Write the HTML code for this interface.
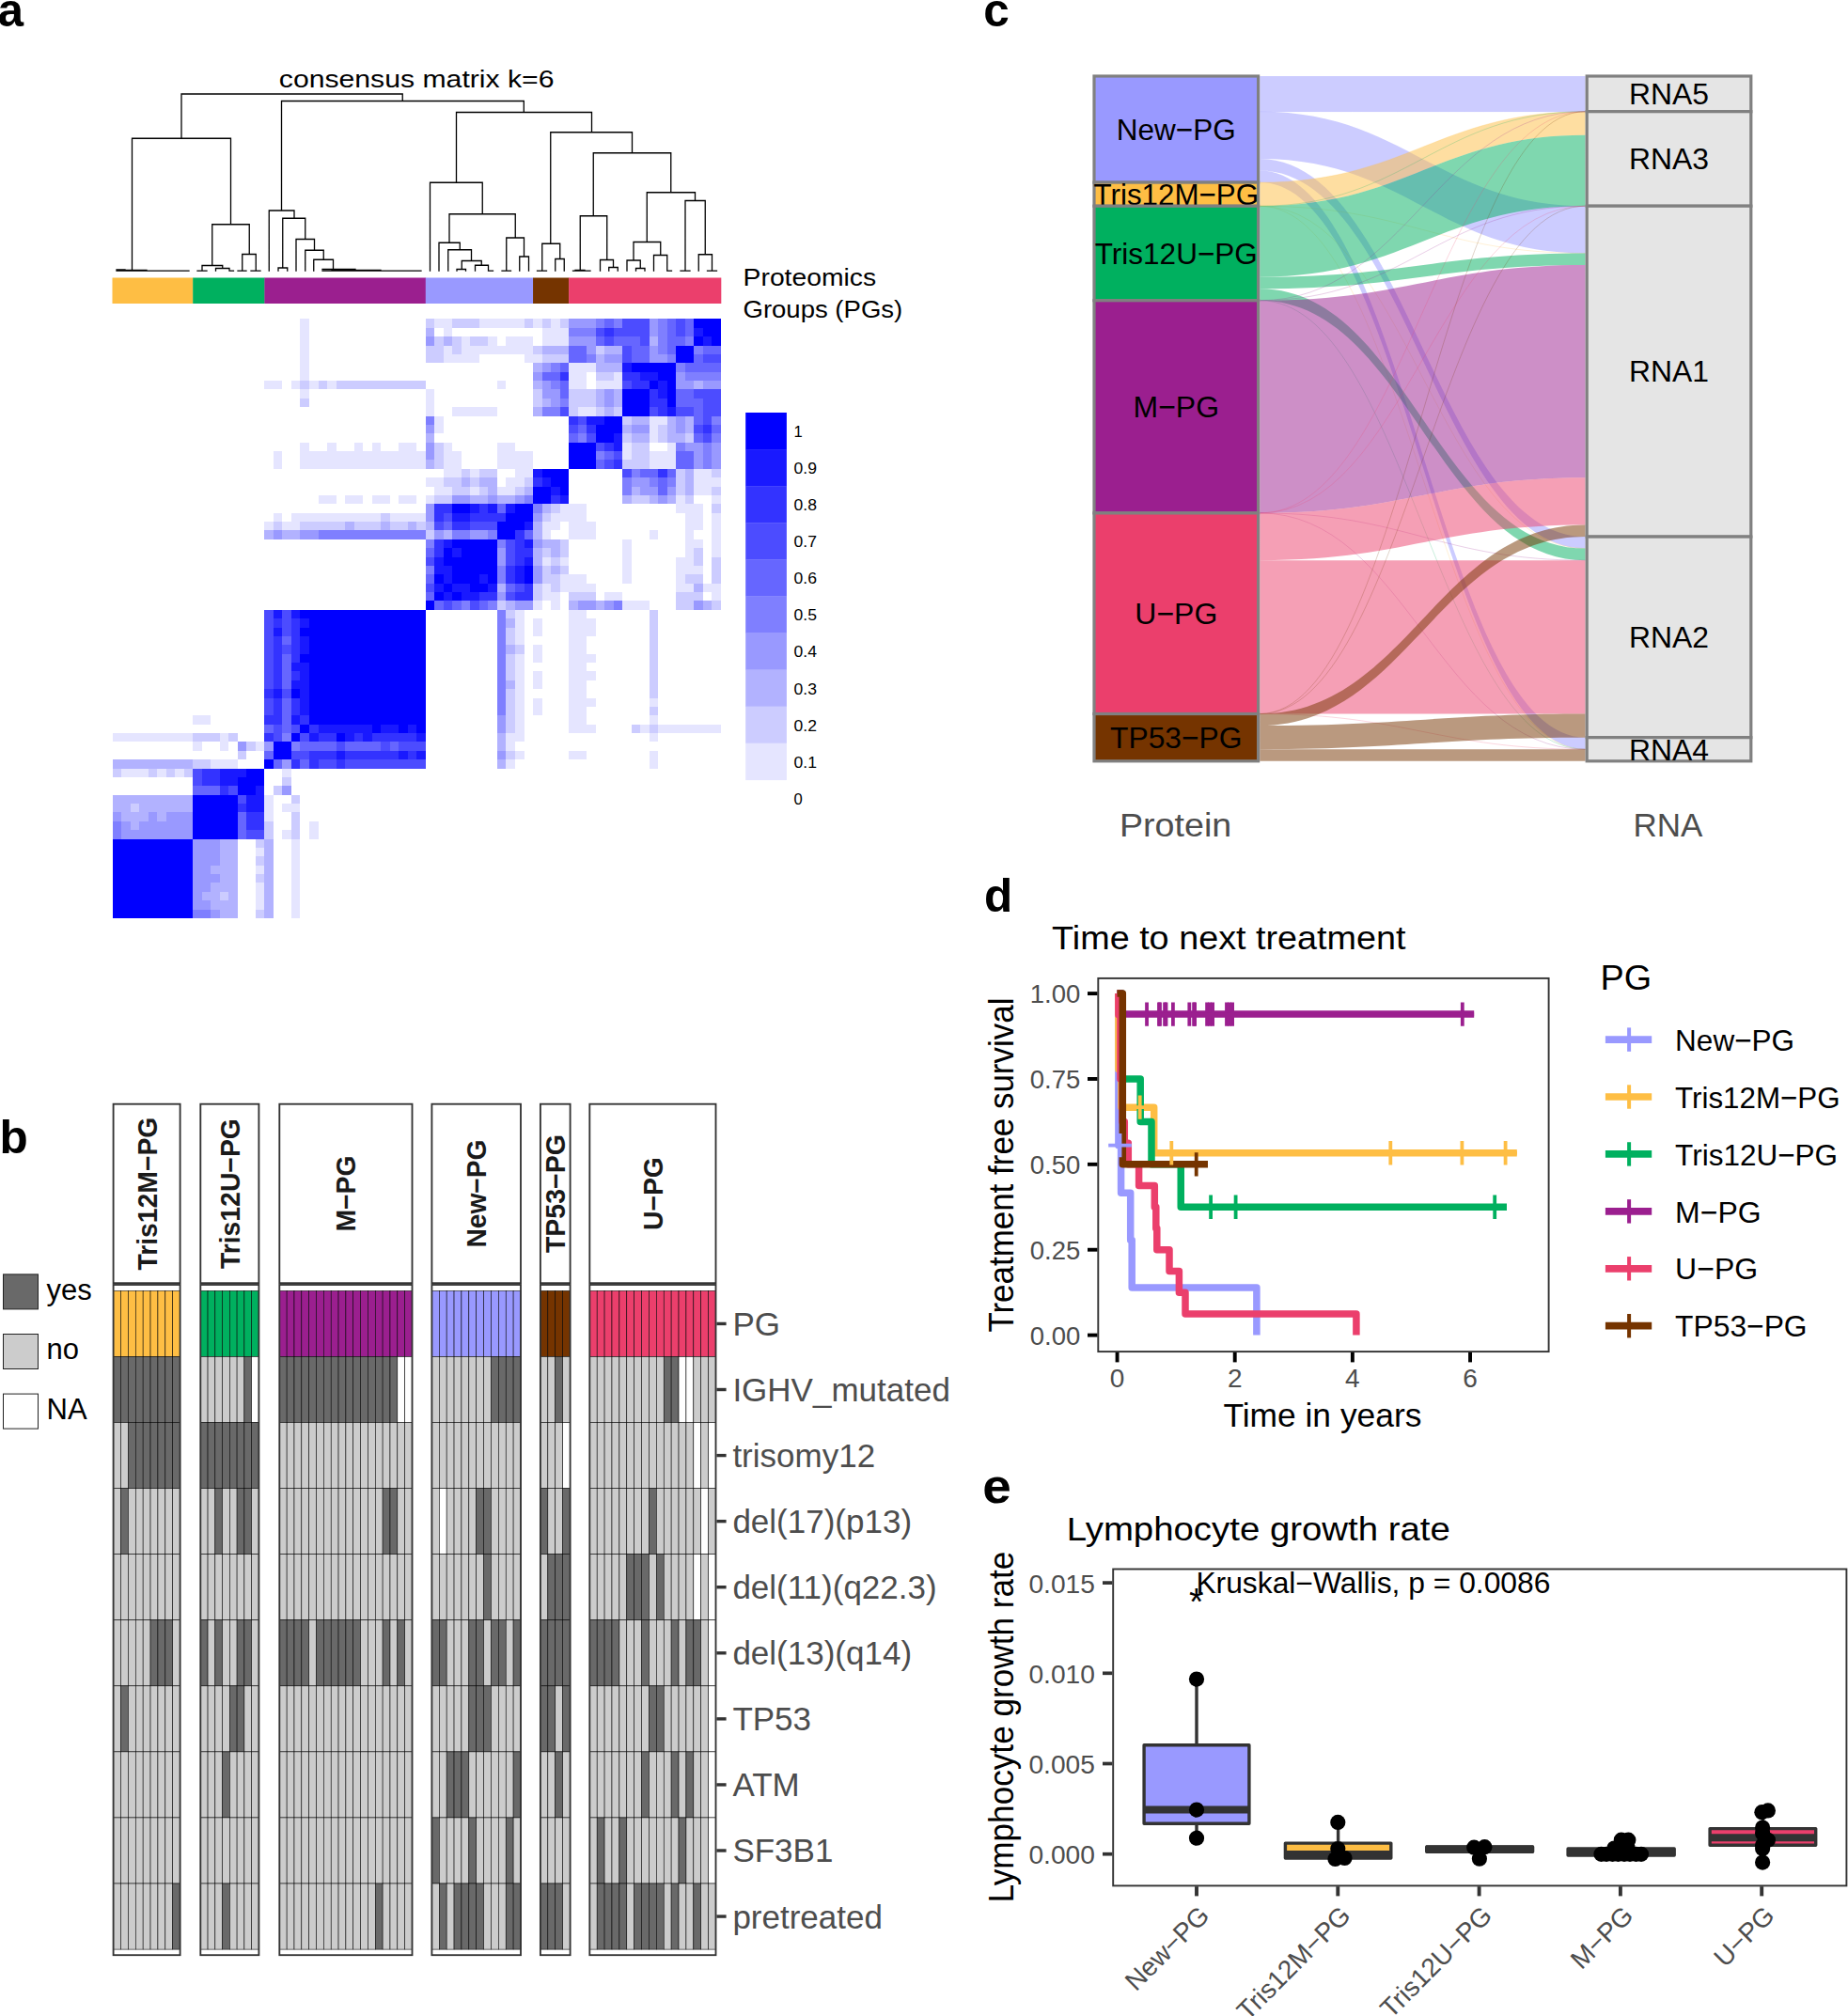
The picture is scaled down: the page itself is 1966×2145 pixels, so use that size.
<!DOCTYPE html>
<html lang="en"><head><meta charset="utf-8"><title>Figure</title>
<style>
html,body{margin:0;padding:0;background:#fff}
svg{display:block}
text{font-family:"Liberation Sans",sans-serif}
</style></head><body>
<svg width="1966" height="2145" viewBox="0 0 1966 2145">
<rect width="1966" height="2145" fill="#fff"/>
<g id="panel-a">
<path d="M193 100H428.25M428.25 100V107.5M299.5 107.5H557.3M193 100V147.25M140.5 147.25H245.5M140.5 147.25V288.2M245.5 147.25V238.75M225.75 238.75H265.25M225.75 238.75V282.5M265.25 238.75V270.5M257.75 270.5H272.25M257.75 270.5V288.2M272.25 270.5V288.2M215 282.5H236.75M215 282.5V288.2M236.75 282.5V285.5M229.5 285.5H244M229.5 285.5V288.2M244 285.5V288.2M210 288.2H220M244 288.2H248.5M253 288.2H262M267 288.2H277M124 288.2H201M124 287H133M133 287.5H156M299.5 107.5V224M286.25 224H313M286.25 224V288.2M313 224V232.25M300.75 232.25H324.75M300.75 232.25V285M296 285H305.75M296 285V288.2M305.75 285V288.2M324.75 232.25V254.5M315 254.5H334.5M315 254.5V288.2M334.5 254.5V266.25M324.75 266.25H344.25M324.75 266.25V288.2M344.25 266.25V276.25M333.75 276.25H354.5M333.75 276.25V288.2M354.5 276.25V286.5M343 286.5H378M353 287.3H405M343 288.2H448M557.3 107.5V119.5M485.5 119.5H629.5M485.5 119.5V194.25M457.5 194.25H513.25M457.5 194.25V288.2M513.25 194.25V227.75M478 227.75H548.25M478 227.75V258.25M467 258.25H489.25M467 258.25V288.2M489.25 258.25V265.75M476.75 265.75H501.5M476.75 265.75V288.2M501.5 265.75V277.5M491.25 277.5H512.25M491.25 277.5V286.5M486 286.5H495.5M486 286.5V288.2M495.5 286.5V288.2M512.25 277.5V282.25M505.5 282.25H519.5M505.5 282.25V288.2M519.5 282.25V288.2M519.5 288.2H524.5M548.25 227.75V253M538.75 253H557.5M538.75 253V288.2M534 288.2H543.5M557.5 253V273M552.75 273H562.5M552.75 273V288.2M562.5 273V288.2M629.5 119.5V140.75M585.75 140.75H672.5M585.75 140.75V259.25M576.75 259.25H595.75M576.75 259.25V288.2M571.5 288.2H581.5M595.75 259.25V275.5M590.75 275.5H600.25M590.75 275.5V288.2M600.25 275.5V288.2M672.5 140.75V162.75M631.25 162.75H713.75M631.25 162.75V229.75M617.25 229.75H645.75M617.25 229.75V288.2M609.5 288.2H628M612 287.5H622M645.75 229.75V276.5M638.5 276.5H652.5M638.5 276.5V288.2M652.5 276.5V284.5M647.75 284.5H657.25M647.75 284.5V288.2M657.25 284.5V288.2M713.75 162.75V204.75M688.25 204.75H739.5M688.25 204.75V257.5M674 257.5H702.75M674 257.5V277M667 277H681.25M667 277V288.2M681.25 277V285.5M676.5 285.5H686M676.5 285.5V288.2M686 285.5V288.2M702.75 257.5V271.5M695.5 271.5H709.75M695.5 271.5V288.2M709.75 271.5V288.2M709.75 288.2H714.5M739.5 204.75V213.5M729 213.5H750.25M729 213.5V288.2M724 288.2H734M750.25 213.5V270.75M743.25 270.75H757.5M743.25 270.75V288.2M757.5 270.75V288.2M752.5 288.2H762.5" fill="none" stroke="#000" stroke-width="1.3" stroke-linecap="square"/>
<rect x="119.5" y="295.5" width="86" height="27.5" fill="#FEBE44"/>
<rect x="205.2" y="295.5" width="76.48" height="27.5" fill="#00B05F"/>
<rect x="281.38" y="295.5" width="171.7" height="27.5" fill="#9B1F8F"/>
<rect x="452.77" y="295.5" width="114.56" height="27.5" fill="#9999FF"/>
<rect x="567.04" y="295.5" width="38.39" height="27.5" fill="#753400"/>
<rect x="605.12" y="295.5" width="162.18" height="27.5" fill="#EB3F6C"/>
<g shape-rendering="crispEdges">
<rect x="319.46" y="339.4" width="9.52" height="9.38" fill="#E5E5FF"/>
<rect x="452.77" y="339.4" width="9.52" height="9.38" fill="#CCCCFF"/>
<rect x="462.29" y="339.4" width="19.04" height="9.38" fill="#E5E5FF"/>
<rect x="481.34" y="339.4" width="28.57" height="9.38" fill="#CCCCFF"/>
<rect x="509.9" y="339.4" width="47.61" height="9.38" fill="#E5E5FF"/>
<rect x="557.51" y="339.4" width="9.52" height="9.38" fill="#CCCCFF"/>
<rect x="567.04" y="339.4" width="9.52" height="9.38" fill="#E5E5FF"/>
<rect x="576.56" y="339.4" width="9.52" height="9.38" fill="#CCCCFF"/>
<rect x="586.08" y="339.4" width="9.52" height="9.38" fill="#E5E5FF"/>
<rect x="595.6" y="339.4" width="9.52" height="9.38" fill="#CCCCFF"/>
<rect x="605.12" y="339.4" width="28.57" height="9.38" fill="#9999FF"/>
<rect x="633.69" y="339.4" width="9.52" height="9.38" fill="#7F7FFF"/>
<rect x="643.21" y="339.4" width="9.52" height="9.38" fill="#6666FF"/>
<rect x="652.74" y="339.4" width="9.52" height="9.38" fill="#7F7FFF"/>
<rect x="662.26" y="339.4" width="28.57" height="9.38" fill="#4C4CFF"/>
<rect x="690.82" y="339.4" width="9.52" height="9.38" fill="#9999FF"/>
<rect x="700.35" y="339.4" width="9.52" height="9.38" fill="#7F7FFF"/>
<rect x="709.87" y="339.4" width="9.52" height="9.38" fill="#6666FF"/>
<rect x="719.39" y="339.4" width="9.52" height="9.38" fill="#4C4CFF"/>
<rect x="728.91" y="339.4" width="9.52" height="9.38" fill="#6666FF"/>
<rect x="738.43" y="339.4" width="28.57" height="9.38" fill="#0000FF"/>
<rect x="319.46" y="348.78" width="9.52" height="9.38" fill="#E5E5FF"/>
<rect x="452.77" y="348.78" width="9.52" height="9.38" fill="#B2B2FF"/>
<rect x="471.82" y="348.78" width="9.52" height="9.38" fill="#E5E5FF"/>
<rect x="576.56" y="348.78" width="28.57" height="9.38" fill="#E5E5FF"/>
<rect x="605.12" y="348.78" width="28.57" height="9.38" fill="#7F7FFF"/>
<rect x="633.69" y="348.78" width="9.52" height="9.38" fill="#4C4CFF"/>
<rect x="643.21" y="348.78" width="9.52" height="9.38" fill="#3333FF"/>
<rect x="652.74" y="348.78" width="38.09" height="9.38" fill="#4C4CFF"/>
<rect x="690.82" y="348.78" width="9.52" height="9.38" fill="#9999FF"/>
<rect x="700.35" y="348.78" width="9.52" height="9.38" fill="#7F7FFF"/>
<rect x="709.87" y="348.78" width="9.52" height="9.38" fill="#6666FF"/>
<rect x="719.39" y="348.78" width="9.52" height="9.38" fill="#4C4CFF"/>
<rect x="728.91" y="348.78" width="9.52" height="9.38" fill="#6666FF"/>
<rect x="738.43" y="348.78" width="9.52" height="9.38" fill="#1919FF"/>
<rect x="747.96" y="348.78" width="19.04" height="9.38" fill="#0000FF"/>
<rect x="319.46" y="358.15" width="9.52" height="9.38" fill="#E5E5FF"/>
<rect x="452.77" y="358.15" width="9.52" height="9.38" fill="#9999FF"/>
<rect x="462.29" y="358.15" width="9.52" height="9.38" fill="#CCCCFF"/>
<rect x="471.82" y="358.15" width="9.52" height="9.38" fill="#B2B2FF"/>
<rect x="481.34" y="358.15" width="9.52" height="9.38" fill="#CCCCFF"/>
<rect x="490.86" y="358.15" width="9.52" height="9.38" fill="#E5E5FF"/>
<rect x="500.38" y="358.15" width="19.04" height="9.38" fill="#CCCCFF"/>
<rect x="519.43" y="358.15" width="9.52" height="9.38" fill="#E5E5FF"/>
<rect x="538.47" y="358.15" width="28.57" height="9.38" fill="#E5E5FF"/>
<rect x="576.56" y="358.15" width="28.57" height="9.38" fill="#E5E5FF"/>
<rect x="605.12" y="358.15" width="28.57" height="9.38" fill="#9999FF"/>
<rect x="633.69" y="358.15" width="9.52" height="9.38" fill="#6666FF"/>
<rect x="643.21" y="358.15" width="9.52" height="9.38" fill="#4C4CFF"/>
<rect x="652.74" y="358.15" width="28.57" height="9.38" fill="#6666FF"/>
<rect x="681.3" y="358.15" width="9.52" height="9.38" fill="#4C4CFF"/>
<rect x="690.82" y="358.15" width="9.52" height="9.38" fill="#B2B2FF"/>
<rect x="700.35" y="358.15" width="9.52" height="9.38" fill="#7F7FFF"/>
<rect x="709.87" y="358.15" width="19.04" height="9.38" fill="#6666FF"/>
<rect x="728.91" y="358.15" width="9.52" height="9.38" fill="#7F7FFF"/>
<rect x="738.43" y="358.15" width="9.52" height="9.38" fill="#0000FF"/>
<rect x="747.96" y="358.15" width="9.52" height="9.38" fill="#1919FF"/>
<rect x="757.48" y="358.15" width="9.52" height="9.38" fill="#0000FF"/>
<rect x="319.46" y="367.53" width="9.52" height="9.38" fill="#E5E5FF"/>
<rect x="452.77" y="367.53" width="19.04" height="9.38" fill="#CCCCFF"/>
<rect x="471.82" y="367.53" width="9.52" height="9.38" fill="#E5E5FF"/>
<rect x="481.34" y="367.53" width="9.52" height="9.38" fill="#CCCCFF"/>
<rect x="490.86" y="367.53" width="76.18" height="9.38" fill="#E5E5FF"/>
<rect x="567.04" y="367.53" width="9.52" height="9.38" fill="#CCCCFF"/>
<rect x="576.56" y="367.53" width="28.57" height="9.38" fill="#B2B2FF"/>
<rect x="605.12" y="367.53" width="19.04" height="9.38" fill="#6666FF"/>
<rect x="624.17" y="367.53" width="9.52" height="9.38" fill="#9999FF"/>
<rect x="633.69" y="367.53" width="9.52" height="9.38" fill="#CCCCFF"/>
<rect x="643.21" y="367.53" width="19.04" height="9.38" fill="#B2B2FF"/>
<rect x="662.26" y="367.53" width="9.52" height="9.38" fill="#4C4CFF"/>
<rect x="671.78" y="367.53" width="19.04" height="9.38" fill="#6666FF"/>
<rect x="690.82" y="367.53" width="9.52" height="9.38" fill="#9999FF"/>
<rect x="700.35" y="367.53" width="9.52" height="9.38" fill="#7F7FFF"/>
<rect x="709.87" y="367.53" width="9.52" height="9.38" fill="#6666FF"/>
<rect x="719.39" y="367.53" width="19.04" height="9.38" fill="#0000FF"/>
<rect x="738.43" y="367.53" width="9.52" height="9.38" fill="#7F7FFF"/>
<rect x="747.96" y="367.53" width="19.04" height="9.38" fill="#6666FF"/>
<rect x="319.46" y="376.91" width="9.52" height="9.38" fill="#E5E5FF"/>
<rect x="452.77" y="376.91" width="19.04" height="9.38" fill="#CCCCFF"/>
<rect x="471.82" y="376.91" width="38.09" height="9.38" fill="#E5E5FF"/>
<rect x="557.51" y="376.91" width="19.04" height="9.38" fill="#E5E5FF"/>
<rect x="576.56" y="376.91" width="28.57" height="9.38" fill="#CCCCFF"/>
<rect x="605.12" y="376.91" width="19.04" height="9.38" fill="#6666FF"/>
<rect x="624.17" y="376.91" width="9.52" height="9.38" fill="#7F7FFF"/>
<rect x="633.69" y="376.91" width="9.52" height="9.38" fill="#B2B2FF"/>
<rect x="643.21" y="376.91" width="19.04" height="9.38" fill="#9999FF"/>
<rect x="662.26" y="376.91" width="9.52" height="9.38" fill="#4C4CFF"/>
<rect x="671.78" y="376.91" width="19.04" height="9.38" fill="#6666FF"/>
<rect x="690.82" y="376.91" width="19.04" height="9.38" fill="#9999FF"/>
<rect x="709.87" y="376.91" width="9.52" height="9.38" fill="#7F7FFF"/>
<rect x="719.39" y="376.91" width="19.04" height="9.38" fill="#0000FF"/>
<rect x="738.43" y="376.91" width="9.52" height="9.38" fill="#6666FF"/>
<rect x="747.96" y="376.91" width="19.04" height="9.38" fill="#4C4CFF"/>
<rect x="319.46" y="386.28" width="9.52" height="9.38" fill="#E5E5FF"/>
<rect x="567.04" y="386.28" width="9.52" height="9.38" fill="#B2B2FF"/>
<rect x="576.56" y="386.28" width="9.52" height="9.38" fill="#9999FF"/>
<rect x="586.08" y="386.28" width="9.52" height="9.38" fill="#7F7FFF"/>
<rect x="595.6" y="386.28" width="9.52" height="9.38" fill="#6666FF"/>
<rect x="605.12" y="386.28" width="28.57" height="9.38" fill="#E5E5FF"/>
<rect x="633.69" y="386.28" width="28.57" height="9.38" fill="#B2B2FF"/>
<rect x="662.26" y="386.28" width="9.52" height="9.38" fill="#1919FF"/>
<rect x="671.78" y="386.28" width="47.61" height="9.38" fill="#0000FF"/>
<rect x="719.39" y="386.28" width="9.52" height="9.38" fill="#7F7FFF"/>
<rect x="728.91" y="386.28" width="38.09" height="9.38" fill="#6666FF"/>
<rect x="319.46" y="395.66" width="9.52" height="9.38" fill="#E5E5FF"/>
<rect x="567.04" y="395.66" width="9.52" height="9.38" fill="#9999FF"/>
<rect x="576.56" y="395.66" width="19.04" height="9.38" fill="#6666FF"/>
<rect x="595.6" y="395.66" width="9.52" height="9.38" fill="#3333FF"/>
<rect x="605.12" y="395.66" width="19.04" height="9.38" fill="#E5E5FF"/>
<rect x="633.69" y="395.66" width="19.04" height="9.38" fill="#CCCCFF"/>
<rect x="652.74" y="395.66" width="9.52" height="9.38" fill="#E5E5FF"/>
<rect x="662.26" y="395.66" width="19.04" height="9.38" fill="#3333FF"/>
<rect x="681.3" y="395.66" width="19.04" height="9.38" fill="#1919FF"/>
<rect x="700.35" y="395.66" width="19.04" height="9.38" fill="#0000FF"/>
<rect x="719.39" y="395.66" width="9.52" height="9.38" fill="#9999FF"/>
<rect x="728.91" y="395.66" width="38.09" height="9.38" fill="#7F7FFF"/>
<rect x="281.38" y="405.04" width="19.04" height="9.38" fill="#E5E5FF"/>
<rect x="309.94" y="405.04" width="9.52" height="9.38" fill="#E5E5FF"/>
<rect x="319.46" y="405.04" width="9.52" height="9.38" fill="#CCCCFF"/>
<rect x="328.99" y="405.04" width="9.52" height="9.38" fill="#E5E5FF"/>
<rect x="338.51" y="405.04" width="9.52" height="9.38" fill="#CCCCFF"/>
<rect x="348.03" y="405.04" width="9.52" height="9.38" fill="#E5E5FF"/>
<rect x="357.55" y="405.04" width="95.22" height="9.38" fill="#CCCCFF"/>
<rect x="528.95" y="405.04" width="9.52" height="9.38" fill="#E5E5FF"/>
<rect x="567.04" y="405.04" width="9.52" height="9.38" fill="#B2B2FF"/>
<rect x="576.56" y="405.04" width="9.52" height="9.38" fill="#9999FF"/>
<rect x="586.08" y="405.04" width="9.52" height="9.38" fill="#7F7FFF"/>
<rect x="595.6" y="405.04" width="9.52" height="9.38" fill="#6666FF"/>
<rect x="605.12" y="405.04" width="19.04" height="9.38" fill="#E5E5FF"/>
<rect x="633.69" y="405.04" width="28.57" height="9.38" fill="#E5E5FF"/>
<rect x="662.26" y="405.04" width="9.52" height="9.38" fill="#4C4CFF"/>
<rect x="671.78" y="405.04" width="19.04" height="9.38" fill="#3333FF"/>
<rect x="690.82" y="405.04" width="9.52" height="9.38" fill="#0000FF"/>
<rect x="700.35" y="405.04" width="9.52" height="9.38" fill="#1919FF"/>
<rect x="709.87" y="405.04" width="9.52" height="9.38" fill="#0000FF"/>
<rect x="719.39" y="405.04" width="19.04" height="9.38" fill="#9999FF"/>
<rect x="738.43" y="405.04" width="9.52" height="9.38" fill="#B2B2FF"/>
<rect x="747.96" y="405.04" width="19.04" height="9.38" fill="#9999FF"/>
<rect x="319.46" y="414.41" width="9.52" height="9.38" fill="#E5E5FF"/>
<rect x="452.77" y="414.41" width="9.52" height="9.38" fill="#E5E5FF"/>
<rect x="567.04" y="414.41" width="9.52" height="9.38" fill="#CCCCFF"/>
<rect x="576.56" y="414.41" width="19.04" height="9.38" fill="#9999FF"/>
<rect x="595.6" y="414.41" width="9.52" height="9.38" fill="#6666FF"/>
<rect x="605.12" y="414.41" width="28.57" height="9.38" fill="#CCCCFF"/>
<rect x="633.69" y="414.41" width="9.52" height="9.38" fill="#B2B2FF"/>
<rect x="643.21" y="414.41" width="9.52" height="9.38" fill="#9999FF"/>
<rect x="652.74" y="414.41" width="9.52" height="9.38" fill="#B2B2FF"/>
<rect x="662.26" y="414.41" width="28.57" height="9.38" fill="#0000FF"/>
<rect x="690.82" y="414.41" width="9.52" height="9.38" fill="#3333FF"/>
<rect x="700.35" y="414.41" width="9.52" height="9.38" fill="#1919FF"/>
<rect x="709.87" y="414.41" width="9.52" height="9.38" fill="#0000FF"/>
<rect x="719.39" y="414.41" width="19.04" height="9.38" fill="#6666FF"/>
<rect x="738.43" y="414.41" width="28.57" height="9.38" fill="#4C4CFF"/>
<rect x="319.46" y="423.79" width="9.52" height="9.38" fill="#CCCCFF"/>
<rect x="452.77" y="423.79" width="9.52" height="9.38" fill="#E5E5FF"/>
<rect x="567.04" y="423.79" width="9.52" height="9.38" fill="#CCCCFF"/>
<rect x="576.56" y="423.79" width="9.52" height="9.38" fill="#B2B2FF"/>
<rect x="586.08" y="423.79" width="9.52" height="9.38" fill="#9999FF"/>
<rect x="595.6" y="423.79" width="9.52" height="9.38" fill="#7F7FFF"/>
<rect x="605.12" y="423.79" width="28.57" height="9.38" fill="#CCCCFF"/>
<rect x="633.69" y="423.79" width="9.52" height="9.38" fill="#B2B2FF"/>
<rect x="643.21" y="423.79" width="9.52" height="9.38" fill="#9999FF"/>
<rect x="652.74" y="423.79" width="9.52" height="9.38" fill="#B2B2FF"/>
<rect x="662.26" y="423.79" width="28.57" height="9.38" fill="#0000FF"/>
<rect x="690.82" y="423.79" width="19.04" height="9.38" fill="#3333FF"/>
<rect x="709.87" y="423.79" width="9.52" height="9.38" fill="#0000FF"/>
<rect x="719.39" y="423.79" width="28.57" height="9.38" fill="#6666FF"/>
<rect x="747.96" y="423.79" width="19.04" height="9.38" fill="#4C4CFF"/>
<rect x="452.77" y="433.16" width="9.52" height="9.38" fill="#E5E5FF"/>
<rect x="481.34" y="433.16" width="47.61" height="9.38" fill="#E5E5FF"/>
<rect x="567.04" y="433.16" width="9.52" height="9.38" fill="#B2B2FF"/>
<rect x="576.56" y="433.16" width="19.04" height="9.38" fill="#7F7FFF"/>
<rect x="595.6" y="433.16" width="9.52" height="9.38" fill="#4C4CFF"/>
<rect x="605.12" y="433.16" width="9.52" height="9.38" fill="#CCCCFF"/>
<rect x="614.65" y="433.16" width="19.04" height="9.38" fill="#E5E5FF"/>
<rect x="633.69" y="433.16" width="9.52" height="9.38" fill="#CCCCFF"/>
<rect x="643.21" y="433.16" width="9.52" height="9.38" fill="#B2B2FF"/>
<rect x="652.74" y="433.16" width="9.52" height="9.38" fill="#CCCCFF"/>
<rect x="662.26" y="433.16" width="28.57" height="9.38" fill="#0000FF"/>
<rect x="690.82" y="433.16" width="9.52" height="9.38" fill="#4C4CFF"/>
<rect x="700.35" y="433.16" width="9.52" height="9.38" fill="#3333FF"/>
<rect x="709.87" y="433.16" width="9.52" height="9.38" fill="#1919FF"/>
<rect x="719.39" y="433.16" width="19.04" height="9.38" fill="#4C4CFF"/>
<rect x="738.43" y="433.16" width="9.52" height="9.38" fill="#6666FF"/>
<rect x="747.96" y="433.16" width="19.04" height="9.38" fill="#4C4CFF"/>
<rect x="452.77" y="442.54" width="9.52" height="9.38" fill="#7F7FFF"/>
<rect x="462.29" y="442.54" width="9.52" height="9.38" fill="#E5E5FF"/>
<rect x="605.12" y="442.54" width="9.52" height="9.38" fill="#3333FF"/>
<rect x="614.65" y="442.54" width="9.52" height="9.38" fill="#4C4CFF"/>
<rect x="624.17" y="442.54" width="19.04" height="9.38" fill="#1919FF"/>
<rect x="643.21" y="442.54" width="19.04" height="9.38" fill="#0000FF"/>
<rect x="662.26" y="442.54" width="9.52" height="9.38" fill="#CCCCFF"/>
<rect x="671.78" y="442.54" width="19.04" height="9.38" fill="#B2B2FF"/>
<rect x="690.82" y="442.54" width="19.04" height="9.38" fill="#E5E5FF"/>
<rect x="709.87" y="442.54" width="9.52" height="9.38" fill="#B2B2FF"/>
<rect x="719.39" y="442.54" width="9.52" height="9.38" fill="#9999FF"/>
<rect x="728.91" y="442.54" width="9.52" height="9.38" fill="#B2B2FF"/>
<rect x="738.43" y="442.54" width="9.52" height="9.38" fill="#6666FF"/>
<rect x="747.96" y="442.54" width="9.52" height="9.38" fill="#4C4CFF"/>
<rect x="757.48" y="442.54" width="9.52" height="9.38" fill="#7F7FFF"/>
<rect x="452.77" y="451.92" width="9.52" height="9.38" fill="#9999FF"/>
<rect x="462.29" y="451.92" width="9.52" height="9.38" fill="#E5E5FF"/>
<rect x="605.12" y="451.92" width="9.52" height="9.38" fill="#4C4CFF"/>
<rect x="614.65" y="451.92" width="9.52" height="9.38" fill="#6666FF"/>
<rect x="624.17" y="451.92" width="9.52" height="9.38" fill="#3333FF"/>
<rect x="633.69" y="451.92" width="28.57" height="9.38" fill="#0000FF"/>
<rect x="662.26" y="451.92" width="9.52" height="9.38" fill="#B2B2FF"/>
<rect x="671.78" y="451.92" width="19.04" height="9.38" fill="#9999FF"/>
<rect x="690.82" y="451.92" width="9.52" height="9.38" fill="#E5E5FF"/>
<rect x="700.35" y="451.92" width="9.52" height="9.38" fill="#CCCCFF"/>
<rect x="709.87" y="451.92" width="9.52" height="9.38" fill="#B2B2FF"/>
<rect x="719.39" y="451.92" width="9.52" height="9.38" fill="#9999FF"/>
<rect x="728.91" y="451.92" width="9.52" height="9.38" fill="#B2B2FF"/>
<rect x="738.43" y="451.92" width="9.52" height="9.38" fill="#4C4CFF"/>
<rect x="747.96" y="451.92" width="9.52" height="9.38" fill="#3333FF"/>
<rect x="757.48" y="451.92" width="9.52" height="9.38" fill="#6666FF"/>
<rect x="452.77" y="461.29" width="9.52" height="9.38" fill="#B2B2FF"/>
<rect x="605.12" y="461.29" width="9.52" height="9.38" fill="#6666FF"/>
<rect x="614.65" y="461.29" width="9.52" height="9.38" fill="#7F7FFF"/>
<rect x="624.17" y="461.29" width="9.52" height="9.38" fill="#4C4CFF"/>
<rect x="633.69" y="461.29" width="19.04" height="9.38" fill="#0000FF"/>
<rect x="652.74" y="461.29" width="9.52" height="9.38" fill="#1919FF"/>
<rect x="662.26" y="461.29" width="9.52" height="9.38" fill="#CCCCFF"/>
<rect x="671.78" y="461.29" width="19.04" height="9.38" fill="#B2B2FF"/>
<rect x="690.82" y="461.29" width="9.52" height="9.38" fill="#E5E5FF"/>
<rect x="700.35" y="461.29" width="9.52" height="9.38" fill="#CCCCFF"/>
<rect x="709.87" y="461.29" width="19.04" height="9.38" fill="#B2B2FF"/>
<rect x="728.91" y="461.29" width="9.52" height="9.38" fill="#CCCCFF"/>
<rect x="738.43" y="461.29" width="9.52" height="9.38" fill="#6666FF"/>
<rect x="747.96" y="461.29" width="9.52" height="9.38" fill="#4C4CFF"/>
<rect x="757.48" y="461.29" width="9.52" height="9.38" fill="#7F7FFF"/>
<rect x="319.46" y="470.67" width="9.52" height="9.38" fill="#E5E5FF"/>
<rect x="348.03" y="470.67" width="9.52" height="9.38" fill="#E5E5FF"/>
<rect x="376.6" y="470.67" width="9.52" height="9.38" fill="#E5E5FF"/>
<rect x="395.64" y="470.67" width="9.52" height="9.38" fill="#E5E5FF"/>
<rect x="424.21" y="470.67" width="19.04" height="9.38" fill="#E5E5FF"/>
<rect x="452.77" y="470.67" width="9.52" height="9.38" fill="#9999FF"/>
<rect x="462.29" y="470.67" width="9.52" height="9.38" fill="#CCCCFF"/>
<rect x="471.82" y="470.67" width="9.52" height="9.38" fill="#E5E5FF"/>
<rect x="528.95" y="470.67" width="19.04" height="9.38" fill="#E5E5FF"/>
<rect x="605.12" y="470.67" width="28.57" height="9.38" fill="#0000FF"/>
<rect x="633.69" y="470.67" width="9.52" height="9.38" fill="#4C4CFF"/>
<rect x="643.21" y="470.67" width="9.52" height="9.38" fill="#3333FF"/>
<rect x="652.74" y="470.67" width="9.52" height="9.38" fill="#1919FF"/>
<rect x="662.26" y="470.67" width="9.52" height="9.38" fill="#E5E5FF"/>
<rect x="671.78" y="470.67" width="19.04" height="9.38" fill="#CCCCFF"/>
<rect x="709.87" y="470.67" width="9.52" height="9.38" fill="#E5E5FF"/>
<rect x="719.39" y="470.67" width="9.52" height="9.38" fill="#7F7FFF"/>
<rect x="728.91" y="470.67" width="19.04" height="9.38" fill="#9999FF"/>
<rect x="747.96" y="470.67" width="9.52" height="9.38" fill="#7F7FFF"/>
<rect x="757.48" y="470.67" width="9.52" height="9.38" fill="#9999FF"/>
<rect x="290.9" y="480.05" width="9.52" height="9.38" fill="#E5E5FF"/>
<rect x="319.46" y="480.05" width="133.31" height="9.38" fill="#E5E5FF"/>
<rect x="452.77" y="480.05" width="9.52" height="9.38" fill="#9999FF"/>
<rect x="462.29" y="480.05" width="9.52" height="9.38" fill="#CCCCFF"/>
<rect x="471.82" y="480.05" width="19.04" height="9.38" fill="#E5E5FF"/>
<rect x="528.95" y="480.05" width="38.09" height="9.38" fill="#E5E5FF"/>
<rect x="605.12" y="480.05" width="28.57" height="9.38" fill="#0000FF"/>
<rect x="633.69" y="480.05" width="9.52" height="9.38" fill="#7F7FFF"/>
<rect x="643.21" y="480.05" width="9.52" height="9.38" fill="#6666FF"/>
<rect x="652.74" y="480.05" width="9.52" height="9.38" fill="#4C4CFF"/>
<rect x="662.26" y="480.05" width="9.52" height="9.38" fill="#E5E5FF"/>
<rect x="671.78" y="480.05" width="19.04" height="9.38" fill="#CCCCFF"/>
<rect x="690.82" y="480.05" width="28.57" height="9.38" fill="#E5E5FF"/>
<rect x="719.39" y="480.05" width="19.04" height="9.38" fill="#6666FF"/>
<rect x="738.43" y="480.05" width="9.52" height="9.38" fill="#9999FF"/>
<rect x="747.96" y="480.05" width="9.52" height="9.38" fill="#7F7FFF"/>
<rect x="757.48" y="480.05" width="9.52" height="9.38" fill="#9999FF"/>
<rect x="290.9" y="489.42" width="9.52" height="9.38" fill="#E5E5FF"/>
<rect x="319.46" y="489.42" width="133.31" height="9.38" fill="#E5E5FF"/>
<rect x="452.77" y="489.42" width="9.52" height="9.38" fill="#B2B2FF"/>
<rect x="462.29" y="489.42" width="9.52" height="9.38" fill="#CCCCFF"/>
<rect x="471.82" y="489.42" width="19.04" height="9.38" fill="#E5E5FF"/>
<rect x="528.95" y="489.42" width="38.09" height="9.38" fill="#E5E5FF"/>
<rect x="605.12" y="489.42" width="28.57" height="9.38" fill="#0000FF"/>
<rect x="633.69" y="489.42" width="9.52" height="9.38" fill="#6666FF"/>
<rect x="643.21" y="489.42" width="9.52" height="9.38" fill="#4C4CFF"/>
<rect x="652.74" y="489.42" width="9.52" height="9.38" fill="#3333FF"/>
<rect x="662.26" y="489.42" width="28.57" height="9.38" fill="#CCCCFF"/>
<rect x="690.82" y="489.42" width="28.57" height="9.38" fill="#E5E5FF"/>
<rect x="719.39" y="489.42" width="19.04" height="9.38" fill="#6666FF"/>
<rect x="738.43" y="489.42" width="9.52" height="9.38" fill="#9999FF"/>
<rect x="747.96" y="489.42" width="9.52" height="9.38" fill="#7F7FFF"/>
<rect x="757.48" y="489.42" width="9.52" height="9.38" fill="#9999FF"/>
<rect x="471.82" y="498.8" width="19.04" height="9.38" fill="#E5E5FF"/>
<rect x="490.86" y="498.8" width="9.52" height="9.38" fill="#CCCCFF"/>
<rect x="500.38" y="498.8" width="9.52" height="9.38" fill="#E5E5FF"/>
<rect x="509.9" y="498.8" width="19.04" height="9.38" fill="#CCCCFF"/>
<rect x="547.99" y="498.8" width="19.04" height="9.38" fill="#E5E5FF"/>
<rect x="567.04" y="498.8" width="9.52" height="9.38" fill="#1919FF"/>
<rect x="576.56" y="498.8" width="28.57" height="9.38" fill="#0000FF"/>
<rect x="662.26" y="498.8" width="9.52" height="9.38" fill="#4C4CFF"/>
<rect x="671.78" y="498.8" width="9.52" height="9.38" fill="#7F7FFF"/>
<rect x="681.3" y="498.8" width="19.04" height="9.38" fill="#6666FF"/>
<rect x="700.35" y="498.8" width="9.52" height="9.38" fill="#3333FF"/>
<rect x="709.87" y="498.8" width="9.52" height="9.38" fill="#6666FF"/>
<rect x="719.39" y="498.8" width="9.52" height="9.38" fill="#CCCCFF"/>
<rect x="728.91" y="498.8" width="9.52" height="9.38" fill="#B2B2FF"/>
<rect x="738.43" y="498.8" width="19.04" height="9.38" fill="#E5E5FF"/>
<rect x="757.48" y="498.8" width="9.52" height="9.38" fill="#CCCCFF"/>
<rect x="452.77" y="508.18" width="19.04" height="9.38" fill="#E5E5FF"/>
<rect x="471.82" y="508.18" width="19.04" height="9.38" fill="#CCCCFF"/>
<rect x="490.86" y="508.18" width="9.52" height="9.38" fill="#B2B2FF"/>
<rect x="500.38" y="508.18" width="9.52" height="9.38" fill="#CCCCFF"/>
<rect x="509.9" y="508.18" width="19.04" height="9.38" fill="#B2B2FF"/>
<rect x="538.47" y="508.18" width="19.04" height="9.38" fill="#E5E5FF"/>
<rect x="557.51" y="508.18" width="9.52" height="9.38" fill="#CCCCFF"/>
<rect x="567.04" y="508.18" width="9.52" height="9.38" fill="#3333FF"/>
<rect x="576.56" y="508.18" width="9.52" height="9.38" fill="#1919FF"/>
<rect x="586.08" y="508.18" width="19.04" height="9.38" fill="#0000FF"/>
<rect x="662.26" y="508.18" width="9.52" height="9.38" fill="#7F7FFF"/>
<rect x="671.78" y="508.18" width="19.04" height="9.38" fill="#9999FF"/>
<rect x="690.82" y="508.18" width="9.52" height="9.38" fill="#7F7FFF"/>
<rect x="700.35" y="508.18" width="9.52" height="9.38" fill="#6666FF"/>
<rect x="709.87" y="508.18" width="9.52" height="9.38" fill="#7F7FFF"/>
<rect x="719.39" y="508.18" width="9.52" height="9.38" fill="#CCCCFF"/>
<rect x="728.91" y="508.18" width="9.52" height="9.38" fill="#B2B2FF"/>
<rect x="738.43" y="508.18" width="28.57" height="9.38" fill="#E5E5FF"/>
<rect x="462.29" y="517.55" width="19.04" height="9.38" fill="#E5E5FF"/>
<rect x="481.34" y="517.55" width="19.04" height="9.38" fill="#CCCCFF"/>
<rect x="500.38" y="517.55" width="9.52" height="9.38" fill="#E5E5FF"/>
<rect x="509.9" y="517.55" width="9.52" height="9.38" fill="#CCCCFF"/>
<rect x="519.43" y="517.55" width="9.52" height="9.38" fill="#B2B2FF"/>
<rect x="528.95" y="517.55" width="19.04" height="9.38" fill="#E5E5FF"/>
<rect x="547.99" y="517.55" width="9.52" height="9.38" fill="#CCCCFF"/>
<rect x="557.51" y="517.55" width="9.52" height="9.38" fill="#B2B2FF"/>
<rect x="567.04" y="517.55" width="19.04" height="9.38" fill="#0000FF"/>
<rect x="586.08" y="517.55" width="9.52" height="9.38" fill="#1919FF"/>
<rect x="595.6" y="517.55" width="9.52" height="9.38" fill="#0000FF"/>
<rect x="662.26" y="517.55" width="9.52" height="9.38" fill="#7F7FFF"/>
<rect x="671.78" y="517.55" width="9.52" height="9.38" fill="#B2B2FF"/>
<rect x="681.3" y="517.55" width="19.04" height="9.38" fill="#9999FF"/>
<rect x="700.35" y="517.55" width="9.52" height="9.38" fill="#6666FF"/>
<rect x="709.87" y="517.55" width="9.52" height="9.38" fill="#9999FF"/>
<rect x="719.39" y="517.55" width="9.52" height="9.38" fill="#CCCCFF"/>
<rect x="728.91" y="517.55" width="9.52" height="9.38" fill="#B2B2FF"/>
<rect x="738.43" y="517.55" width="19.04" height="9.38" fill="#E5E5FF"/>
<rect x="757.48" y="517.55" width="9.52" height="9.38" fill="#CCCCFF"/>
<rect x="338.51" y="526.93" width="19.04" height="9.38" fill="#E5E5FF"/>
<rect x="367.07" y="526.93" width="19.04" height="9.38" fill="#E5E5FF"/>
<rect x="395.64" y="526.93" width="19.04" height="9.38" fill="#E5E5FF"/>
<rect x="424.21" y="526.93" width="19.04" height="9.38" fill="#E5E5FF"/>
<rect x="452.77" y="526.93" width="9.52" height="9.38" fill="#E5E5FF"/>
<rect x="462.29" y="526.93" width="19.04" height="9.38" fill="#CCCCFF"/>
<rect x="481.34" y="526.93" width="19.04" height="9.38" fill="#9999FF"/>
<rect x="500.38" y="526.93" width="19.04" height="9.38" fill="#B2B2FF"/>
<rect x="519.43" y="526.93" width="9.52" height="9.38" fill="#9999FF"/>
<rect x="528.95" y="526.93" width="19.04" height="9.38" fill="#B2B2FF"/>
<rect x="547.99" y="526.93" width="9.52" height="9.38" fill="#9999FF"/>
<rect x="557.51" y="526.93" width="9.52" height="9.38" fill="#7F7FFF"/>
<rect x="567.04" y="526.93" width="19.04" height="9.38" fill="#0000FF"/>
<rect x="586.08" y="526.93" width="9.52" height="9.38" fill="#3333FF"/>
<rect x="595.6" y="526.93" width="9.52" height="9.38" fill="#1919FF"/>
<rect x="662.26" y="526.93" width="9.52" height="9.38" fill="#B2B2FF"/>
<rect x="671.78" y="526.93" width="19.04" height="9.38" fill="#CCCCFF"/>
<rect x="690.82" y="526.93" width="9.52" height="9.38" fill="#B2B2FF"/>
<rect x="700.35" y="526.93" width="9.52" height="9.38" fill="#9999FF"/>
<rect x="709.87" y="526.93" width="9.52" height="9.38" fill="#B2B2FF"/>
<rect x="719.39" y="526.93" width="9.52" height="9.38" fill="#E5E5FF"/>
<rect x="728.91" y="526.93" width="9.52" height="9.38" fill="#CCCCFF"/>
<rect x="757.48" y="526.93" width="9.52" height="9.38" fill="#E5E5FF"/>
<rect x="452.77" y="536.31" width="9.52" height="9.38" fill="#9999FF"/>
<rect x="462.29" y="536.31" width="19.04" height="9.38" fill="#3333FF"/>
<rect x="481.34" y="536.31" width="19.04" height="9.38" fill="#0000FF"/>
<rect x="500.38" y="536.31" width="9.52" height="9.38" fill="#1919FF"/>
<rect x="509.9" y="536.31" width="9.52" height="9.38" fill="#3333FF"/>
<rect x="519.43" y="536.31" width="9.52" height="9.38" fill="#1919FF"/>
<rect x="528.95" y="536.31" width="9.52" height="9.38" fill="#6666FF"/>
<rect x="538.47" y="536.31" width="9.52" height="9.38" fill="#1919FF"/>
<rect x="547.99" y="536.31" width="19.04" height="9.38" fill="#0000FF"/>
<rect x="567.04" y="536.31" width="9.52" height="9.38" fill="#7F7FFF"/>
<rect x="576.56" y="536.31" width="9.52" height="9.38" fill="#B2B2FF"/>
<rect x="586.08" y="536.31" width="9.52" height="9.38" fill="#CCCCFF"/>
<rect x="595.6" y="536.31" width="28.57" height="9.38" fill="#E5E5FF"/>
<rect x="719.39" y="536.31" width="28.57" height="9.38" fill="#E5E5FF"/>
<rect x="757.48" y="536.31" width="9.52" height="9.38" fill="#CCCCFF"/>
<rect x="290.9" y="545.68" width="9.52" height="9.38" fill="#E5E5FF"/>
<rect x="309.94" y="545.68" width="95.22" height="9.38" fill="#E5E5FF"/>
<rect x="405.16" y="545.68" width="9.52" height="9.38" fill="#CCCCFF"/>
<rect x="414.68" y="545.68" width="38.09" height="9.38" fill="#E5E5FF"/>
<rect x="452.77" y="545.68" width="9.52" height="9.38" fill="#9999FF"/>
<rect x="462.29" y="545.68" width="9.52" height="9.38" fill="#3333FF"/>
<rect x="471.82" y="545.68" width="9.52" height="9.38" fill="#4C4CFF"/>
<rect x="481.34" y="545.68" width="19.04" height="9.38" fill="#1919FF"/>
<rect x="500.38" y="545.68" width="38.09" height="9.38" fill="#3333FF"/>
<rect x="538.47" y="545.68" width="28.57" height="9.38" fill="#0000FF"/>
<rect x="567.04" y="545.68" width="9.52" height="9.38" fill="#9999FF"/>
<rect x="576.56" y="545.68" width="9.52" height="9.38" fill="#CCCCFF"/>
<rect x="586.08" y="545.68" width="38.09" height="9.38" fill="#E5E5FF"/>
<rect x="728.91" y="545.68" width="19.04" height="9.38" fill="#E5E5FF"/>
<rect x="757.48" y="545.68" width="9.52" height="9.38" fill="#E5E5FF"/>
<rect x="281.38" y="555.06" width="9.52" height="9.38" fill="#E5E5FF"/>
<rect x="290.9" y="555.06" width="9.52" height="9.38" fill="#CCCCFF"/>
<rect x="300.42" y="555.06" width="19.04" height="9.38" fill="#E5E5FF"/>
<rect x="319.46" y="555.06" width="47.61" height="9.38" fill="#CCCCFF"/>
<rect x="367.07" y="555.06" width="9.52" height="9.38" fill="#B2B2FF"/>
<rect x="376.6" y="555.06" width="28.57" height="9.38" fill="#CCCCFF"/>
<rect x="405.16" y="555.06" width="9.52" height="9.38" fill="#B2B2FF"/>
<rect x="414.68" y="555.06" width="19.04" height="9.38" fill="#CCCCFF"/>
<rect x="433.73" y="555.06" width="9.52" height="9.38" fill="#B2B2FF"/>
<rect x="443.25" y="555.06" width="9.52" height="9.38" fill="#CCCCFF"/>
<rect x="452.77" y="555.06" width="9.52" height="9.38" fill="#B2B2FF"/>
<rect x="462.29" y="555.06" width="9.52" height="9.38" fill="#4C4CFF"/>
<rect x="471.82" y="555.06" width="9.52" height="9.38" fill="#6666FF"/>
<rect x="481.34" y="555.06" width="19.04" height="9.38" fill="#3333FF"/>
<rect x="500.38" y="555.06" width="28.57" height="9.38" fill="#4C4CFF"/>
<rect x="528.95" y="555.06" width="28.57" height="9.38" fill="#0000FF"/>
<rect x="557.51" y="555.06" width="9.52" height="9.38" fill="#1919FF"/>
<rect x="567.04" y="555.06" width="9.52" height="9.38" fill="#B2B2FF"/>
<rect x="576.56" y="555.06" width="19.04" height="9.38" fill="#E5E5FF"/>
<rect x="605.12" y="555.06" width="28.57" height="9.38" fill="#E5E5FF"/>
<rect x="728.91" y="555.06" width="19.04" height="9.38" fill="#E5E5FF"/>
<rect x="757.48" y="555.06" width="9.52" height="9.38" fill="#E5E5FF"/>
<rect x="281.38" y="564.44" width="9.52" height="9.38" fill="#B2B2FF"/>
<rect x="290.9" y="564.44" width="9.52" height="9.38" fill="#9999FF"/>
<rect x="300.42" y="564.44" width="19.04" height="9.38" fill="#B2B2FF"/>
<rect x="319.46" y="564.44" width="19.04" height="9.38" fill="#9999FF"/>
<rect x="338.51" y="564.44" width="114.26" height="9.38" fill="#7F7FFF"/>
<rect x="452.77" y="564.44" width="9.52" height="9.38" fill="#CCCCFF"/>
<rect x="462.29" y="564.44" width="9.52" height="9.38" fill="#9999FF"/>
<rect x="471.82" y="564.44" width="9.52" height="9.38" fill="#B2B2FF"/>
<rect x="481.34" y="564.44" width="19.04" height="9.38" fill="#7F7FFF"/>
<rect x="500.38" y="564.44" width="19.04" height="9.38" fill="#9999FF"/>
<rect x="519.43" y="564.44" width="9.52" height="9.38" fill="#7F7FFF"/>
<rect x="528.95" y="564.44" width="19.04" height="9.38" fill="#0000FF"/>
<rect x="547.99" y="564.44" width="9.52" height="9.38" fill="#3333FF"/>
<rect x="557.51" y="564.44" width="9.52" height="9.38" fill="#6666FF"/>
<rect x="567.04" y="564.44" width="9.52" height="9.38" fill="#B2B2FF"/>
<rect x="576.56" y="564.44" width="9.52" height="9.38" fill="#E5E5FF"/>
<rect x="605.12" y="564.44" width="28.57" height="9.38" fill="#E5E5FF"/>
<rect x="690.82" y="564.44" width="9.52" height="9.38" fill="#E5E5FF"/>
<rect x="728.91" y="564.44" width="9.52" height="9.38" fill="#E5E5FF"/>
<rect x="757.48" y="564.44" width="9.52" height="9.38" fill="#E5E5FF"/>
<rect x="452.77" y="573.81" width="9.52" height="9.38" fill="#7F7FFF"/>
<rect x="462.29" y="573.81" width="9.52" height="9.38" fill="#3333FF"/>
<rect x="471.82" y="573.81" width="9.52" height="9.38" fill="#1919FF"/>
<rect x="481.34" y="573.81" width="47.61" height="9.38" fill="#0000FF"/>
<rect x="528.95" y="573.81" width="9.52" height="9.38" fill="#7F7FFF"/>
<rect x="538.47" y="573.81" width="9.52" height="9.38" fill="#4C4CFF"/>
<rect x="547.99" y="573.81" width="9.52" height="9.38" fill="#3333FF"/>
<rect x="557.51" y="573.81" width="9.52" height="9.38" fill="#1919FF"/>
<rect x="567.04" y="573.81" width="9.52" height="9.38" fill="#9999FF"/>
<rect x="576.56" y="573.81" width="19.04" height="9.38" fill="#B2B2FF"/>
<rect x="595.6" y="573.81" width="9.52" height="9.38" fill="#CCCCFF"/>
<rect x="662.26" y="573.81" width="9.52" height="9.38" fill="#E5E5FF"/>
<rect x="728.91" y="573.81" width="19.04" height="9.38" fill="#E5E5FF"/>
<rect x="757.48" y="573.81" width="9.52" height="9.38" fill="#E5E5FF"/>
<rect x="452.77" y="583.19" width="9.52" height="9.38" fill="#6666FF"/>
<rect x="462.29" y="583.19" width="9.52" height="9.38" fill="#3333FF"/>
<rect x="471.82" y="583.19" width="9.52" height="9.38" fill="#0000FF"/>
<rect x="481.34" y="583.19" width="9.52" height="9.38" fill="#1919FF"/>
<rect x="490.86" y="583.19" width="38.09" height="9.38" fill="#0000FF"/>
<rect x="528.95" y="583.19" width="9.52" height="9.38" fill="#9999FF"/>
<rect x="538.47" y="583.19" width="9.52" height="9.38" fill="#4C4CFF"/>
<rect x="547.99" y="583.19" width="19.04" height="9.38" fill="#3333FF"/>
<rect x="567.04" y="583.19" width="9.52" height="9.38" fill="#B2B2FF"/>
<rect x="576.56" y="583.19" width="9.52" height="9.38" fill="#CCCCFF"/>
<rect x="586.08" y="583.19" width="9.52" height="9.38" fill="#B2B2FF"/>
<rect x="595.6" y="583.19" width="9.52" height="9.38" fill="#CCCCFF"/>
<rect x="662.26" y="583.19" width="9.52" height="9.38" fill="#E5E5FF"/>
<rect x="728.91" y="583.19" width="9.52" height="9.38" fill="#E5E5FF"/>
<rect x="738.43" y="583.19" width="9.52" height="9.38" fill="#CCCCFF"/>
<rect x="757.48" y="583.19" width="9.52" height="9.38" fill="#E5E5FF"/>
<rect x="452.77" y="592.56" width="9.52" height="9.38" fill="#4C4CFF"/>
<rect x="462.29" y="592.56" width="9.52" height="9.38" fill="#1919FF"/>
<rect x="471.82" y="592.56" width="57.13" height="9.38" fill="#0000FF"/>
<rect x="528.95" y="592.56" width="9.52" height="9.38" fill="#9999FF"/>
<rect x="538.47" y="592.56" width="9.52" height="9.38" fill="#4C4CFF"/>
<rect x="547.99" y="592.56" width="9.52" height="9.38" fill="#3333FF"/>
<rect x="557.51" y="592.56" width="9.52" height="9.38" fill="#1919FF"/>
<rect x="567.04" y="592.56" width="9.52" height="9.38" fill="#B2B2FF"/>
<rect x="576.56" y="592.56" width="9.52" height="9.38" fill="#E5E5FF"/>
<rect x="586.08" y="592.56" width="9.52" height="9.38" fill="#CCCCFF"/>
<rect x="595.6" y="592.56" width="9.52" height="9.38" fill="#E5E5FF"/>
<rect x="662.26" y="592.56" width="9.52" height="9.38" fill="#E5E5FF"/>
<rect x="719.39" y="592.56" width="19.04" height="9.38" fill="#E5E5FF"/>
<rect x="738.43" y="592.56" width="9.52" height="9.38" fill="#CCCCFF"/>
<rect x="757.48" y="592.56" width="9.52" height="9.38" fill="#CCCCFF"/>
<rect x="452.77" y="601.94" width="9.52" height="9.38" fill="#7F7FFF"/>
<rect x="462.29" y="601.94" width="19.04" height="9.38" fill="#1919FF"/>
<rect x="481.34" y="601.94" width="47.61" height="9.38" fill="#0000FF"/>
<rect x="528.95" y="601.94" width="9.52" height="9.38" fill="#7F7FFF"/>
<rect x="538.47" y="601.94" width="9.52" height="9.38" fill="#3333FF"/>
<rect x="547.99" y="601.94" width="9.52" height="9.38" fill="#1919FF"/>
<rect x="557.51" y="601.94" width="9.52" height="9.38" fill="#0000FF"/>
<rect x="567.04" y="601.94" width="9.52" height="9.38" fill="#9999FF"/>
<rect x="576.56" y="601.94" width="9.52" height="9.38" fill="#CCCCFF"/>
<rect x="586.08" y="601.94" width="9.52" height="9.38" fill="#B2B2FF"/>
<rect x="595.6" y="601.94" width="9.52" height="9.38" fill="#CCCCFF"/>
<rect x="662.26" y="601.94" width="9.52" height="9.38" fill="#E5E5FF"/>
<rect x="719.39" y="601.94" width="28.57" height="9.38" fill="#E5E5FF"/>
<rect x="757.48" y="601.94" width="9.52" height="9.38" fill="#CCCCFF"/>
<rect x="452.77" y="611.32" width="9.52" height="9.38" fill="#6666FF"/>
<rect x="462.29" y="611.32" width="9.52" height="9.38" fill="#0000FF"/>
<rect x="471.82" y="611.32" width="9.52" height="9.38" fill="#1919FF"/>
<rect x="481.34" y="611.32" width="28.57" height="9.38" fill="#0000FF"/>
<rect x="509.9" y="611.32" width="9.52" height="9.38" fill="#1919FF"/>
<rect x="519.43" y="611.32" width="9.52" height="9.38" fill="#0000FF"/>
<rect x="528.95" y="611.32" width="9.52" height="9.38" fill="#7F7FFF"/>
<rect x="538.47" y="611.32" width="9.52" height="9.38" fill="#3333FF"/>
<rect x="547.99" y="611.32" width="9.52" height="9.38" fill="#1919FF"/>
<rect x="557.51" y="611.32" width="9.52" height="9.38" fill="#0000FF"/>
<rect x="567.04" y="611.32" width="9.52" height="9.38" fill="#9999FF"/>
<rect x="576.56" y="611.32" width="19.04" height="9.38" fill="#CCCCFF"/>
<rect x="595.6" y="611.32" width="28.57" height="9.38" fill="#E5E5FF"/>
<rect x="662.26" y="611.32" width="9.52" height="9.38" fill="#E5E5FF"/>
<rect x="719.39" y="611.32" width="9.52" height="9.38" fill="#E5E5FF"/>
<rect x="728.91" y="611.32" width="19.04" height="9.38" fill="#CCCCFF"/>
<rect x="757.48" y="611.32" width="9.52" height="9.38" fill="#CCCCFF"/>
<rect x="452.77" y="620.69" width="9.52" height="9.38" fill="#4C4CFF"/>
<rect x="462.29" y="620.69" width="9.52" height="9.38" fill="#1919FF"/>
<rect x="471.82" y="620.69" width="9.52" height="9.38" fill="#0000FF"/>
<rect x="481.34" y="620.69" width="19.04" height="9.38" fill="#1919FF"/>
<rect x="500.38" y="620.69" width="19.04" height="9.38" fill="#0000FF"/>
<rect x="519.43" y="620.69" width="9.52" height="9.38" fill="#1919FF"/>
<rect x="528.95" y="620.69" width="9.52" height="9.38" fill="#B2B2FF"/>
<rect x="538.47" y="620.69" width="9.52" height="9.38" fill="#6666FF"/>
<rect x="547.99" y="620.69" width="9.52" height="9.38" fill="#4C4CFF"/>
<rect x="557.51" y="620.69" width="9.52" height="9.38" fill="#3333FF"/>
<rect x="567.04" y="620.69" width="9.52" height="9.38" fill="#CCCCFF"/>
<rect x="576.56" y="620.69" width="9.52" height="9.38" fill="#E5E5FF"/>
<rect x="586.08" y="620.69" width="9.52" height="9.38" fill="#CCCCFF"/>
<rect x="595.6" y="620.69" width="38.09" height="9.38" fill="#E5E5FF"/>
<rect x="719.39" y="620.69" width="19.04" height="9.38" fill="#E5E5FF"/>
<rect x="738.43" y="620.69" width="9.52" height="9.38" fill="#B2B2FF"/>
<rect x="747.96" y="620.69" width="19.04" height="9.38" fill="#E5E5FF"/>
<rect x="452.77" y="630.07" width="9.52" height="9.38" fill="#6666FF"/>
<rect x="462.29" y="630.07" width="9.52" height="9.38" fill="#0000FF"/>
<rect x="471.82" y="630.07" width="9.52" height="9.38" fill="#1919FF"/>
<rect x="481.34" y="630.07" width="9.52" height="9.38" fill="#0000FF"/>
<rect x="490.86" y="630.07" width="19.04" height="9.38" fill="#1919FF"/>
<rect x="509.9" y="630.07" width="19.04" height="9.38" fill="#3333FF"/>
<rect x="528.95" y="630.07" width="9.52" height="9.38" fill="#9999FF"/>
<rect x="538.47" y="630.07" width="9.52" height="9.38" fill="#4C4CFF"/>
<rect x="547.99" y="630.07" width="19.04" height="9.38" fill="#3333FF"/>
<rect x="567.04" y="630.07" width="9.52" height="9.38" fill="#CCCCFF"/>
<rect x="576.56" y="630.07" width="19.04" height="9.38" fill="#E5E5FF"/>
<rect x="605.12" y="630.07" width="28.57" height="9.38" fill="#CCCCFF"/>
<rect x="643.21" y="630.07" width="19.04" height="9.38" fill="#E5E5FF"/>
<rect x="719.39" y="630.07" width="28.57" height="9.38" fill="#CCCCFF"/>
<rect x="757.48" y="630.07" width="9.52" height="9.38" fill="#E5E5FF"/>
<rect x="452.77" y="639.45" width="9.52" height="9.38" fill="#0000FF"/>
<rect x="462.29" y="639.45" width="9.52" height="9.38" fill="#6666FF"/>
<rect x="471.82" y="639.45" width="9.52" height="9.38" fill="#4C4CFF"/>
<rect x="481.34" y="639.45" width="9.52" height="9.38" fill="#6666FF"/>
<rect x="490.86" y="639.45" width="9.52" height="9.38" fill="#7F7FFF"/>
<rect x="500.38" y="639.45" width="9.52" height="9.38" fill="#4C4CFF"/>
<rect x="509.9" y="639.45" width="9.52" height="9.38" fill="#6666FF"/>
<rect x="519.43" y="639.45" width="9.52" height="9.38" fill="#7F7FFF"/>
<rect x="528.95" y="639.45" width="9.52" height="9.38" fill="#CCCCFF"/>
<rect x="538.47" y="639.45" width="9.52" height="9.38" fill="#B2B2FF"/>
<rect x="547.99" y="639.45" width="19.04" height="9.38" fill="#9999FF"/>
<rect x="567.04" y="639.45" width="9.52" height="9.38" fill="#E5E5FF"/>
<rect x="586.08" y="639.45" width="9.52" height="9.38" fill="#E5E5FF"/>
<rect x="605.12" y="639.45" width="9.52" height="9.38" fill="#B2B2FF"/>
<rect x="614.65" y="639.45" width="19.04" height="9.38" fill="#9999FF"/>
<rect x="633.69" y="639.45" width="9.52" height="9.38" fill="#B2B2FF"/>
<rect x="643.21" y="639.45" width="9.52" height="9.38" fill="#9999FF"/>
<rect x="652.74" y="639.45" width="9.52" height="9.38" fill="#7F7FFF"/>
<rect x="662.26" y="639.45" width="28.57" height="9.38" fill="#E5E5FF"/>
<rect x="719.39" y="639.45" width="19.04" height="9.38" fill="#CCCCFF"/>
<rect x="738.43" y="639.45" width="9.52" height="9.38" fill="#9999FF"/>
<rect x="747.96" y="639.45" width="9.52" height="9.38" fill="#B2B2FF"/>
<rect x="757.48" y="639.45" width="9.52" height="9.38" fill="#CCCCFF"/>
<rect x="281.38" y="648.82" width="9.52" height="9.38" fill="#4C4CFF"/>
<rect x="290.9" y="648.82" width="9.52" height="9.38" fill="#1919FF"/>
<rect x="300.42" y="648.82" width="9.52" height="9.38" fill="#4C4CFF"/>
<rect x="309.94" y="648.82" width="9.52" height="9.38" fill="#1919FF"/>
<rect x="319.46" y="648.82" width="133.31" height="9.38" fill="#0000FF"/>
<rect x="528.95" y="648.82" width="9.52" height="9.38" fill="#7F7FFF"/>
<rect x="538.47" y="648.82" width="9.52" height="9.38" fill="#CCCCFF"/>
<rect x="547.99" y="648.82" width="9.52" height="9.38" fill="#E5E5FF"/>
<rect x="605.12" y="648.82" width="19.04" height="9.38" fill="#E5E5FF"/>
<rect x="690.82" y="648.82" width="9.52" height="9.38" fill="#CCCCFF"/>
<rect x="281.38" y="658.2" width="9.52" height="9.38" fill="#4C4CFF"/>
<rect x="290.9" y="658.2" width="9.52" height="9.38" fill="#3333FF"/>
<rect x="300.42" y="658.2" width="9.52" height="9.38" fill="#4C4CFF"/>
<rect x="309.94" y="658.2" width="9.52" height="9.38" fill="#3333FF"/>
<rect x="319.46" y="658.2" width="9.52" height="9.38" fill="#1919FF"/>
<rect x="328.99" y="658.2" width="123.79" height="9.38" fill="#0000FF"/>
<rect x="528.95" y="658.2" width="9.52" height="9.38" fill="#7F7FFF"/>
<rect x="538.47" y="658.2" width="9.52" height="9.38" fill="#B2B2FF"/>
<rect x="547.99" y="658.2" width="9.52" height="9.38" fill="#E5E5FF"/>
<rect x="567.04" y="658.2" width="9.52" height="9.38" fill="#E5E5FF"/>
<rect x="605.12" y="658.2" width="28.57" height="9.38" fill="#E5E5FF"/>
<rect x="690.82" y="658.2" width="9.52" height="9.38" fill="#CCCCFF"/>
<rect x="281.38" y="667.58" width="9.52" height="9.38" fill="#4C4CFF"/>
<rect x="290.9" y="667.58" width="9.52" height="9.38" fill="#1919FF"/>
<rect x="300.42" y="667.58" width="9.52" height="9.38" fill="#4C4CFF"/>
<rect x="309.94" y="667.58" width="9.52" height="9.38" fill="#3333FF"/>
<rect x="319.46" y="667.58" width="133.31" height="9.38" fill="#0000FF"/>
<rect x="528.95" y="667.58" width="9.52" height="9.38" fill="#7F7FFF"/>
<rect x="538.47" y="667.58" width="9.52" height="9.38" fill="#CCCCFF"/>
<rect x="547.99" y="667.58" width="9.52" height="9.38" fill="#E5E5FF"/>
<rect x="567.04" y="667.58" width="9.52" height="9.38" fill="#E5E5FF"/>
<rect x="605.12" y="667.58" width="28.57" height="9.38" fill="#E5E5FF"/>
<rect x="690.82" y="667.58" width="9.52" height="9.38" fill="#CCCCFF"/>
<rect x="281.38" y="676.95" width="9.52" height="9.38" fill="#4C4CFF"/>
<rect x="290.9" y="676.95" width="9.52" height="9.38" fill="#3333FF"/>
<rect x="300.42" y="676.95" width="9.52" height="9.38" fill="#6666FF"/>
<rect x="309.94" y="676.95" width="9.52" height="9.38" fill="#3333FF"/>
<rect x="319.46" y="676.95" width="9.52" height="9.38" fill="#1919FF"/>
<rect x="328.99" y="676.95" width="123.79" height="9.38" fill="#0000FF"/>
<rect x="528.95" y="676.95" width="9.52" height="9.38" fill="#7F7FFF"/>
<rect x="538.47" y="676.95" width="9.52" height="9.38" fill="#CCCCFF"/>
<rect x="547.99" y="676.95" width="9.52" height="9.38" fill="#E5E5FF"/>
<rect x="605.12" y="676.95" width="19.04" height="9.38" fill="#E5E5FF"/>
<rect x="690.82" y="676.95" width="9.52" height="9.38" fill="#CCCCFF"/>
<rect x="281.38" y="686.33" width="9.52" height="9.38" fill="#4C4CFF"/>
<rect x="290.9" y="686.33" width="9.52" height="9.38" fill="#3333FF"/>
<rect x="300.42" y="686.33" width="9.52" height="9.38" fill="#4C4CFF"/>
<rect x="309.94" y="686.33" width="9.52" height="9.38" fill="#3333FF"/>
<rect x="319.46" y="686.33" width="9.52" height="9.38" fill="#1919FF"/>
<rect x="328.99" y="686.33" width="123.79" height="9.38" fill="#0000FF"/>
<rect x="528.95" y="686.33" width="9.52" height="9.38" fill="#7F7FFF"/>
<rect x="538.47" y="686.33" width="9.52" height="9.38" fill="#B2B2FF"/>
<rect x="547.99" y="686.33" width="9.52" height="9.38" fill="#CCCCFF"/>
<rect x="567.04" y="686.33" width="9.52" height="9.38" fill="#E5E5FF"/>
<rect x="605.12" y="686.33" width="19.04" height="9.38" fill="#E5E5FF"/>
<rect x="690.82" y="686.33" width="9.52" height="9.38" fill="#CCCCFF"/>
<rect x="281.38" y="695.71" width="9.52" height="9.38" fill="#4C4CFF"/>
<rect x="290.9" y="695.71" width="9.52" height="9.38" fill="#3333FF"/>
<rect x="300.42" y="695.71" width="9.52" height="9.38" fill="#6666FF"/>
<rect x="309.94" y="695.71" width="9.52" height="9.38" fill="#3333FF"/>
<rect x="319.46" y="695.71" width="133.31" height="9.38" fill="#0000FF"/>
<rect x="528.95" y="695.71" width="9.52" height="9.38" fill="#7F7FFF"/>
<rect x="538.47" y="695.71" width="9.52" height="9.38" fill="#CCCCFF"/>
<rect x="547.99" y="695.71" width="9.52" height="9.38" fill="#E5E5FF"/>
<rect x="567.04" y="695.71" width="9.52" height="9.38" fill="#E5E5FF"/>
<rect x="605.12" y="695.71" width="28.57" height="9.38" fill="#E5E5FF"/>
<rect x="690.82" y="695.71" width="9.52" height="9.38" fill="#CCCCFF"/>
<rect x="281.38" y="705.08" width="9.52" height="9.38" fill="#4C4CFF"/>
<rect x="290.9" y="705.08" width="9.52" height="9.38" fill="#3333FF"/>
<rect x="300.42" y="705.08" width="9.52" height="9.38" fill="#6666FF"/>
<rect x="309.94" y="705.08" width="19.04" height="9.38" fill="#1919FF"/>
<rect x="328.99" y="705.08" width="123.79" height="9.38" fill="#0000FF"/>
<rect x="528.95" y="705.08" width="9.52" height="9.38" fill="#7F7FFF"/>
<rect x="538.47" y="705.08" width="9.52" height="9.38" fill="#CCCCFF"/>
<rect x="547.99" y="705.08" width="9.52" height="9.38" fill="#E5E5FF"/>
<rect x="605.12" y="705.08" width="19.04" height="9.38" fill="#E5E5FF"/>
<rect x="690.82" y="705.08" width="9.52" height="9.38" fill="#CCCCFF"/>
<rect x="281.38" y="714.46" width="9.52" height="9.38" fill="#4C4CFF"/>
<rect x="290.9" y="714.46" width="9.52" height="9.38" fill="#3333FF"/>
<rect x="300.42" y="714.46" width="9.52" height="9.38" fill="#6666FF"/>
<rect x="309.94" y="714.46" width="9.52" height="9.38" fill="#3333FF"/>
<rect x="319.46" y="714.46" width="9.52" height="9.38" fill="#1919FF"/>
<rect x="328.99" y="714.46" width="123.79" height="9.38" fill="#0000FF"/>
<rect x="528.95" y="714.46" width="9.52" height="9.38" fill="#7F7FFF"/>
<rect x="538.47" y="714.46" width="9.52" height="9.38" fill="#CCCCFF"/>
<rect x="547.99" y="714.46" width="9.52" height="9.38" fill="#E5E5FF"/>
<rect x="567.04" y="714.46" width="9.52" height="9.38" fill="#E5E5FF"/>
<rect x="605.12" y="714.46" width="28.57" height="9.38" fill="#E5E5FF"/>
<rect x="690.82" y="714.46" width="9.52" height="9.38" fill="#CCCCFF"/>
<rect x="281.38" y="723.84" width="9.52" height="9.38" fill="#4C4CFF"/>
<rect x="290.9" y="723.84" width="9.52" height="9.38" fill="#3333FF"/>
<rect x="300.42" y="723.84" width="9.52" height="9.38" fill="#6666FF"/>
<rect x="309.94" y="723.84" width="19.04" height="9.38" fill="#1919FF"/>
<rect x="328.99" y="723.84" width="123.79" height="9.38" fill="#0000FF"/>
<rect x="528.95" y="723.84" width="9.52" height="9.38" fill="#7F7FFF"/>
<rect x="538.47" y="723.84" width="9.52" height="9.38" fill="#B2B2FF"/>
<rect x="547.99" y="723.84" width="9.52" height="9.38" fill="#E5E5FF"/>
<rect x="567.04" y="723.84" width="9.52" height="9.38" fill="#E5E5FF"/>
<rect x="605.12" y="723.84" width="19.04" height="9.38" fill="#E5E5FF"/>
<rect x="690.82" y="723.84" width="9.52" height="9.38" fill="#CCCCFF"/>
<rect x="281.38" y="733.21" width="9.52" height="9.38" fill="#3333FF"/>
<rect x="290.9" y="733.21" width="9.52" height="9.38" fill="#1919FF"/>
<rect x="300.42" y="733.21" width="9.52" height="9.38" fill="#4C4CFF"/>
<rect x="309.94" y="733.21" width="9.52" height="9.38" fill="#0000FF"/>
<rect x="319.46" y="733.21" width="9.52" height="9.38" fill="#1919FF"/>
<rect x="328.99" y="733.21" width="123.79" height="9.38" fill="#0000FF"/>
<rect x="528.95" y="733.21" width="9.52" height="9.38" fill="#7F7FFF"/>
<rect x="538.47" y="733.21" width="9.52" height="9.38" fill="#CCCCFF"/>
<rect x="547.99" y="733.21" width="9.52" height="9.38" fill="#E5E5FF"/>
<rect x="605.12" y="733.21" width="19.04" height="9.38" fill="#E5E5FF"/>
<rect x="690.82" y="733.21" width="9.52" height="9.38" fill="#CCCCFF"/>
<rect x="281.38" y="742.59" width="9.52" height="9.38" fill="#4C4CFF"/>
<rect x="290.9" y="742.59" width="9.52" height="9.38" fill="#3333FF"/>
<rect x="300.42" y="742.59" width="9.52" height="9.38" fill="#6666FF"/>
<rect x="309.94" y="742.59" width="9.52" height="9.38" fill="#3333FF"/>
<rect x="319.46" y="742.59" width="9.52" height="9.38" fill="#1919FF"/>
<rect x="328.99" y="742.59" width="123.79" height="9.38" fill="#0000FF"/>
<rect x="528.95" y="742.59" width="9.52" height="9.38" fill="#7F7FFF"/>
<rect x="538.47" y="742.59" width="9.52" height="9.38" fill="#CCCCFF"/>
<rect x="547.99" y="742.59" width="9.52" height="9.38" fill="#E5E5FF"/>
<rect x="567.04" y="742.59" width="9.52" height="9.38" fill="#E5E5FF"/>
<rect x="605.12" y="742.59" width="28.57" height="9.38" fill="#E5E5FF"/>
<rect x="690.82" y="742.59" width="9.52" height="9.38" fill="#E5E5FF"/>
<rect x="281.38" y="751.96" width="9.52" height="9.38" fill="#4C4CFF"/>
<rect x="290.9" y="751.96" width="9.52" height="9.38" fill="#3333FF"/>
<rect x="300.42" y="751.96" width="9.52" height="9.38" fill="#6666FF"/>
<rect x="309.94" y="751.96" width="9.52" height="9.38" fill="#3333FF"/>
<rect x="319.46" y="751.96" width="9.52" height="9.38" fill="#1919FF"/>
<rect x="328.99" y="751.96" width="123.79" height="9.38" fill="#0000FF"/>
<rect x="528.95" y="751.96" width="9.52" height="9.38" fill="#7F7FFF"/>
<rect x="538.47" y="751.96" width="9.52" height="9.38" fill="#CCCCFF"/>
<rect x="547.99" y="751.96" width="9.52" height="9.38" fill="#E5E5FF"/>
<rect x="567.04" y="751.96" width="9.52" height="9.38" fill="#E5E5FF"/>
<rect x="605.12" y="751.96" width="19.04" height="9.38" fill="#E5E5FF"/>
<rect x="690.82" y="751.96" width="9.52" height="9.38" fill="#CCCCFF"/>
<rect x="205.2" y="761.34" width="19.04" height="9.38" fill="#E5E5FF"/>
<rect x="281.38" y="761.34" width="19.04" height="9.38" fill="#3333FF"/>
<rect x="300.42" y="761.34" width="9.52" height="9.38" fill="#6666FF"/>
<rect x="309.94" y="761.34" width="9.52" height="9.38" fill="#1919FF"/>
<rect x="319.46" y="761.34" width="9.52" height="9.38" fill="#3333FF"/>
<rect x="328.99" y="761.34" width="123.79" height="9.38" fill="#0000FF"/>
<rect x="528.95" y="761.34" width="9.52" height="9.38" fill="#9999FF"/>
<rect x="538.47" y="761.34" width="9.52" height="9.38" fill="#CCCCFF"/>
<rect x="547.99" y="761.34" width="9.52" height="9.38" fill="#E5E5FF"/>
<rect x="605.12" y="761.34" width="19.04" height="9.38" fill="#E5E5FF"/>
<rect x="690.82" y="761.34" width="9.52" height="9.38" fill="#E5E5FF"/>
<rect x="281.38" y="770.72" width="9.52" height="9.38" fill="#6666FF"/>
<rect x="290.9" y="770.72" width="9.52" height="9.38" fill="#4C4CFF"/>
<rect x="300.42" y="770.72" width="9.52" height="9.38" fill="#6666FF"/>
<rect x="309.94" y="770.72" width="9.52" height="9.38" fill="#4C4CFF"/>
<rect x="319.46" y="770.72" width="9.52" height="9.38" fill="#0000FF"/>
<rect x="328.99" y="770.72" width="9.52" height="9.38" fill="#3333FF"/>
<rect x="338.51" y="770.72" width="57.13" height="9.38" fill="#1919FF"/>
<rect x="395.64" y="770.72" width="9.52" height="9.38" fill="#0000FF"/>
<rect x="405.16" y="770.72" width="19.04" height="9.38" fill="#1919FF"/>
<rect x="424.21" y="770.72" width="9.52" height="9.38" fill="#0000FF"/>
<rect x="433.73" y="770.72" width="9.52" height="9.38" fill="#1919FF"/>
<rect x="443.25" y="770.72" width="9.52" height="9.38" fill="#0000FF"/>
<rect x="528.95" y="770.72" width="9.52" height="9.38" fill="#9999FF"/>
<rect x="538.47" y="770.72" width="9.52" height="9.38" fill="#CCCCFF"/>
<rect x="547.99" y="770.72" width="9.52" height="9.38" fill="#E5E5FF"/>
<rect x="605.12" y="770.72" width="28.57" height="9.38" fill="#E5E5FF"/>
<rect x="671.78" y="770.72" width="9.52" height="9.38" fill="#CCCCFF"/>
<rect x="681.3" y="770.72" width="9.52" height="9.38" fill="#E5E5FF"/>
<rect x="690.82" y="770.72" width="9.52" height="9.38" fill="#CCCCFF"/>
<rect x="700.35" y="770.72" width="66.65" height="9.38" fill="#E5E5FF"/>
<rect x="119.5" y="780.09" width="85.7" height="9.38" fill="#E5E5FF"/>
<rect x="205.2" y="780.09" width="28.57" height="9.38" fill="#CCCCFF"/>
<rect x="233.76" y="780.09" width="9.52" height="9.38" fill="#E5E5FF"/>
<rect x="243.29" y="780.09" width="9.52" height="9.38" fill="#CCCCFF"/>
<rect x="281.38" y="780.09" width="9.52" height="9.38" fill="#3333FF"/>
<rect x="290.9" y="780.09" width="9.52" height="9.38" fill="#4C4CFF"/>
<rect x="300.42" y="780.09" width="9.52" height="9.38" fill="#7F7FFF"/>
<rect x="309.94" y="780.09" width="9.52" height="9.38" fill="#0000FF"/>
<rect x="319.46" y="780.09" width="9.52" height="9.38" fill="#4C4CFF"/>
<rect x="328.99" y="780.09" width="9.52" height="9.38" fill="#1919FF"/>
<rect x="338.51" y="780.09" width="19.04" height="9.38" fill="#3333FF"/>
<rect x="357.55" y="780.09" width="9.52" height="9.38" fill="#0000FF"/>
<rect x="367.07" y="780.09" width="9.52" height="9.38" fill="#1919FF"/>
<rect x="376.6" y="780.09" width="9.52" height="9.38" fill="#3333FF"/>
<rect x="386.12" y="780.09" width="9.52" height="9.38" fill="#1919FF"/>
<rect x="395.64" y="780.09" width="47.61" height="9.38" fill="#3333FF"/>
<rect x="443.25" y="780.09" width="9.52" height="9.38" fill="#1919FF"/>
<rect x="528.95" y="780.09" width="9.52" height="9.38" fill="#B2B2FF"/>
<rect x="538.47" y="780.09" width="19.04" height="9.38" fill="#E5E5FF"/>
<rect x="690.82" y="780.09" width="9.52" height="9.38" fill="#E5E5FF"/>
<rect x="205.2" y="789.47" width="9.52" height="9.38" fill="#E5E5FF"/>
<rect x="233.76" y="789.47" width="9.52" height="9.38" fill="#E5E5FF"/>
<rect x="252.81" y="789.47" width="9.52" height="9.38" fill="#9999FF"/>
<rect x="262.33" y="789.47" width="9.52" height="9.38" fill="#CCCCFF"/>
<rect x="271.85" y="789.47" width="9.52" height="9.38" fill="#E5E5FF"/>
<rect x="281.38" y="789.47" width="9.52" height="9.38" fill="#9999FF"/>
<rect x="290.9" y="789.47" width="19.04" height="9.38" fill="#0000FF"/>
<rect x="309.94" y="789.47" width="9.52" height="9.38" fill="#7F7FFF"/>
<rect x="319.46" y="789.47" width="38.09" height="9.38" fill="#6666FF"/>
<rect x="357.55" y="789.47" width="9.52" height="9.38" fill="#4C4CFF"/>
<rect x="367.07" y="789.47" width="38.09" height="9.38" fill="#6666FF"/>
<rect x="405.16" y="789.47" width="9.52" height="9.38" fill="#4C4CFF"/>
<rect x="414.68" y="789.47" width="9.52" height="9.38" fill="#6666FF"/>
<rect x="424.21" y="789.47" width="28.57" height="9.38" fill="#4C4CFF"/>
<rect x="528.95" y="789.47" width="9.52" height="9.38" fill="#B2B2FF"/>
<rect x="538.47" y="789.47" width="9.52" height="9.38" fill="#E5E5FF"/>
<rect x="252.81" y="798.85" width="9.52" height="9.38" fill="#CCCCFF"/>
<rect x="281.38" y="798.85" width="9.52" height="9.38" fill="#6666FF"/>
<rect x="290.9" y="798.85" width="19.04" height="9.38" fill="#0000FF"/>
<rect x="309.94" y="798.85" width="19.04" height="9.38" fill="#4C4CFF"/>
<rect x="328.99" y="798.85" width="28.57" height="9.38" fill="#3333FF"/>
<rect x="357.55" y="798.85" width="9.52" height="9.38" fill="#1919FF"/>
<rect x="367.07" y="798.85" width="57.13" height="9.38" fill="#3333FF"/>
<rect x="424.21" y="798.85" width="9.52" height="9.38" fill="#1919FF"/>
<rect x="433.73" y="798.85" width="9.52" height="9.38" fill="#3333FF"/>
<rect x="443.25" y="798.85" width="9.52" height="9.38" fill="#1919FF"/>
<rect x="528.95" y="798.85" width="9.52" height="9.38" fill="#9999FF"/>
<rect x="538.47" y="798.85" width="9.52" height="9.38" fill="#CCCCFF"/>
<rect x="547.99" y="798.85" width="9.52" height="9.38" fill="#E5E5FF"/>
<rect x="605.12" y="798.85" width="19.04" height="9.38" fill="#E5E5FF"/>
<rect x="690.82" y="798.85" width="9.52" height="9.38" fill="#E5E5FF"/>
<rect x="119.5" y="808.22" width="85.7" height="9.38" fill="#B2B2FF"/>
<rect x="205.2" y="808.22" width="19.04" height="9.38" fill="#CCCCFF"/>
<rect x="224.24" y="808.22" width="28.57" height="9.38" fill="#E5E5FF"/>
<rect x="281.38" y="808.22" width="9.52" height="9.38" fill="#0000FF"/>
<rect x="290.9" y="808.22" width="9.52" height="9.38" fill="#6666FF"/>
<rect x="300.42" y="808.22" width="9.52" height="9.38" fill="#9999FF"/>
<rect x="309.94" y="808.22" width="9.52" height="9.38" fill="#3333FF"/>
<rect x="319.46" y="808.22" width="9.52" height="9.38" fill="#6666FF"/>
<rect x="328.99" y="808.22" width="9.52" height="9.38" fill="#3333FF"/>
<rect x="338.51" y="808.22" width="19.04" height="9.38" fill="#4C4CFF"/>
<rect x="357.55" y="808.22" width="9.52" height="9.38" fill="#3333FF"/>
<rect x="367.07" y="808.22" width="85.7" height="9.38" fill="#4C4CFF"/>
<rect x="528.95" y="808.22" width="9.52" height="9.38" fill="#B2B2FF"/>
<rect x="538.47" y="808.22" width="9.52" height="9.38" fill="#E5E5FF"/>
<rect x="690.82" y="808.22" width="9.52" height="9.38" fill="#E5E5FF"/>
<rect x="119.5" y="817.6" width="9.52" height="9.38" fill="#CCCCFF"/>
<rect x="129.02" y="817.6" width="28.57" height="9.38" fill="#E5E5FF"/>
<rect x="157.59" y="817.6" width="9.52" height="9.38" fill="#CCCCFF"/>
<rect x="167.11" y="817.6" width="9.52" height="9.38" fill="#E5E5FF"/>
<rect x="176.63" y="817.6" width="9.52" height="9.38" fill="#CCCCFF"/>
<rect x="186.15" y="817.6" width="9.52" height="9.38" fill="#E5E5FF"/>
<rect x="195.68" y="817.6" width="9.52" height="9.38" fill="#CCCCFF"/>
<rect x="205.2" y="817.6" width="9.52" height="9.38" fill="#4C4CFF"/>
<rect x="214.72" y="817.6" width="19.04" height="9.38" fill="#3333FF"/>
<rect x="233.76" y="817.6" width="28.57" height="9.38" fill="#1919FF"/>
<rect x="262.33" y="817.6" width="19.04" height="9.38" fill="#0000FF"/>
<rect x="300.42" y="817.6" width="9.52" height="9.38" fill="#E5E5FF"/>
<rect x="205.2" y="826.98" width="9.52" height="9.38" fill="#4C4CFF"/>
<rect x="214.72" y="826.98" width="19.04" height="9.38" fill="#3333FF"/>
<rect x="233.76" y="826.98" width="19.04" height="9.38" fill="#1919FF"/>
<rect x="252.81" y="826.98" width="28.57" height="9.38" fill="#0000FF"/>
<rect x="300.42" y="826.98" width="9.52" height="9.38" fill="#CCCCFF"/>
<rect x="205.2" y="836.35" width="28.57" height="9.38" fill="#6666FF"/>
<rect x="233.76" y="836.35" width="9.52" height="9.38" fill="#3333FF"/>
<rect x="243.29" y="836.35" width="9.52" height="9.38" fill="#4C4CFF"/>
<rect x="252.81" y="836.35" width="19.04" height="9.38" fill="#0000FF"/>
<rect x="271.85" y="836.35" width="9.52" height="9.38" fill="#1919FF"/>
<rect x="290.9" y="836.35" width="9.52" height="9.38" fill="#CCCCFF"/>
<rect x="300.42" y="836.35" width="9.52" height="9.38" fill="#9999FF"/>
<rect x="119.5" y="845.73" width="85.7" height="9.38" fill="#B2B2FF"/>
<rect x="205.2" y="845.73" width="47.61" height="9.38" fill="#0000FF"/>
<rect x="252.81" y="845.73" width="9.52" height="9.38" fill="#4C4CFF"/>
<rect x="262.33" y="845.73" width="19.04" height="9.38" fill="#1919FF"/>
<rect x="281.38" y="845.73" width="9.52" height="9.38" fill="#E5E5FF"/>
<rect x="309.94" y="845.73" width="9.52" height="9.38" fill="#CCCCFF"/>
<rect x="119.5" y="855.11" width="19.04" height="9.38" fill="#B2B2FF"/>
<rect x="138.54" y="855.11" width="9.52" height="9.38" fill="#CCCCFF"/>
<rect x="148.07" y="855.11" width="57.13" height="9.38" fill="#B2B2FF"/>
<rect x="205.2" y="855.11" width="47.61" height="9.38" fill="#0000FF"/>
<rect x="252.81" y="855.11" width="9.52" height="9.38" fill="#3333FF"/>
<rect x="262.33" y="855.11" width="19.04" height="9.38" fill="#1919FF"/>
<rect x="281.38" y="855.11" width="9.52" height="9.38" fill="#E5E5FF"/>
<rect x="300.42" y="855.11" width="19.04" height="9.38" fill="#E5E5FF"/>
<rect x="119.5" y="864.48" width="9.52" height="9.38" fill="#9999FF"/>
<rect x="129.02" y="864.48" width="28.57" height="9.38" fill="#B2B2FF"/>
<rect x="157.59" y="864.48" width="9.52" height="9.38" fill="#9999FF"/>
<rect x="167.11" y="864.48" width="9.52" height="9.38" fill="#B2B2FF"/>
<rect x="176.63" y="864.48" width="28.57" height="9.38" fill="#9999FF"/>
<rect x="205.2" y="864.48" width="47.61" height="9.38" fill="#0000FF"/>
<rect x="252.81" y="864.48" width="9.52" height="9.38" fill="#6666FF"/>
<rect x="262.33" y="864.48" width="19.04" height="9.38" fill="#3333FF"/>
<rect x="281.38" y="864.48" width="9.52" height="9.38" fill="#E5E5FF"/>
<rect x="309.94" y="864.48" width="9.52" height="9.38" fill="#CCCCFF"/>
<rect x="119.5" y="873.86" width="9.52" height="9.38" fill="#7F7FFF"/>
<rect x="129.02" y="873.86" width="9.52" height="9.38" fill="#9999FF"/>
<rect x="138.54" y="873.86" width="9.52" height="9.38" fill="#B2B2FF"/>
<rect x="148.07" y="873.86" width="57.13" height="9.38" fill="#9999FF"/>
<rect x="205.2" y="873.86" width="47.61" height="9.38" fill="#0000FF"/>
<rect x="252.81" y="873.86" width="9.52" height="9.38" fill="#6666FF"/>
<rect x="262.33" y="873.86" width="19.04" height="9.38" fill="#3333FF"/>
<rect x="281.38" y="873.86" width="9.52" height="9.38" fill="#CCCCFF"/>
<rect x="309.94" y="873.86" width="9.52" height="9.38" fill="#CCCCFF"/>
<rect x="328.99" y="873.86" width="9.52" height="9.38" fill="#E5E5FF"/>
<rect x="119.5" y="883.24" width="9.52" height="9.38" fill="#7F7FFF"/>
<rect x="129.02" y="883.24" width="76.18" height="9.38" fill="#9999FF"/>
<rect x="205.2" y="883.24" width="47.61" height="9.38" fill="#0000FF"/>
<rect x="252.81" y="883.24" width="9.52" height="9.38" fill="#6666FF"/>
<rect x="262.33" y="883.24" width="19.04" height="9.38" fill="#4C4CFF"/>
<rect x="281.38" y="883.24" width="9.52" height="9.38" fill="#CCCCFF"/>
<rect x="300.42" y="883.24" width="9.52" height="9.38" fill="#E5E5FF"/>
<rect x="309.94" y="883.24" width="9.52" height="9.38" fill="#CCCCFF"/>
<rect x="328.99" y="883.24" width="9.52" height="9.38" fill="#E5E5FF"/>
<rect x="119.5" y="892.61" width="85.7" height="9.38" fill="#0000FF"/>
<rect x="205.2" y="892.61" width="28.57" height="9.38" fill="#9999FF"/>
<rect x="233.76" y="892.61" width="19.04" height="9.38" fill="#B2B2FF"/>
<rect x="271.85" y="892.61" width="9.52" height="9.38" fill="#CCCCFF"/>
<rect x="281.38" y="892.61" width="9.52" height="9.38" fill="#B2B2FF"/>
<rect x="309.94" y="892.61" width="9.52" height="9.38" fill="#E5E5FF"/>
<rect x="119.5" y="901.99" width="85.7" height="9.38" fill="#0000FF"/>
<rect x="205.2" y="901.99" width="28.57" height="9.38" fill="#9999FF"/>
<rect x="233.76" y="901.99" width="19.04" height="9.38" fill="#B2B2FF"/>
<rect x="271.85" y="901.99" width="9.52" height="9.38" fill="#E5E5FF"/>
<rect x="281.38" y="901.99" width="9.52" height="9.38" fill="#B2B2FF"/>
<rect x="309.94" y="901.99" width="9.52" height="9.38" fill="#E5E5FF"/>
<rect x="119.5" y="911.36" width="85.7" height="9.38" fill="#0000FF"/>
<rect x="205.2" y="911.36" width="28.57" height="9.38" fill="#9999FF"/>
<rect x="233.76" y="911.36" width="19.04" height="9.38" fill="#B2B2FF"/>
<rect x="271.85" y="911.36" width="9.52" height="9.38" fill="#CCCCFF"/>
<rect x="281.38" y="911.36" width="9.52" height="9.38" fill="#B2B2FF"/>
<rect x="309.94" y="911.36" width="9.52" height="9.38" fill="#E5E5FF"/>
<rect x="119.5" y="920.74" width="85.7" height="9.38" fill="#0000FF"/>
<rect x="205.2" y="920.74" width="19.04" height="9.38" fill="#9999FF"/>
<rect x="224.24" y="920.74" width="28.57" height="9.38" fill="#B2B2FF"/>
<rect x="271.85" y="920.74" width="9.52" height="9.38" fill="#E5E5FF"/>
<rect x="281.38" y="920.74" width="9.52" height="9.38" fill="#B2B2FF"/>
<rect x="309.94" y="920.74" width="9.52" height="9.38" fill="#E5E5FF"/>
<rect x="119.5" y="930.12" width="85.7" height="9.38" fill="#0000FF"/>
<rect x="205.2" y="930.12" width="28.57" height="9.38" fill="#9999FF"/>
<rect x="233.76" y="930.12" width="19.04" height="9.38" fill="#B2B2FF"/>
<rect x="271.85" y="930.12" width="9.52" height="9.38" fill="#CCCCFF"/>
<rect x="281.38" y="930.12" width="9.52" height="9.38" fill="#B2B2FF"/>
<rect x="309.94" y="930.12" width="9.52" height="9.38" fill="#E5E5FF"/>
<rect x="119.5" y="939.49" width="85.7" height="9.38" fill="#0000FF"/>
<rect x="205.2" y="939.49" width="19.04" height="9.38" fill="#9999FF"/>
<rect x="224.24" y="939.49" width="28.57" height="9.38" fill="#B2B2FF"/>
<rect x="271.85" y="939.49" width="9.52" height="9.38" fill="#E5E5FF"/>
<rect x="281.38" y="939.49" width="9.52" height="9.38" fill="#B2B2FF"/>
<rect x="309.94" y="939.49" width="9.52" height="9.38" fill="#E5E5FF"/>
<rect x="119.5" y="948.87" width="85.7" height="9.38" fill="#0000FF"/>
<rect x="205.2" y="948.87" width="9.52" height="9.38" fill="#9999FF"/>
<rect x="214.72" y="948.87" width="19.04" height="9.38" fill="#B2B2FF"/>
<rect x="233.76" y="948.87" width="9.52" height="9.38" fill="#CCCCFF"/>
<rect x="243.29" y="948.87" width="9.52" height="9.38" fill="#B2B2FF"/>
<rect x="271.85" y="948.87" width="9.52" height="9.38" fill="#E5E5FF"/>
<rect x="281.38" y="948.87" width="9.52" height="9.38" fill="#B2B2FF"/>
<rect x="309.94" y="948.87" width="9.52" height="9.38" fill="#E5E5FF"/>
<rect x="119.5" y="958.25" width="85.7" height="9.38" fill="#0000FF"/>
<rect x="205.2" y="958.25" width="19.04" height="9.38" fill="#9999FF"/>
<rect x="224.24" y="958.25" width="28.57" height="9.38" fill="#B2B2FF"/>
<rect x="271.85" y="958.25" width="9.52" height="9.38" fill="#E5E5FF"/>
<rect x="281.38" y="958.25" width="9.52" height="9.38" fill="#B2B2FF"/>
<rect x="309.94" y="958.25" width="9.52" height="9.38" fill="#E5E5FF"/>
<rect x="119.5" y="967.62" width="85.7" height="9.38" fill="#0000FF"/>
<rect x="205.2" y="967.62" width="19.04" height="9.38" fill="#7F7FFF"/>
<rect x="224.24" y="967.62" width="9.52" height="9.38" fill="#9999FF"/>
<rect x="233.76" y="967.62" width="19.04" height="9.38" fill="#B2B2FF"/>
<rect x="271.85" y="967.62" width="9.52" height="9.38" fill="#CCCCFF"/>
<rect x="281.38" y="967.62" width="9.52" height="9.38" fill="#B2B2FF"/>
<rect x="309.94" y="967.62" width="9.52" height="9.38" fill="#E5E5FF"/>
</g>
<rect x="793.2" y="439" width="43.7" height="39.4" fill="#0000FF"/>
<rect x="793.2" y="478.08" width="43.7" height="39.4" fill="#1919FF"/>
<rect x="793.2" y="517.16" width="43.7" height="39.4" fill="#3333FF"/>
<rect x="793.2" y="556.24" width="43.7" height="39.4" fill="#4C4CFF"/>
<rect x="793.2" y="595.32" width="43.7" height="39.4" fill="#6666FF"/>
<rect x="793.2" y="634.4" width="43.7" height="39.4" fill="#7F7FFF"/>
<rect x="793.2" y="673.48" width="43.7" height="39.4" fill="#9999FF"/>
<rect x="793.2" y="712.56" width="43.7" height="39.4" fill="#B2B2FF"/>
<rect x="793.2" y="751.64" width="43.7" height="39.4" fill="#CCCCFF"/>
<rect x="793.2" y="790.72" width="43.7" height="39.4" fill="#E5E5FF"/>
<text x="844.5" y="464.95" font-size="16.6" fill="#000">1</text>
<text x="844.5" y="504.03" font-size="16.6" fill="#000" textLength="24.4" lengthAdjust="spacingAndGlyphs">0.9</text>
<text x="844.5" y="543.11" font-size="16.6" fill="#000" textLength="24.4" lengthAdjust="spacingAndGlyphs">0.8</text>
<text x="844.5" y="582.19" font-size="16.6" fill="#000" textLength="24.4" lengthAdjust="spacingAndGlyphs">0.7</text>
<text x="844.5" y="621.27" font-size="16.6" fill="#000" textLength="24.4" lengthAdjust="spacingAndGlyphs">0.6</text>
<text x="844.5" y="660.35" font-size="16.6" fill="#000" textLength="24.4" lengthAdjust="spacingAndGlyphs">0.5</text>
<text x="844.5" y="699.43" font-size="16.6" fill="#000" textLength="24.4" lengthAdjust="spacingAndGlyphs">0.4</text>
<text x="844.5" y="738.51" font-size="16.6" fill="#000" textLength="24.4" lengthAdjust="spacingAndGlyphs">0.3</text>
<text x="844.5" y="777.59" font-size="16.6" fill="#000" textLength="24.4" lengthAdjust="spacingAndGlyphs">0.2</text>
<text x="844.5" y="816.67" font-size="16.6" fill="#000" textLength="24.4" lengthAdjust="spacingAndGlyphs">0.1</text>
<text x="844.5" y="855.75" font-size="16.6" fill="#000">0</text>
<text x="296.8" y="92.5" font-size="25.5" fill="#000" textLength="292.7" lengthAdjust="spacingAndGlyphs">consensus matrix k=6</text>
<text x="790.6" y="304.4" font-size="25.4" fill="#000" textLength="141.5" lengthAdjust="spacingAndGlyphs">Proteomics</text>
<text x="790.5" y="338" font-size="25.4" fill="#000" textLength="169.7" lengthAdjust="spacingAndGlyphs">Groups (PGs)</text>
<text x="-2.5" y="28" font-size="49.5" fill="#000" font-weight="bold">a</text>
</g>
<g id="panel-b">
<rect x="120.6" y="1174.7" width="71" height="190.5" fill="#fff" stroke="#333" stroke-width="1.85"/>
<text transform="translate(166.5 1270.1) rotate(-90)" text-anchor="middle" font-size="29" font-weight="bold" fill="#1a1a1a" textLength="163" lengthAdjust="spacingAndGlyphs">Tris12M−PG</text>
<g stroke="#000" stroke-width="0.55">
<rect x="120.6" y="1373.4" width="7.89" height="70.07" fill="#FEBE44"/>
<rect x="128.49" y="1373.4" width="7.89" height="70.07" fill="#FEBE44"/>
<rect x="136.38" y="1373.4" width="7.89" height="70.07" fill="#FEBE44"/>
<rect x="144.27" y="1373.4" width="7.89" height="70.07" fill="#FEBE44"/>
<rect x="152.16" y="1373.4" width="7.89" height="70.07" fill="#FEBE44"/>
<rect x="160.04" y="1373.4" width="7.89" height="70.07" fill="#FEBE44"/>
<rect x="167.93" y="1373.4" width="7.89" height="70.07" fill="#FEBE44"/>
<rect x="175.82" y="1373.4" width="7.89" height="70.07" fill="#FEBE44"/>
<rect x="183.71" y="1373.4" width="7.89" height="70.07" fill="#FEBE44"/>
<rect x="120.6" y="1443.47" width="7.89" height="70.07" fill="#696969"/>
<rect x="128.49" y="1443.47" width="7.89" height="70.07" fill="#696969"/>
<rect x="136.38" y="1443.47" width="7.89" height="70.07" fill="#696969"/>
<rect x="144.27" y="1443.47" width="7.89" height="70.07" fill="#696969"/>
<rect x="152.16" y="1443.47" width="7.89" height="70.07" fill="#696969"/>
<rect x="160.04" y="1443.47" width="7.89" height="70.07" fill="#696969"/>
<rect x="167.93" y="1443.47" width="7.89" height="70.07" fill="#696969"/>
<rect x="175.82" y="1443.47" width="7.89" height="70.07" fill="#696969"/>
<rect x="183.71" y="1443.47" width="7.89" height="70.07" fill="#696969"/>
<rect x="120.6" y="1513.54" width="7.89" height="70.07" fill="#CCCCCC"/>
<rect x="128.49" y="1513.54" width="7.89" height="70.07" fill="#CCCCCC"/>
<rect x="136.38" y="1513.54" width="7.89" height="70.07" fill="#696969"/>
<rect x="144.27" y="1513.54" width="7.89" height="70.07" fill="#696969"/>
<rect x="152.16" y="1513.54" width="7.89" height="70.07" fill="#696969"/>
<rect x="160.04" y="1513.54" width="7.89" height="70.07" fill="#696969"/>
<rect x="167.93" y="1513.54" width="7.89" height="70.07" fill="#696969"/>
<rect x="175.82" y="1513.54" width="7.89" height="70.07" fill="#696969"/>
<rect x="183.71" y="1513.54" width="7.89" height="70.07" fill="#696969"/>
<rect x="120.6" y="1583.61" width="7.89" height="70.07" fill="#CCCCCC"/>
<rect x="128.49" y="1583.61" width="7.89" height="70.07" fill="#696969"/>
<rect x="136.38" y="1583.61" width="7.89" height="70.07" fill="#CCCCCC"/>
<rect x="144.27" y="1583.61" width="7.89" height="70.07" fill="#CCCCCC"/>
<rect x="152.16" y="1583.61" width="7.89" height="70.07" fill="#CCCCCC"/>
<rect x="160.04" y="1583.61" width="7.89" height="70.07" fill="#CCCCCC"/>
<rect x="167.93" y="1583.61" width="7.89" height="70.07" fill="#CCCCCC"/>
<rect x="175.82" y="1583.61" width="7.89" height="70.07" fill="#CCCCCC"/>
<rect x="183.71" y="1583.61" width="7.89" height="70.07" fill="#CCCCCC"/>
<rect x="120.6" y="1653.68" width="7.89" height="70.07" fill="#CCCCCC"/>
<rect x="128.49" y="1653.68" width="7.89" height="70.07" fill="#CCCCCC"/>
<rect x="136.38" y="1653.68" width="7.89" height="70.07" fill="#CCCCCC"/>
<rect x="144.27" y="1653.68" width="7.89" height="70.07" fill="#CCCCCC"/>
<rect x="152.16" y="1653.68" width="7.89" height="70.07" fill="#CCCCCC"/>
<rect x="160.04" y="1653.68" width="7.89" height="70.07" fill="#CCCCCC"/>
<rect x="167.93" y="1653.68" width="7.89" height="70.07" fill="#CCCCCC"/>
<rect x="175.82" y="1653.68" width="7.89" height="70.07" fill="#CCCCCC"/>
<rect x="183.71" y="1653.68" width="7.89" height="70.07" fill="#CCCCCC"/>
<rect x="120.6" y="1723.75" width="7.89" height="70.07" fill="#CCCCCC"/>
<rect x="128.49" y="1723.75" width="7.89" height="70.07" fill="#CCCCCC"/>
<rect x="136.38" y="1723.75" width="7.89" height="70.07" fill="#CCCCCC"/>
<rect x="144.27" y="1723.75" width="7.89" height="70.07" fill="#CCCCCC"/>
<rect x="152.16" y="1723.75" width="7.89" height="70.07" fill="#CCCCCC"/>
<rect x="160.04" y="1723.75" width="7.89" height="70.07" fill="#696969"/>
<rect x="167.93" y="1723.75" width="7.89" height="70.07" fill="#696969"/>
<rect x="175.82" y="1723.75" width="7.89" height="70.07" fill="#696969"/>
<rect x="183.71" y="1723.75" width="7.89" height="70.07" fill="#CCCCCC"/>
<rect x="120.6" y="1793.82" width="7.89" height="70.07" fill="#CCCCCC"/>
<rect x="128.49" y="1793.82" width="7.89" height="70.07" fill="#696969"/>
<rect x="136.38" y="1793.82" width="7.89" height="70.07" fill="#CCCCCC"/>
<rect x="144.27" y="1793.82" width="7.89" height="70.07" fill="#CCCCCC"/>
<rect x="152.16" y="1793.82" width="7.89" height="70.07" fill="#CCCCCC"/>
<rect x="160.04" y="1793.82" width="7.89" height="70.07" fill="#CCCCCC"/>
<rect x="167.93" y="1793.82" width="7.89" height="70.07" fill="#CCCCCC"/>
<rect x="175.82" y="1793.82" width="7.89" height="70.07" fill="#CCCCCC"/>
<rect x="183.71" y="1793.82" width="7.89" height="70.07" fill="#CCCCCC"/>
<rect x="120.6" y="1863.89" width="7.89" height="70.07" fill="#CCCCCC"/>
<rect x="128.49" y="1863.89" width="7.89" height="70.07" fill="#CCCCCC"/>
<rect x="136.38" y="1863.89" width="7.89" height="70.07" fill="#CCCCCC"/>
<rect x="144.27" y="1863.89" width="7.89" height="70.07" fill="#CCCCCC"/>
<rect x="152.16" y="1863.89" width="7.89" height="70.07" fill="#CCCCCC"/>
<rect x="160.04" y="1863.89" width="7.89" height="70.07" fill="#CCCCCC"/>
<rect x="167.93" y="1863.89" width="7.89" height="70.07" fill="#CCCCCC"/>
<rect x="175.82" y="1863.89" width="7.89" height="70.07" fill="#CCCCCC"/>
<rect x="183.71" y="1863.89" width="7.89" height="70.07" fill="#CCCCCC"/>
<rect x="120.6" y="1933.96" width="7.89" height="70.07" fill="#CCCCCC"/>
<rect x="128.49" y="1933.96" width="7.89" height="70.07" fill="#CCCCCC"/>
<rect x="136.38" y="1933.96" width="7.89" height="70.07" fill="#CCCCCC"/>
<rect x="144.27" y="1933.96" width="7.89" height="70.07" fill="#CCCCCC"/>
<rect x="152.16" y="1933.96" width="7.89" height="70.07" fill="#CCCCCC"/>
<rect x="160.04" y="1933.96" width="7.89" height="70.07" fill="#CCCCCC"/>
<rect x="167.93" y="1933.96" width="7.89" height="70.07" fill="#CCCCCC"/>
<rect x="175.82" y="1933.96" width="7.89" height="70.07" fill="#CCCCCC"/>
<rect x="183.71" y="1933.96" width="7.89" height="70.07" fill="#CCCCCC"/>
<rect x="120.6" y="2004.03" width="7.89" height="70.07" fill="#CCCCCC"/>
<rect x="128.49" y="2004.03" width="7.89" height="70.07" fill="#CCCCCC"/>
<rect x="136.38" y="2004.03" width="7.89" height="70.07" fill="#CCCCCC"/>
<rect x="144.27" y="2004.03" width="7.89" height="70.07" fill="#CCCCCC"/>
<rect x="152.16" y="2004.03" width="7.89" height="70.07" fill="#CCCCCC"/>
<rect x="160.04" y="2004.03" width="7.89" height="70.07" fill="#CCCCCC"/>
<rect x="167.93" y="2004.03" width="7.89" height="70.07" fill="#CCCCCC"/>
<rect x="175.82" y="2004.03" width="7.89" height="70.07" fill="#CCCCCC"/>
<rect x="183.71" y="2004.03" width="7.89" height="70.07" fill="#696969"/>
</g>
<rect x="120.6" y="1367" width="71" height="713.2" fill="none" stroke="#333" stroke-width="1.85"/>
<rect x="213.3" y="1174.7" width="62.1" height="190.5" fill="#fff" stroke="#333" stroke-width="1.85"/>
<text transform="translate(254.75 1270.1) rotate(-90)" text-anchor="middle" font-size="29" font-weight="bold" fill="#1a1a1a" textLength="160" lengthAdjust="spacingAndGlyphs">Tris12U−PG</text>
<g stroke="#000" stroke-width="0.55">
<rect x="213.3" y="1373.4" width="7.76" height="70.07" fill="#00B05F"/>
<rect x="221.06" y="1373.4" width="7.76" height="70.07" fill="#00B05F"/>
<rect x="228.83" y="1373.4" width="7.76" height="70.07" fill="#00B05F"/>
<rect x="236.59" y="1373.4" width="7.76" height="70.07" fill="#00B05F"/>
<rect x="244.35" y="1373.4" width="7.76" height="70.07" fill="#00B05F"/>
<rect x="252.11" y="1373.4" width="7.76" height="70.07" fill="#00B05F"/>
<rect x="259.88" y="1373.4" width="7.76" height="70.07" fill="#00B05F"/>
<rect x="267.64" y="1373.4" width="7.76" height="70.07" fill="#00B05F"/>
<rect x="213.3" y="1443.47" width="7.76" height="70.07" fill="#CCCCCC"/>
<rect x="221.06" y="1443.47" width="7.76" height="70.07" fill="#CCCCCC"/>
<rect x="228.83" y="1443.47" width="7.76" height="70.07" fill="#CCCCCC"/>
<rect x="236.59" y="1443.47" width="7.76" height="70.07" fill="#CCCCCC"/>
<rect x="244.35" y="1443.47" width="7.76" height="70.07" fill="#CCCCCC"/>
<rect x="252.11" y="1443.47" width="7.76" height="70.07" fill="#CCCCCC"/>
<rect x="259.88" y="1443.47" width="7.76" height="70.07" fill="#696969"/>
<rect x="267.64" y="1443.47" width="7.76" height="70.07" fill="#FFFFFF"/>
<rect x="213.3" y="1513.54" width="7.76" height="70.07" fill="#696969"/>
<rect x="221.06" y="1513.54" width="7.76" height="70.07" fill="#696969"/>
<rect x="228.83" y="1513.54" width="7.76" height="70.07" fill="#696969"/>
<rect x="236.59" y="1513.54" width="7.76" height="70.07" fill="#696969"/>
<rect x="244.35" y="1513.54" width="7.76" height="70.07" fill="#696969"/>
<rect x="252.11" y="1513.54" width="7.76" height="70.07" fill="#696969"/>
<rect x="259.88" y="1513.54" width="7.76" height="70.07" fill="#696969"/>
<rect x="267.64" y="1513.54" width="7.76" height="70.07" fill="#696969"/>
<rect x="213.3" y="1583.61" width="7.76" height="70.07" fill="#CCCCCC"/>
<rect x="221.06" y="1583.61" width="7.76" height="70.07" fill="#CCCCCC"/>
<rect x="228.83" y="1583.61" width="7.76" height="70.07" fill="#696969"/>
<rect x="236.59" y="1583.61" width="7.76" height="70.07" fill="#CCCCCC"/>
<rect x="244.35" y="1583.61" width="7.76" height="70.07" fill="#CCCCCC"/>
<rect x="252.11" y="1583.61" width="7.76" height="70.07" fill="#696969"/>
<rect x="259.88" y="1583.61" width="7.76" height="70.07" fill="#696969"/>
<rect x="267.64" y="1583.61" width="7.76" height="70.07" fill="#CCCCCC"/>
<rect x="213.3" y="1653.68" width="7.76" height="70.07" fill="#CCCCCC"/>
<rect x="221.06" y="1653.68" width="7.76" height="70.07" fill="#CCCCCC"/>
<rect x="228.83" y="1653.68" width="7.76" height="70.07" fill="#CCCCCC"/>
<rect x="236.59" y="1653.68" width="7.76" height="70.07" fill="#CCCCCC"/>
<rect x="244.35" y="1653.68" width="7.76" height="70.07" fill="#CCCCCC"/>
<rect x="252.11" y="1653.68" width="7.76" height="70.07" fill="#CCCCCC"/>
<rect x="259.88" y="1653.68" width="7.76" height="70.07" fill="#CCCCCC"/>
<rect x="267.64" y="1653.68" width="7.76" height="70.07" fill="#CCCCCC"/>
<rect x="213.3" y="1723.75" width="7.76" height="70.07" fill="#696969"/>
<rect x="221.06" y="1723.75" width="7.76" height="70.07" fill="#CCCCCC"/>
<rect x="228.83" y="1723.75" width="7.76" height="70.07" fill="#696969"/>
<rect x="236.59" y="1723.75" width="7.76" height="70.07" fill="#CCCCCC"/>
<rect x="244.35" y="1723.75" width="7.76" height="70.07" fill="#CCCCCC"/>
<rect x="252.11" y="1723.75" width="7.76" height="70.07" fill="#696969"/>
<rect x="259.88" y="1723.75" width="7.76" height="70.07" fill="#696969"/>
<rect x="267.64" y="1723.75" width="7.76" height="70.07" fill="#CCCCCC"/>
<rect x="213.3" y="1793.82" width="7.76" height="70.07" fill="#CCCCCC"/>
<rect x="221.06" y="1793.82" width="7.76" height="70.07" fill="#CCCCCC"/>
<rect x="228.83" y="1793.82" width="7.76" height="70.07" fill="#CCCCCC"/>
<rect x="236.59" y="1793.82" width="7.76" height="70.07" fill="#CCCCCC"/>
<rect x="244.35" y="1793.82" width="7.76" height="70.07" fill="#696969"/>
<rect x="252.11" y="1793.82" width="7.76" height="70.07" fill="#696969"/>
<rect x="259.88" y="1793.82" width="7.76" height="70.07" fill="#CCCCCC"/>
<rect x="267.64" y="1793.82" width="7.76" height="70.07" fill="#CCCCCC"/>
<rect x="213.3" y="1863.89" width="7.76" height="70.07" fill="#CCCCCC"/>
<rect x="221.06" y="1863.89" width="7.76" height="70.07" fill="#CCCCCC"/>
<rect x="228.83" y="1863.89" width="7.76" height="70.07" fill="#CCCCCC"/>
<rect x="236.59" y="1863.89" width="7.76" height="70.07" fill="#696969"/>
<rect x="244.35" y="1863.89" width="7.76" height="70.07" fill="#CCCCCC"/>
<rect x="252.11" y="1863.89" width="7.76" height="70.07" fill="#CCCCCC"/>
<rect x="259.88" y="1863.89" width="7.76" height="70.07" fill="#CCCCCC"/>
<rect x="267.64" y="1863.89" width="7.76" height="70.07" fill="#CCCCCC"/>
<rect x="213.3" y="1933.96" width="7.76" height="70.07" fill="#CCCCCC"/>
<rect x="221.06" y="1933.96" width="7.76" height="70.07" fill="#CCCCCC"/>
<rect x="228.83" y="1933.96" width="7.76" height="70.07" fill="#CCCCCC"/>
<rect x="236.59" y="1933.96" width="7.76" height="70.07" fill="#CCCCCC"/>
<rect x="244.35" y="1933.96" width="7.76" height="70.07" fill="#CCCCCC"/>
<rect x="252.11" y="1933.96" width="7.76" height="70.07" fill="#CCCCCC"/>
<rect x="259.88" y="1933.96" width="7.76" height="70.07" fill="#CCCCCC"/>
<rect x="267.64" y="1933.96" width="7.76" height="70.07" fill="#CCCCCC"/>
<rect x="213.3" y="2004.03" width="7.76" height="70.07" fill="#CCCCCC"/>
<rect x="221.06" y="2004.03" width="7.76" height="70.07" fill="#CCCCCC"/>
<rect x="228.83" y="2004.03" width="7.76" height="70.07" fill="#CCCCCC"/>
<rect x="236.59" y="2004.03" width="7.76" height="70.07" fill="#696969"/>
<rect x="244.35" y="2004.03" width="7.76" height="70.07" fill="#CCCCCC"/>
<rect x="252.11" y="2004.03" width="7.76" height="70.07" fill="#CCCCCC"/>
<rect x="259.88" y="2004.03" width="7.76" height="70.07" fill="#CCCCCC"/>
<rect x="267.64" y="2004.03" width="7.76" height="70.07" fill="#CCCCCC"/>
</g>
<rect x="213.3" y="1367" width="62.1" height="713.2" fill="none" stroke="#333" stroke-width="1.85"/>
<rect x="297.3" y="1174.7" width="141.2" height="190.5" fill="#fff" stroke="#333" stroke-width="1.85"/>
<text transform="translate(378.3 1270.1) rotate(-90)" text-anchor="middle" font-size="29" font-weight="bold" fill="#1a1a1a" textLength="81" lengthAdjust="spacingAndGlyphs">M−PG</text>
<g stroke="#000" stroke-width="0.55">
<rect x="297.3" y="1373.4" width="7.84" height="70.07" fill="#9B1F8F"/>
<rect x="305.14" y="1373.4" width="7.84" height="70.07" fill="#9B1F8F"/>
<rect x="312.99" y="1373.4" width="7.84" height="70.07" fill="#9B1F8F"/>
<rect x="320.83" y="1373.4" width="7.84" height="70.07" fill="#9B1F8F"/>
<rect x="328.68" y="1373.4" width="7.84" height="70.07" fill="#9B1F8F"/>
<rect x="336.52" y="1373.4" width="7.84" height="70.07" fill="#9B1F8F"/>
<rect x="344.37" y="1373.4" width="7.84" height="70.07" fill="#9B1F8F"/>
<rect x="352.21" y="1373.4" width="7.84" height="70.07" fill="#9B1F8F"/>
<rect x="360.06" y="1373.4" width="7.84" height="70.07" fill="#9B1F8F"/>
<rect x="367.9" y="1373.4" width="7.84" height="70.07" fill="#9B1F8F"/>
<rect x="375.74" y="1373.4" width="7.84" height="70.07" fill="#9B1F8F"/>
<rect x="383.59" y="1373.4" width="7.84" height="70.07" fill="#9B1F8F"/>
<rect x="391.43" y="1373.4" width="7.84" height="70.07" fill="#9B1F8F"/>
<rect x="399.28" y="1373.4" width="7.84" height="70.07" fill="#9B1F8F"/>
<rect x="407.12" y="1373.4" width="7.84" height="70.07" fill="#9B1F8F"/>
<rect x="414.97" y="1373.4" width="7.84" height="70.07" fill="#9B1F8F"/>
<rect x="422.81" y="1373.4" width="7.84" height="70.07" fill="#9B1F8F"/>
<rect x="430.66" y="1373.4" width="7.84" height="70.07" fill="#9B1F8F"/>
<rect x="297.3" y="1443.47" width="7.84" height="70.07" fill="#696969"/>
<rect x="305.14" y="1443.47" width="7.84" height="70.07" fill="#696969"/>
<rect x="312.99" y="1443.47" width="7.84" height="70.07" fill="#696969"/>
<rect x="320.83" y="1443.47" width="7.84" height="70.07" fill="#696969"/>
<rect x="328.68" y="1443.47" width="7.84" height="70.07" fill="#696969"/>
<rect x="336.52" y="1443.47" width="7.84" height="70.07" fill="#696969"/>
<rect x="344.37" y="1443.47" width="7.84" height="70.07" fill="#696969"/>
<rect x="352.21" y="1443.47" width="7.84" height="70.07" fill="#696969"/>
<rect x="360.06" y="1443.47" width="7.84" height="70.07" fill="#696969"/>
<rect x="367.9" y="1443.47" width="7.84" height="70.07" fill="#696969"/>
<rect x="375.74" y="1443.47" width="7.84" height="70.07" fill="#696969"/>
<rect x="383.59" y="1443.47" width="7.84" height="70.07" fill="#696969"/>
<rect x="391.43" y="1443.47" width="7.84" height="70.07" fill="#696969"/>
<rect x="399.28" y="1443.47" width="7.84" height="70.07" fill="#696969"/>
<rect x="407.12" y="1443.47" width="7.84" height="70.07" fill="#696969"/>
<rect x="414.97" y="1443.47" width="7.84" height="70.07" fill="#696969"/>
<rect x="422.81" y="1443.47" width="7.84" height="70.07" fill="#FFFFFF"/>
<rect x="430.66" y="1443.47" width="7.84" height="70.07" fill="#FFFFFF"/>
<rect x="297.3" y="1513.54" width="7.84" height="70.07" fill="#CCCCCC"/>
<rect x="305.14" y="1513.54" width="7.84" height="70.07" fill="#CCCCCC"/>
<rect x="312.99" y="1513.54" width="7.84" height="70.07" fill="#CCCCCC"/>
<rect x="320.83" y="1513.54" width="7.84" height="70.07" fill="#CCCCCC"/>
<rect x="328.68" y="1513.54" width="7.84" height="70.07" fill="#CCCCCC"/>
<rect x="336.52" y="1513.54" width="7.84" height="70.07" fill="#CCCCCC"/>
<rect x="344.37" y="1513.54" width="7.84" height="70.07" fill="#CCCCCC"/>
<rect x="352.21" y="1513.54" width="7.84" height="70.07" fill="#CCCCCC"/>
<rect x="360.06" y="1513.54" width="7.84" height="70.07" fill="#CCCCCC"/>
<rect x="367.9" y="1513.54" width="7.84" height="70.07" fill="#CCCCCC"/>
<rect x="375.74" y="1513.54" width="7.84" height="70.07" fill="#CCCCCC"/>
<rect x="383.59" y="1513.54" width="7.84" height="70.07" fill="#CCCCCC"/>
<rect x="391.43" y="1513.54" width="7.84" height="70.07" fill="#CCCCCC"/>
<rect x="399.28" y="1513.54" width="7.84" height="70.07" fill="#CCCCCC"/>
<rect x="407.12" y="1513.54" width="7.84" height="70.07" fill="#CCCCCC"/>
<rect x="414.97" y="1513.54" width="7.84" height="70.07" fill="#CCCCCC"/>
<rect x="422.81" y="1513.54" width="7.84" height="70.07" fill="#CCCCCC"/>
<rect x="430.66" y="1513.54" width="7.84" height="70.07" fill="#CCCCCC"/>
<rect x="297.3" y="1583.61" width="7.84" height="70.07" fill="#CCCCCC"/>
<rect x="305.14" y="1583.61" width="7.84" height="70.07" fill="#CCCCCC"/>
<rect x="312.99" y="1583.61" width="7.84" height="70.07" fill="#CCCCCC"/>
<rect x="320.83" y="1583.61" width="7.84" height="70.07" fill="#CCCCCC"/>
<rect x="328.68" y="1583.61" width="7.84" height="70.07" fill="#CCCCCC"/>
<rect x="336.52" y="1583.61" width="7.84" height="70.07" fill="#CCCCCC"/>
<rect x="344.37" y="1583.61" width="7.84" height="70.07" fill="#CCCCCC"/>
<rect x="352.21" y="1583.61" width="7.84" height="70.07" fill="#CCCCCC"/>
<rect x="360.06" y="1583.61" width="7.84" height="70.07" fill="#CCCCCC"/>
<rect x="367.9" y="1583.61" width="7.84" height="70.07" fill="#CCCCCC"/>
<rect x="375.74" y="1583.61" width="7.84" height="70.07" fill="#CCCCCC"/>
<rect x="383.59" y="1583.61" width="7.84" height="70.07" fill="#CCCCCC"/>
<rect x="391.43" y="1583.61" width="7.84" height="70.07" fill="#CCCCCC"/>
<rect x="399.28" y="1583.61" width="7.84" height="70.07" fill="#CCCCCC"/>
<rect x="407.12" y="1583.61" width="7.84" height="70.07" fill="#696969"/>
<rect x="414.97" y="1583.61" width="7.84" height="70.07" fill="#696969"/>
<rect x="422.81" y="1583.61" width="7.84" height="70.07" fill="#CCCCCC"/>
<rect x="430.66" y="1583.61" width="7.84" height="70.07" fill="#CCCCCC"/>
<rect x="297.3" y="1653.68" width="7.84" height="70.07" fill="#CCCCCC"/>
<rect x="305.14" y="1653.68" width="7.84" height="70.07" fill="#CCCCCC"/>
<rect x="312.99" y="1653.68" width="7.84" height="70.07" fill="#CCCCCC"/>
<rect x="320.83" y="1653.68" width="7.84" height="70.07" fill="#CCCCCC"/>
<rect x="328.68" y="1653.68" width="7.84" height="70.07" fill="#CCCCCC"/>
<rect x="336.52" y="1653.68" width="7.84" height="70.07" fill="#CCCCCC"/>
<rect x="344.37" y="1653.68" width="7.84" height="70.07" fill="#CCCCCC"/>
<rect x="352.21" y="1653.68" width="7.84" height="70.07" fill="#CCCCCC"/>
<rect x="360.06" y="1653.68" width="7.84" height="70.07" fill="#CCCCCC"/>
<rect x="367.9" y="1653.68" width="7.84" height="70.07" fill="#CCCCCC"/>
<rect x="375.74" y="1653.68" width="7.84" height="70.07" fill="#CCCCCC"/>
<rect x="383.59" y="1653.68" width="7.84" height="70.07" fill="#CCCCCC"/>
<rect x="391.43" y="1653.68" width="7.84" height="70.07" fill="#CCCCCC"/>
<rect x="399.28" y="1653.68" width="7.84" height="70.07" fill="#CCCCCC"/>
<rect x="407.12" y="1653.68" width="7.84" height="70.07" fill="#CCCCCC"/>
<rect x="414.97" y="1653.68" width="7.84" height="70.07" fill="#CCCCCC"/>
<rect x="422.81" y="1653.68" width="7.84" height="70.07" fill="#CCCCCC"/>
<rect x="430.66" y="1653.68" width="7.84" height="70.07" fill="#CCCCCC"/>
<rect x="297.3" y="1723.75" width="7.84" height="70.07" fill="#696969"/>
<rect x="305.14" y="1723.75" width="7.84" height="70.07" fill="#696969"/>
<rect x="312.99" y="1723.75" width="7.84" height="70.07" fill="#696969"/>
<rect x="320.83" y="1723.75" width="7.84" height="70.07" fill="#696969"/>
<rect x="328.68" y="1723.75" width="7.84" height="70.07" fill="#CCCCCC"/>
<rect x="336.52" y="1723.75" width="7.84" height="70.07" fill="#696969"/>
<rect x="344.37" y="1723.75" width="7.84" height="70.07" fill="#696969"/>
<rect x="352.21" y="1723.75" width="7.84" height="70.07" fill="#696969"/>
<rect x="360.06" y="1723.75" width="7.84" height="70.07" fill="#696969"/>
<rect x="367.9" y="1723.75" width="7.84" height="70.07" fill="#696969"/>
<rect x="375.74" y="1723.75" width="7.84" height="70.07" fill="#696969"/>
<rect x="383.59" y="1723.75" width="7.84" height="70.07" fill="#CCCCCC"/>
<rect x="391.43" y="1723.75" width="7.84" height="70.07" fill="#CCCCCC"/>
<rect x="399.28" y="1723.75" width="7.84" height="70.07" fill="#CCCCCC"/>
<rect x="407.12" y="1723.75" width="7.84" height="70.07" fill="#696969"/>
<rect x="414.97" y="1723.75" width="7.84" height="70.07" fill="#CCCCCC"/>
<rect x="422.81" y="1723.75" width="7.84" height="70.07" fill="#696969"/>
<rect x="430.66" y="1723.75" width="7.84" height="70.07" fill="#CCCCCC"/>
<rect x="297.3" y="1793.82" width="7.84" height="70.07" fill="#CCCCCC"/>
<rect x="305.14" y="1793.82" width="7.84" height="70.07" fill="#CCCCCC"/>
<rect x="312.99" y="1793.82" width="7.84" height="70.07" fill="#CCCCCC"/>
<rect x="320.83" y="1793.82" width="7.84" height="70.07" fill="#CCCCCC"/>
<rect x="328.68" y="1793.82" width="7.84" height="70.07" fill="#CCCCCC"/>
<rect x="336.52" y="1793.82" width="7.84" height="70.07" fill="#CCCCCC"/>
<rect x="344.37" y="1793.82" width="7.84" height="70.07" fill="#CCCCCC"/>
<rect x="352.21" y="1793.82" width="7.84" height="70.07" fill="#CCCCCC"/>
<rect x="360.06" y="1793.82" width="7.84" height="70.07" fill="#CCCCCC"/>
<rect x="367.9" y="1793.82" width="7.84" height="70.07" fill="#CCCCCC"/>
<rect x="375.74" y="1793.82" width="7.84" height="70.07" fill="#CCCCCC"/>
<rect x="383.59" y="1793.82" width="7.84" height="70.07" fill="#CCCCCC"/>
<rect x="391.43" y="1793.82" width="7.84" height="70.07" fill="#CCCCCC"/>
<rect x="399.28" y="1793.82" width="7.84" height="70.07" fill="#CCCCCC"/>
<rect x="407.12" y="1793.82" width="7.84" height="70.07" fill="#CCCCCC"/>
<rect x="414.97" y="1793.82" width="7.84" height="70.07" fill="#CCCCCC"/>
<rect x="422.81" y="1793.82" width="7.84" height="70.07" fill="#CCCCCC"/>
<rect x="430.66" y="1793.82" width="7.84" height="70.07" fill="#CCCCCC"/>
<rect x="297.3" y="1863.89" width="7.84" height="70.07" fill="#CCCCCC"/>
<rect x="305.14" y="1863.89" width="7.84" height="70.07" fill="#CCCCCC"/>
<rect x="312.99" y="1863.89" width="7.84" height="70.07" fill="#CCCCCC"/>
<rect x="320.83" y="1863.89" width="7.84" height="70.07" fill="#CCCCCC"/>
<rect x="328.68" y="1863.89" width="7.84" height="70.07" fill="#CCCCCC"/>
<rect x="336.52" y="1863.89" width="7.84" height="70.07" fill="#CCCCCC"/>
<rect x="344.37" y="1863.89" width="7.84" height="70.07" fill="#CCCCCC"/>
<rect x="352.21" y="1863.89" width="7.84" height="70.07" fill="#CCCCCC"/>
<rect x="360.06" y="1863.89" width="7.84" height="70.07" fill="#CCCCCC"/>
<rect x="367.9" y="1863.89" width="7.84" height="70.07" fill="#CCCCCC"/>
<rect x="375.74" y="1863.89" width="7.84" height="70.07" fill="#CCCCCC"/>
<rect x="383.59" y="1863.89" width="7.84" height="70.07" fill="#CCCCCC"/>
<rect x="391.43" y="1863.89" width="7.84" height="70.07" fill="#CCCCCC"/>
<rect x="399.28" y="1863.89" width="7.84" height="70.07" fill="#CCCCCC"/>
<rect x="407.12" y="1863.89" width="7.84" height="70.07" fill="#CCCCCC"/>
<rect x="414.97" y="1863.89" width="7.84" height="70.07" fill="#CCCCCC"/>
<rect x="422.81" y="1863.89" width="7.84" height="70.07" fill="#CCCCCC"/>
<rect x="430.66" y="1863.89" width="7.84" height="70.07" fill="#CCCCCC"/>
<rect x="297.3" y="1933.96" width="7.84" height="70.07" fill="#CCCCCC"/>
<rect x="305.14" y="1933.96" width="7.84" height="70.07" fill="#CCCCCC"/>
<rect x="312.99" y="1933.96" width="7.84" height="70.07" fill="#CCCCCC"/>
<rect x="320.83" y="1933.96" width="7.84" height="70.07" fill="#CCCCCC"/>
<rect x="328.68" y="1933.96" width="7.84" height="70.07" fill="#CCCCCC"/>
<rect x="336.52" y="1933.96" width="7.84" height="70.07" fill="#CCCCCC"/>
<rect x="344.37" y="1933.96" width="7.84" height="70.07" fill="#CCCCCC"/>
<rect x="352.21" y="1933.96" width="7.84" height="70.07" fill="#CCCCCC"/>
<rect x="360.06" y="1933.96" width="7.84" height="70.07" fill="#CCCCCC"/>
<rect x="367.9" y="1933.96" width="7.84" height="70.07" fill="#CCCCCC"/>
<rect x="375.74" y="1933.96" width="7.84" height="70.07" fill="#CCCCCC"/>
<rect x="383.59" y="1933.96" width="7.84" height="70.07" fill="#CCCCCC"/>
<rect x="391.43" y="1933.96" width="7.84" height="70.07" fill="#CCCCCC"/>
<rect x="399.28" y="1933.96" width="7.84" height="70.07" fill="#CCCCCC"/>
<rect x="407.12" y="1933.96" width="7.84" height="70.07" fill="#CCCCCC"/>
<rect x="414.97" y="1933.96" width="7.84" height="70.07" fill="#CCCCCC"/>
<rect x="422.81" y="1933.96" width="7.84" height="70.07" fill="#CCCCCC"/>
<rect x="430.66" y="1933.96" width="7.84" height="70.07" fill="#CCCCCC"/>
<rect x="297.3" y="2004.03" width="7.84" height="70.07" fill="#CCCCCC"/>
<rect x="305.14" y="2004.03" width="7.84" height="70.07" fill="#CCCCCC"/>
<rect x="312.99" y="2004.03" width="7.84" height="70.07" fill="#CCCCCC"/>
<rect x="320.83" y="2004.03" width="7.84" height="70.07" fill="#CCCCCC"/>
<rect x="328.68" y="2004.03" width="7.84" height="70.07" fill="#CCCCCC"/>
<rect x="336.52" y="2004.03" width="7.84" height="70.07" fill="#CCCCCC"/>
<rect x="344.37" y="2004.03" width="7.84" height="70.07" fill="#CCCCCC"/>
<rect x="352.21" y="2004.03" width="7.84" height="70.07" fill="#CCCCCC"/>
<rect x="360.06" y="2004.03" width="7.84" height="70.07" fill="#CCCCCC"/>
<rect x="367.9" y="2004.03" width="7.84" height="70.07" fill="#CCCCCC"/>
<rect x="375.74" y="2004.03" width="7.84" height="70.07" fill="#CCCCCC"/>
<rect x="383.59" y="2004.03" width="7.84" height="70.07" fill="#CCCCCC"/>
<rect x="391.43" y="2004.03" width="7.84" height="70.07" fill="#CCCCCC"/>
<rect x="399.28" y="2004.03" width="7.84" height="70.07" fill="#696969"/>
<rect x="407.12" y="2004.03" width="7.84" height="70.07" fill="#CCCCCC"/>
<rect x="414.97" y="2004.03" width="7.84" height="70.07" fill="#CCCCCC"/>
<rect x="422.81" y="2004.03" width="7.84" height="70.07" fill="#CCCCCC"/>
<rect x="430.66" y="2004.03" width="7.84" height="70.07" fill="#CCCCCC"/>
</g>
<rect x="297.3" y="1367" width="141.2" height="713.2" fill="none" stroke="#333" stroke-width="1.85"/>
<rect x="459.4" y="1174.7" width="94.6" height="190.5" fill="#fff" stroke="#333" stroke-width="1.85"/>
<text transform="translate(517.1 1270.1) rotate(-90)" text-anchor="middle" font-size="29" font-weight="bold" fill="#1a1a1a" textLength="115" lengthAdjust="spacingAndGlyphs">New−PG</text>
<g stroke="#000" stroke-width="0.55">
<rect x="459.4" y="1373.4" width="7.88" height="70.07" fill="#9999FF"/>
<rect x="467.28" y="1373.4" width="7.88" height="70.07" fill="#9999FF"/>
<rect x="475.17" y="1373.4" width="7.88" height="70.07" fill="#9999FF"/>
<rect x="483.05" y="1373.4" width="7.88" height="70.07" fill="#9999FF"/>
<rect x="490.93" y="1373.4" width="7.88" height="70.07" fill="#9999FF"/>
<rect x="498.82" y="1373.4" width="7.88" height="70.07" fill="#9999FF"/>
<rect x="506.7" y="1373.4" width="7.88" height="70.07" fill="#9999FF"/>
<rect x="514.58" y="1373.4" width="7.88" height="70.07" fill="#9999FF"/>
<rect x="522.47" y="1373.4" width="7.88" height="70.07" fill="#9999FF"/>
<rect x="530.35" y="1373.4" width="7.88" height="70.07" fill="#9999FF"/>
<rect x="538.23" y="1373.4" width="7.88" height="70.07" fill="#9999FF"/>
<rect x="546.12" y="1373.4" width="7.88" height="70.07" fill="#9999FF"/>
<rect x="459.4" y="1443.47" width="7.88" height="70.07" fill="#CCCCCC"/>
<rect x="467.28" y="1443.47" width="7.88" height="70.07" fill="#CCCCCC"/>
<rect x="475.17" y="1443.47" width="7.88" height="70.07" fill="#CCCCCC"/>
<rect x="483.05" y="1443.47" width="7.88" height="70.07" fill="#CCCCCC"/>
<rect x="490.93" y="1443.47" width="7.88" height="70.07" fill="#CCCCCC"/>
<rect x="498.82" y="1443.47" width="7.88" height="70.07" fill="#CCCCCC"/>
<rect x="506.7" y="1443.47" width="7.88" height="70.07" fill="#CCCCCC"/>
<rect x="514.58" y="1443.47" width="7.88" height="70.07" fill="#CCCCCC"/>
<rect x="522.47" y="1443.47" width="7.88" height="70.07" fill="#696969"/>
<rect x="530.35" y="1443.47" width="7.88" height="70.07" fill="#696969"/>
<rect x="538.23" y="1443.47" width="7.88" height="70.07" fill="#696969"/>
<rect x="546.12" y="1443.47" width="7.88" height="70.07" fill="#696969"/>
<rect x="459.4" y="1513.54" width="7.88" height="70.07" fill="#CCCCCC"/>
<rect x="467.28" y="1513.54" width="7.88" height="70.07" fill="#CCCCCC"/>
<rect x="475.17" y="1513.54" width="7.88" height="70.07" fill="#CCCCCC"/>
<rect x="483.05" y="1513.54" width="7.88" height="70.07" fill="#CCCCCC"/>
<rect x="490.93" y="1513.54" width="7.88" height="70.07" fill="#CCCCCC"/>
<rect x="498.82" y="1513.54" width="7.88" height="70.07" fill="#CCCCCC"/>
<rect x="506.7" y="1513.54" width="7.88" height="70.07" fill="#CCCCCC"/>
<rect x="514.58" y="1513.54" width="7.88" height="70.07" fill="#CCCCCC"/>
<rect x="522.47" y="1513.54" width="7.88" height="70.07" fill="#CCCCCC"/>
<rect x="530.35" y="1513.54" width="7.88" height="70.07" fill="#CCCCCC"/>
<rect x="538.23" y="1513.54" width="7.88" height="70.07" fill="#CCCCCC"/>
<rect x="546.12" y="1513.54" width="7.88" height="70.07" fill="#CCCCCC"/>
<rect x="459.4" y="1583.61" width="7.88" height="70.07" fill="#CCCCCC"/>
<rect x="467.28" y="1583.61" width="7.88" height="70.07" fill="#FFFFFF"/>
<rect x="475.17" y="1583.61" width="7.88" height="70.07" fill="#CCCCCC"/>
<rect x="483.05" y="1583.61" width="7.88" height="70.07" fill="#CCCCCC"/>
<rect x="490.93" y="1583.61" width="7.88" height="70.07" fill="#CCCCCC"/>
<rect x="498.82" y="1583.61" width="7.88" height="70.07" fill="#CCCCCC"/>
<rect x="506.7" y="1583.61" width="7.88" height="70.07" fill="#696969"/>
<rect x="514.58" y="1583.61" width="7.88" height="70.07" fill="#696969"/>
<rect x="522.47" y="1583.61" width="7.88" height="70.07" fill="#CCCCCC"/>
<rect x="530.35" y="1583.61" width="7.88" height="70.07" fill="#CCCCCC"/>
<rect x="538.23" y="1583.61" width="7.88" height="70.07" fill="#CCCCCC"/>
<rect x="546.12" y="1583.61" width="7.88" height="70.07" fill="#CCCCCC"/>
<rect x="459.4" y="1653.68" width="7.88" height="70.07" fill="#CCCCCC"/>
<rect x="467.28" y="1653.68" width="7.88" height="70.07" fill="#CCCCCC"/>
<rect x="475.17" y="1653.68" width="7.88" height="70.07" fill="#CCCCCC"/>
<rect x="483.05" y="1653.68" width="7.88" height="70.07" fill="#CCCCCC"/>
<rect x="490.93" y="1653.68" width="7.88" height="70.07" fill="#CCCCCC"/>
<rect x="498.82" y="1653.68" width="7.88" height="70.07" fill="#CCCCCC"/>
<rect x="506.7" y="1653.68" width="7.88" height="70.07" fill="#CCCCCC"/>
<rect x="514.58" y="1653.68" width="7.88" height="70.07" fill="#696969"/>
<rect x="522.47" y="1653.68" width="7.88" height="70.07" fill="#CCCCCC"/>
<rect x="530.35" y="1653.68" width="7.88" height="70.07" fill="#CCCCCC"/>
<rect x="538.23" y="1653.68" width="7.88" height="70.07" fill="#CCCCCC"/>
<rect x="546.12" y="1653.68" width="7.88" height="70.07" fill="#CCCCCC"/>
<rect x="459.4" y="1723.75" width="7.88" height="70.07" fill="#696969"/>
<rect x="467.28" y="1723.75" width="7.88" height="70.07" fill="#696969"/>
<rect x="475.17" y="1723.75" width="7.88" height="70.07" fill="#CCCCCC"/>
<rect x="483.05" y="1723.75" width="7.88" height="70.07" fill="#CCCCCC"/>
<rect x="490.93" y="1723.75" width="7.88" height="70.07" fill="#CCCCCC"/>
<rect x="498.82" y="1723.75" width="7.88" height="70.07" fill="#696969"/>
<rect x="506.7" y="1723.75" width="7.88" height="70.07" fill="#696969"/>
<rect x="514.58" y="1723.75" width="7.88" height="70.07" fill="#CCCCCC"/>
<rect x="522.47" y="1723.75" width="7.88" height="70.07" fill="#696969"/>
<rect x="530.35" y="1723.75" width="7.88" height="70.07" fill="#696969"/>
<rect x="538.23" y="1723.75" width="7.88" height="70.07" fill="#CCCCCC"/>
<rect x="546.12" y="1723.75" width="7.88" height="70.07" fill="#696969"/>
<rect x="459.4" y="1793.82" width="7.88" height="70.07" fill="#CCCCCC"/>
<rect x="467.28" y="1793.82" width="7.88" height="70.07" fill="#CCCCCC"/>
<rect x="475.17" y="1793.82" width="7.88" height="70.07" fill="#CCCCCC"/>
<rect x="483.05" y="1793.82" width="7.88" height="70.07" fill="#CCCCCC"/>
<rect x="490.93" y="1793.82" width="7.88" height="70.07" fill="#CCCCCC"/>
<rect x="498.82" y="1793.82" width="7.88" height="70.07" fill="#696969"/>
<rect x="506.7" y="1793.82" width="7.88" height="70.07" fill="#696969"/>
<rect x="514.58" y="1793.82" width="7.88" height="70.07" fill="#696969"/>
<rect x="522.47" y="1793.82" width="7.88" height="70.07" fill="#CCCCCC"/>
<rect x="530.35" y="1793.82" width="7.88" height="70.07" fill="#CCCCCC"/>
<rect x="538.23" y="1793.82" width="7.88" height="70.07" fill="#CCCCCC"/>
<rect x="546.12" y="1793.82" width="7.88" height="70.07" fill="#CCCCCC"/>
<rect x="459.4" y="1863.89" width="7.88" height="70.07" fill="#CCCCCC"/>
<rect x="467.28" y="1863.89" width="7.88" height="70.07" fill="#CCCCCC"/>
<rect x="475.17" y="1863.89" width="7.88" height="70.07" fill="#696969"/>
<rect x="483.05" y="1863.89" width="7.88" height="70.07" fill="#696969"/>
<rect x="490.93" y="1863.89" width="7.88" height="70.07" fill="#696969"/>
<rect x="498.82" y="1863.89" width="7.88" height="70.07" fill="#CCCCCC"/>
<rect x="506.7" y="1863.89" width="7.88" height="70.07" fill="#CCCCCC"/>
<rect x="514.58" y="1863.89" width="7.88" height="70.07" fill="#CCCCCC"/>
<rect x="522.47" y="1863.89" width="7.88" height="70.07" fill="#CCCCCC"/>
<rect x="530.35" y="1863.89" width="7.88" height="70.07" fill="#CCCCCC"/>
<rect x="538.23" y="1863.89" width="7.88" height="70.07" fill="#CCCCCC"/>
<rect x="546.12" y="1863.89" width="7.88" height="70.07" fill="#696969"/>
<rect x="459.4" y="1933.96" width="7.88" height="70.07" fill="#696969"/>
<rect x="467.28" y="1933.96" width="7.88" height="70.07" fill="#CCCCCC"/>
<rect x="475.17" y="1933.96" width="7.88" height="70.07" fill="#CCCCCC"/>
<rect x="483.05" y="1933.96" width="7.88" height="70.07" fill="#CCCCCC"/>
<rect x="490.93" y="1933.96" width="7.88" height="70.07" fill="#CCCCCC"/>
<rect x="498.82" y="1933.96" width="7.88" height="70.07" fill="#696969"/>
<rect x="506.7" y="1933.96" width="7.88" height="70.07" fill="#CCCCCC"/>
<rect x="514.58" y="1933.96" width="7.88" height="70.07" fill="#CCCCCC"/>
<rect x="522.47" y="1933.96" width="7.88" height="70.07" fill="#CCCCCC"/>
<rect x="530.35" y="1933.96" width="7.88" height="70.07" fill="#CCCCCC"/>
<rect x="538.23" y="1933.96" width="7.88" height="70.07" fill="#696969"/>
<rect x="546.12" y="1933.96" width="7.88" height="70.07" fill="#CCCCCC"/>
<rect x="459.4" y="2004.03" width="7.88" height="70.07" fill="#CCCCCC"/>
<rect x="467.28" y="2004.03" width="7.88" height="70.07" fill="#696969"/>
<rect x="475.17" y="2004.03" width="7.88" height="70.07" fill="#CCCCCC"/>
<rect x="483.05" y="2004.03" width="7.88" height="70.07" fill="#696969"/>
<rect x="490.93" y="2004.03" width="7.88" height="70.07" fill="#696969"/>
<rect x="498.82" y="2004.03" width="7.88" height="70.07" fill="#696969"/>
<rect x="506.7" y="2004.03" width="7.88" height="70.07" fill="#696969"/>
<rect x="514.58" y="2004.03" width="7.88" height="70.07" fill="#CCCCCC"/>
<rect x="522.47" y="2004.03" width="7.88" height="70.07" fill="#CCCCCC"/>
<rect x="530.35" y="2004.03" width="7.88" height="70.07" fill="#CCCCCC"/>
<rect x="538.23" y="2004.03" width="7.88" height="70.07" fill="#696969"/>
<rect x="546.12" y="2004.03" width="7.88" height="70.07" fill="#696969"/>
</g>
<rect x="459.4" y="1367" width="94.6" height="713.2" fill="none" stroke="#333" stroke-width="1.85"/>
<rect x="574.9" y="1174.7" width="31.7" height="190.5" fill="#fff" stroke="#333" stroke-width="1.85"/>
<text transform="translate(601.15 1270.1) rotate(-90)" text-anchor="middle" font-size="29" font-weight="bold" fill="#1a1a1a" textLength="126" lengthAdjust="spacingAndGlyphs">TP53−PG</text>
<g stroke="#000" stroke-width="0.55">
<rect x="574.9" y="1373.4" width="7.92" height="70.07" fill="#753400"/>
<rect x="582.82" y="1373.4" width="7.92" height="70.07" fill="#753400"/>
<rect x="590.75" y="1373.4" width="7.92" height="70.07" fill="#753400"/>
<rect x="598.67" y="1373.4" width="7.92" height="70.07" fill="#753400"/>
<rect x="574.9" y="1443.47" width="7.92" height="70.07" fill="#CCCCCC"/>
<rect x="582.82" y="1443.47" width="7.92" height="70.07" fill="#CCCCCC"/>
<rect x="590.75" y="1443.47" width="7.92" height="70.07" fill="#696969"/>
<rect x="598.67" y="1443.47" width="7.92" height="70.07" fill="#CCCCCC"/>
<rect x="574.9" y="1513.54" width="7.92" height="70.07" fill="#CCCCCC"/>
<rect x="582.82" y="1513.54" width="7.92" height="70.07" fill="#CCCCCC"/>
<rect x="590.75" y="1513.54" width="7.92" height="70.07" fill="#CCCCCC"/>
<rect x="598.67" y="1513.54" width="7.92" height="70.07" fill="#FFFFFF"/>
<rect x="574.9" y="1583.61" width="7.92" height="70.07" fill="#696969"/>
<rect x="582.82" y="1583.61" width="7.92" height="70.07" fill="#CCCCCC"/>
<rect x="590.75" y="1583.61" width="7.92" height="70.07" fill="#CCCCCC"/>
<rect x="598.67" y="1583.61" width="7.92" height="70.07" fill="#696969"/>
<rect x="574.9" y="1653.68" width="7.92" height="70.07" fill="#CCCCCC"/>
<rect x="582.82" y="1653.68" width="7.92" height="70.07" fill="#696969"/>
<rect x="590.75" y="1653.68" width="7.92" height="70.07" fill="#696969"/>
<rect x="598.67" y="1653.68" width="7.92" height="70.07" fill="#696969"/>
<rect x="574.9" y="1723.75" width="7.92" height="70.07" fill="#696969"/>
<rect x="582.82" y="1723.75" width="7.92" height="70.07" fill="#696969"/>
<rect x="590.75" y="1723.75" width="7.92" height="70.07" fill="#696969"/>
<rect x="598.67" y="1723.75" width="7.92" height="70.07" fill="#696969"/>
<rect x="574.9" y="1793.82" width="7.92" height="70.07" fill="#696969"/>
<rect x="582.82" y="1793.82" width="7.92" height="70.07" fill="#696969"/>
<rect x="590.75" y="1793.82" width="7.92" height="70.07" fill="#CCCCCC"/>
<rect x="598.67" y="1793.82" width="7.92" height="70.07" fill="#696969"/>
<rect x="574.9" y="1863.89" width="7.92" height="70.07" fill="#CCCCCC"/>
<rect x="582.82" y="1863.89" width="7.92" height="70.07" fill="#CCCCCC"/>
<rect x="590.75" y="1863.89" width="7.92" height="70.07" fill="#696969"/>
<rect x="598.67" y="1863.89" width="7.92" height="70.07" fill="#CCCCCC"/>
<rect x="574.9" y="1933.96" width="7.92" height="70.07" fill="#CCCCCC"/>
<rect x="582.82" y="1933.96" width="7.92" height="70.07" fill="#CCCCCC"/>
<rect x="590.75" y="1933.96" width="7.92" height="70.07" fill="#CCCCCC"/>
<rect x="598.67" y="1933.96" width="7.92" height="70.07" fill="#CCCCCC"/>
<rect x="574.9" y="2004.03" width="7.92" height="70.07" fill="#696969"/>
<rect x="582.82" y="2004.03" width="7.92" height="70.07" fill="#696969"/>
<rect x="590.75" y="2004.03" width="7.92" height="70.07" fill="#696969"/>
<rect x="598.67" y="2004.03" width="7.92" height="70.07" fill="#CCCCCC"/>
</g>
<rect x="574.9" y="1367" width="31.7" height="713.2" fill="none" stroke="#333" stroke-width="1.85"/>
<rect x="627.3" y="1174.7" width="134.2" height="190.5" fill="#fff" stroke="#333" stroke-width="1.85"/>
<text transform="translate(704.8 1270.1) rotate(-90)" text-anchor="middle" font-size="29" font-weight="bold" fill="#1a1a1a" textLength="78" lengthAdjust="spacingAndGlyphs">U−PG</text>
<g stroke="#000" stroke-width="0.55">
<rect x="627.3" y="1373.4" width="7.89" height="70.07" fill="#EB3F6C"/>
<rect x="635.19" y="1373.4" width="7.89" height="70.07" fill="#EB3F6C"/>
<rect x="643.09" y="1373.4" width="7.89" height="70.07" fill="#EB3F6C"/>
<rect x="650.98" y="1373.4" width="7.89" height="70.07" fill="#EB3F6C"/>
<rect x="658.88" y="1373.4" width="7.89" height="70.07" fill="#EB3F6C"/>
<rect x="666.77" y="1373.4" width="7.89" height="70.07" fill="#EB3F6C"/>
<rect x="674.66" y="1373.4" width="7.89" height="70.07" fill="#EB3F6C"/>
<rect x="682.56" y="1373.4" width="7.89" height="70.07" fill="#EB3F6C"/>
<rect x="690.45" y="1373.4" width="7.89" height="70.07" fill="#EB3F6C"/>
<rect x="698.35" y="1373.4" width="7.89" height="70.07" fill="#EB3F6C"/>
<rect x="706.24" y="1373.4" width="7.89" height="70.07" fill="#EB3F6C"/>
<rect x="714.14" y="1373.4" width="7.89" height="70.07" fill="#EB3F6C"/>
<rect x="722.03" y="1373.4" width="7.89" height="70.07" fill="#EB3F6C"/>
<rect x="729.92" y="1373.4" width="7.89" height="70.07" fill="#EB3F6C"/>
<rect x="737.82" y="1373.4" width="7.89" height="70.07" fill="#EB3F6C"/>
<rect x="745.71" y="1373.4" width="7.89" height="70.07" fill="#EB3F6C"/>
<rect x="753.61" y="1373.4" width="7.89" height="70.07" fill="#EB3F6C"/>
<rect x="627.3" y="1443.47" width="7.89" height="70.07" fill="#CCCCCC"/>
<rect x="635.19" y="1443.47" width="7.89" height="70.07" fill="#CCCCCC"/>
<rect x="643.09" y="1443.47" width="7.89" height="70.07" fill="#CCCCCC"/>
<rect x="650.98" y="1443.47" width="7.89" height="70.07" fill="#CCCCCC"/>
<rect x="658.88" y="1443.47" width="7.89" height="70.07" fill="#CCCCCC"/>
<rect x="666.77" y="1443.47" width="7.89" height="70.07" fill="#CCCCCC"/>
<rect x="674.66" y="1443.47" width="7.89" height="70.07" fill="#CCCCCC"/>
<rect x="682.56" y="1443.47" width="7.89" height="70.07" fill="#CCCCCC"/>
<rect x="690.45" y="1443.47" width="7.89" height="70.07" fill="#CCCCCC"/>
<rect x="698.35" y="1443.47" width="7.89" height="70.07" fill="#CCCCCC"/>
<rect x="706.24" y="1443.47" width="7.89" height="70.07" fill="#696969"/>
<rect x="714.14" y="1443.47" width="7.89" height="70.07" fill="#696969"/>
<rect x="722.03" y="1443.47" width="7.89" height="70.07" fill="#FFFFFF"/>
<rect x="729.92" y="1443.47" width="7.89" height="70.07" fill="#FFFFFF"/>
<rect x="737.82" y="1443.47" width="7.89" height="70.07" fill="#CCCCCC"/>
<rect x="745.71" y="1443.47" width="7.89" height="70.07" fill="#CCCCCC"/>
<rect x="753.61" y="1443.47" width="7.89" height="70.07" fill="#CCCCCC"/>
<rect x="627.3" y="1513.54" width="7.89" height="70.07" fill="#CCCCCC"/>
<rect x="635.19" y="1513.54" width="7.89" height="70.07" fill="#CCCCCC"/>
<rect x="643.09" y="1513.54" width="7.89" height="70.07" fill="#CCCCCC"/>
<rect x="650.98" y="1513.54" width="7.89" height="70.07" fill="#CCCCCC"/>
<rect x="658.88" y="1513.54" width="7.89" height="70.07" fill="#CCCCCC"/>
<rect x="666.77" y="1513.54" width="7.89" height="70.07" fill="#CCCCCC"/>
<rect x="674.66" y="1513.54" width="7.89" height="70.07" fill="#CCCCCC"/>
<rect x="682.56" y="1513.54" width="7.89" height="70.07" fill="#CCCCCC"/>
<rect x="690.45" y="1513.54" width="7.89" height="70.07" fill="#CCCCCC"/>
<rect x="698.35" y="1513.54" width="7.89" height="70.07" fill="#CCCCCC"/>
<rect x="706.24" y="1513.54" width="7.89" height="70.07" fill="#CCCCCC"/>
<rect x="714.14" y="1513.54" width="7.89" height="70.07" fill="#CCCCCC"/>
<rect x="722.03" y="1513.54" width="7.89" height="70.07" fill="#CCCCCC"/>
<rect x="729.92" y="1513.54" width="7.89" height="70.07" fill="#CCCCCC"/>
<rect x="737.82" y="1513.54" width="7.89" height="70.07" fill="#FFFFFF"/>
<rect x="745.71" y="1513.54" width="7.89" height="70.07" fill="#CCCCCC"/>
<rect x="753.61" y="1513.54" width="7.89" height="70.07" fill="#FFFFFF"/>
<rect x="627.3" y="1583.61" width="7.89" height="70.07" fill="#CCCCCC"/>
<rect x="635.19" y="1583.61" width="7.89" height="70.07" fill="#CCCCCC"/>
<rect x="643.09" y="1583.61" width="7.89" height="70.07" fill="#CCCCCC"/>
<rect x="650.98" y="1583.61" width="7.89" height="70.07" fill="#CCCCCC"/>
<rect x="658.88" y="1583.61" width="7.89" height="70.07" fill="#CCCCCC"/>
<rect x="666.77" y="1583.61" width="7.89" height="70.07" fill="#CCCCCC"/>
<rect x="674.66" y="1583.61" width="7.89" height="70.07" fill="#CCCCCC"/>
<rect x="682.56" y="1583.61" width="7.89" height="70.07" fill="#CCCCCC"/>
<rect x="690.45" y="1583.61" width="7.89" height="70.07" fill="#696969"/>
<rect x="698.35" y="1583.61" width="7.89" height="70.07" fill="#CCCCCC"/>
<rect x="706.24" y="1583.61" width="7.89" height="70.07" fill="#CCCCCC"/>
<rect x="714.14" y="1583.61" width="7.89" height="70.07" fill="#CCCCCC"/>
<rect x="722.03" y="1583.61" width="7.89" height="70.07" fill="#CCCCCC"/>
<rect x="729.92" y="1583.61" width="7.89" height="70.07" fill="#CCCCCC"/>
<rect x="737.82" y="1583.61" width="7.89" height="70.07" fill="#CCCCCC"/>
<rect x="745.71" y="1583.61" width="7.89" height="70.07" fill="#FFFFFF"/>
<rect x="753.61" y="1583.61" width="7.89" height="70.07" fill="#CCCCCC"/>
<rect x="627.3" y="1653.68" width="7.89" height="70.07" fill="#CCCCCC"/>
<rect x="635.19" y="1653.68" width="7.89" height="70.07" fill="#CCCCCC"/>
<rect x="643.09" y="1653.68" width="7.89" height="70.07" fill="#CCCCCC"/>
<rect x="650.98" y="1653.68" width="7.89" height="70.07" fill="#CCCCCC"/>
<rect x="658.88" y="1653.68" width="7.89" height="70.07" fill="#CCCCCC"/>
<rect x="666.77" y="1653.68" width="7.89" height="70.07" fill="#696969"/>
<rect x="674.66" y="1653.68" width="7.89" height="70.07" fill="#696969"/>
<rect x="682.56" y="1653.68" width="7.89" height="70.07" fill="#696969"/>
<rect x="690.45" y="1653.68" width="7.89" height="70.07" fill="#CCCCCC"/>
<rect x="698.35" y="1653.68" width="7.89" height="70.07" fill="#696969"/>
<rect x="706.24" y="1653.68" width="7.89" height="70.07" fill="#CCCCCC"/>
<rect x="714.14" y="1653.68" width="7.89" height="70.07" fill="#CCCCCC"/>
<rect x="722.03" y="1653.68" width="7.89" height="70.07" fill="#CCCCCC"/>
<rect x="729.92" y="1653.68" width="7.89" height="70.07" fill="#CCCCCC"/>
<rect x="737.82" y="1653.68" width="7.89" height="70.07" fill="#FFFFFF"/>
<rect x="745.71" y="1653.68" width="7.89" height="70.07" fill="#CCCCCC"/>
<rect x="753.61" y="1653.68" width="7.89" height="70.07" fill="#FFFFFF"/>
<rect x="627.3" y="1723.75" width="7.89" height="70.07" fill="#696969"/>
<rect x="635.19" y="1723.75" width="7.89" height="70.07" fill="#696969"/>
<rect x="643.09" y="1723.75" width="7.89" height="70.07" fill="#696969"/>
<rect x="650.98" y="1723.75" width="7.89" height="70.07" fill="#696969"/>
<rect x="658.88" y="1723.75" width="7.89" height="70.07" fill="#CCCCCC"/>
<rect x="666.77" y="1723.75" width="7.89" height="70.07" fill="#CCCCCC"/>
<rect x="674.66" y="1723.75" width="7.89" height="70.07" fill="#CCCCCC"/>
<rect x="682.56" y="1723.75" width="7.89" height="70.07" fill="#696969"/>
<rect x="690.45" y="1723.75" width="7.89" height="70.07" fill="#CCCCCC"/>
<rect x="698.35" y="1723.75" width="7.89" height="70.07" fill="#CCCCCC"/>
<rect x="706.24" y="1723.75" width="7.89" height="70.07" fill="#CCCCCC"/>
<rect x="714.14" y="1723.75" width="7.89" height="70.07" fill="#696969"/>
<rect x="722.03" y="1723.75" width="7.89" height="70.07" fill="#CCCCCC"/>
<rect x="729.92" y="1723.75" width="7.89" height="70.07" fill="#696969"/>
<rect x="737.82" y="1723.75" width="7.89" height="70.07" fill="#696969"/>
<rect x="745.71" y="1723.75" width="7.89" height="70.07" fill="#CCCCCC"/>
<rect x="753.61" y="1723.75" width="7.89" height="70.07" fill="#FFFFFF"/>
<rect x="627.3" y="1793.82" width="7.89" height="70.07" fill="#CCCCCC"/>
<rect x="635.19" y="1793.82" width="7.89" height="70.07" fill="#CCCCCC"/>
<rect x="643.09" y="1793.82" width="7.89" height="70.07" fill="#CCCCCC"/>
<rect x="650.98" y="1793.82" width="7.89" height="70.07" fill="#CCCCCC"/>
<rect x="658.88" y="1793.82" width="7.89" height="70.07" fill="#CCCCCC"/>
<rect x="666.77" y="1793.82" width="7.89" height="70.07" fill="#CCCCCC"/>
<rect x="674.66" y="1793.82" width="7.89" height="70.07" fill="#CCCCCC"/>
<rect x="682.56" y="1793.82" width="7.89" height="70.07" fill="#CCCCCC"/>
<rect x="690.45" y="1793.82" width="7.89" height="70.07" fill="#696969"/>
<rect x="698.35" y="1793.82" width="7.89" height="70.07" fill="#696969"/>
<rect x="706.24" y="1793.82" width="7.89" height="70.07" fill="#CCCCCC"/>
<rect x="714.14" y="1793.82" width="7.89" height="70.07" fill="#CCCCCC"/>
<rect x="722.03" y="1793.82" width="7.89" height="70.07" fill="#CCCCCC"/>
<rect x="729.92" y="1793.82" width="7.89" height="70.07" fill="#CCCCCC"/>
<rect x="737.82" y="1793.82" width="7.89" height="70.07" fill="#CCCCCC"/>
<rect x="745.71" y="1793.82" width="7.89" height="70.07" fill="#CCCCCC"/>
<rect x="753.61" y="1793.82" width="7.89" height="70.07" fill="#FFFFFF"/>
<rect x="627.3" y="1863.89" width="7.89" height="70.07" fill="#CCCCCC"/>
<rect x="635.19" y="1863.89" width="7.89" height="70.07" fill="#CCCCCC"/>
<rect x="643.09" y="1863.89" width="7.89" height="70.07" fill="#CCCCCC"/>
<rect x="650.98" y="1863.89" width="7.89" height="70.07" fill="#CCCCCC"/>
<rect x="658.88" y="1863.89" width="7.89" height="70.07" fill="#CCCCCC"/>
<rect x="666.77" y="1863.89" width="7.89" height="70.07" fill="#CCCCCC"/>
<rect x="674.66" y="1863.89" width="7.89" height="70.07" fill="#CCCCCC"/>
<rect x="682.56" y="1863.89" width="7.89" height="70.07" fill="#696969"/>
<rect x="690.45" y="1863.89" width="7.89" height="70.07" fill="#CCCCCC"/>
<rect x="698.35" y="1863.89" width="7.89" height="70.07" fill="#CCCCCC"/>
<rect x="706.24" y="1863.89" width="7.89" height="70.07" fill="#CCCCCC"/>
<rect x="714.14" y="1863.89" width="7.89" height="70.07" fill="#696969"/>
<rect x="722.03" y="1863.89" width="7.89" height="70.07" fill="#CCCCCC"/>
<rect x="729.92" y="1863.89" width="7.89" height="70.07" fill="#696969"/>
<rect x="737.82" y="1863.89" width="7.89" height="70.07" fill="#CCCCCC"/>
<rect x="745.71" y="1863.89" width="7.89" height="70.07" fill="#CCCCCC"/>
<rect x="753.61" y="1863.89" width="7.89" height="70.07" fill="#FFFFFF"/>
<rect x="627.3" y="1933.96" width="7.89" height="70.07" fill="#CCCCCC"/>
<rect x="635.19" y="1933.96" width="7.89" height="70.07" fill="#696969"/>
<rect x="643.09" y="1933.96" width="7.89" height="70.07" fill="#CCCCCC"/>
<rect x="650.98" y="1933.96" width="7.89" height="70.07" fill="#CCCCCC"/>
<rect x="658.88" y="1933.96" width="7.89" height="70.07" fill="#696969"/>
<rect x="666.77" y="1933.96" width="7.89" height="70.07" fill="#CCCCCC"/>
<rect x="674.66" y="1933.96" width="7.89" height="70.07" fill="#CCCCCC"/>
<rect x="682.56" y="1933.96" width="7.89" height="70.07" fill="#CCCCCC"/>
<rect x="690.45" y="1933.96" width="7.89" height="70.07" fill="#CCCCCC"/>
<rect x="698.35" y="1933.96" width="7.89" height="70.07" fill="#CCCCCC"/>
<rect x="706.24" y="1933.96" width="7.89" height="70.07" fill="#CCCCCC"/>
<rect x="714.14" y="1933.96" width="7.89" height="70.07" fill="#CCCCCC"/>
<rect x="722.03" y="1933.96" width="7.89" height="70.07" fill="#696969"/>
<rect x="729.92" y="1933.96" width="7.89" height="70.07" fill="#CCCCCC"/>
<rect x="737.82" y="1933.96" width="7.89" height="70.07" fill="#CCCCCC"/>
<rect x="745.71" y="1933.96" width="7.89" height="70.07" fill="#CCCCCC"/>
<rect x="753.61" y="1933.96" width="7.89" height="70.07" fill="#FFFFFF"/>
<rect x="627.3" y="2004.03" width="7.89" height="70.07" fill="#CCCCCC"/>
<rect x="635.19" y="2004.03" width="7.89" height="70.07" fill="#696969"/>
<rect x="643.09" y="2004.03" width="7.89" height="70.07" fill="#696969"/>
<rect x="650.98" y="2004.03" width="7.89" height="70.07" fill="#696969"/>
<rect x="658.88" y="2004.03" width="7.89" height="70.07" fill="#696969"/>
<rect x="666.77" y="2004.03" width="7.89" height="70.07" fill="#CCCCCC"/>
<rect x="674.66" y="2004.03" width="7.89" height="70.07" fill="#696969"/>
<rect x="682.56" y="2004.03" width="7.89" height="70.07" fill="#696969"/>
<rect x="690.45" y="2004.03" width="7.89" height="70.07" fill="#696969"/>
<rect x="698.35" y="2004.03" width="7.89" height="70.07" fill="#696969"/>
<rect x="706.24" y="2004.03" width="7.89" height="70.07" fill="#CCCCCC"/>
<rect x="714.14" y="2004.03" width="7.89" height="70.07" fill="#696969"/>
<rect x="722.03" y="2004.03" width="7.89" height="70.07" fill="#CCCCCC"/>
<rect x="729.92" y="2004.03" width="7.89" height="70.07" fill="#CCCCCC"/>
<rect x="737.82" y="2004.03" width="7.89" height="70.07" fill="#696969"/>
<rect x="745.71" y="2004.03" width="7.89" height="70.07" fill="#CCCCCC"/>
<rect x="753.61" y="2004.03" width="7.89" height="70.07" fill="#CCCCCC"/>
</g>
<rect x="627.3" y="1367" width="134.2" height="713.2" fill="none" stroke="#333" stroke-width="1.85"/>
<line x1="762.4" x2="772.6" y1="1408.44" y2="1408.44" stroke="#333" stroke-width="3.4"/>
<text x="779.4" y="1420.94" font-size="35" fill="#4D4D4D">PG</text>
<line x1="762.4" x2="772.6" y1="1478.51" y2="1478.51" stroke="#333" stroke-width="3.4"/>
<text x="779.4" y="1491.01" font-size="35" fill="#4D4D4D">IGHV_mutated</text>
<line x1="762.4" x2="772.6" y1="1548.58" y2="1548.58" stroke="#333" stroke-width="3.4"/>
<text x="779.4" y="1561.08" font-size="35" fill="#4D4D4D">trisomy12</text>
<line x1="762.4" x2="772.6" y1="1618.64" y2="1618.64" stroke="#333" stroke-width="3.4"/>
<text x="779.4" y="1631.14" font-size="35" fill="#4D4D4D">del(17)(p13)</text>
<line x1="762.4" x2="772.6" y1="1688.72" y2="1688.72" stroke="#333" stroke-width="3.4"/>
<text x="779.4" y="1701.22" font-size="35" fill="#4D4D4D">del(11)(q22.3)</text>
<line x1="762.4" x2="772.6" y1="1758.79" y2="1758.79" stroke="#333" stroke-width="3.4"/>
<text x="779.4" y="1771.29" font-size="35" fill="#4D4D4D">del(13)(q14)</text>
<line x1="762.4" x2="772.6" y1="1828.86" y2="1828.86" stroke="#333" stroke-width="3.4"/>
<text x="779.4" y="1841.36" font-size="35" fill="#4D4D4D">TP53</text>
<line x1="762.4" x2="772.6" y1="1898.93" y2="1898.93" stroke="#333" stroke-width="3.4"/>
<text x="779.4" y="1911.43" font-size="35" fill="#4D4D4D">ATM</text>
<line x1="762.4" x2="772.6" y1="1968.99" y2="1968.99" stroke="#333" stroke-width="3.4"/>
<text x="779.4" y="1981.49" font-size="35" fill="#4D4D4D">SF3B1</text>
<line x1="762.4" x2="772.6" y1="2039.07" y2="2039.07" stroke="#333" stroke-width="3.4"/>
<text x="779.4" y="2051.57" font-size="35" fill="#4D4D4D">pretreated</text>
<rect x="3.5" y="1355.9" width="37" height="37" fill="#696969" stroke="#222" stroke-width="1"/>
<text x="49.6" y="1382.8" font-size="31" fill="#000">yes</text>
<rect x="3.5" y="1419.5" width="37" height="37" fill="#CCCCCC" stroke="#222" stroke-width="1"/>
<text x="49.6" y="1446.4" font-size="31" fill="#000">no</text>
<rect x="3.5" y="1483.1" width="37" height="37" fill="#FFFFFF" stroke="#222" stroke-width="1"/>
<text x="49.6" y="1510" font-size="31" fill="#000">NA</text>
<text x="-0.6" y="1227.2" font-size="49.5" fill="#000" font-weight="bold">b</text>
</g>
<g id="panel-c">
<path d="M1340.2 81C1496.08 81 1530.72 81 1686.6 81V118.7C1530.72 118.7 1496.08 118.7 1340.2 118.7Z" fill="#9999FF" fill-opacity="0.5"/>
<path d="M1340.2 118.7C1496.08 118.7 1530.72 118.7 1686.6 118.7" fill="none" stroke="#9999FF" stroke-opacity="0.4" stroke-width="0.55"/>
<path d="M1340.2 118.7C1496.08 118.7 1530.72 219.22 1686.6 219.22V269.48C1530.72 269.48 1496.08 168.96 1340.2 168.96Z" fill="#9999FF" fill-opacity="0.5"/>
<path d="M1340.2 168.96C1496.08 168.96 1530.72 571.06 1686.6 571.06V583.62C1530.72 583.62 1496.08 181.52 1340.2 181.52Z" fill="#9999FF" fill-opacity="0.5"/>
<path d="M1340.2 181.52C1496.08 181.52 1530.72 784.67 1686.6 784.67V797.23C1530.72 797.23 1496.08 194.09 1340.2 194.09Z" fill="#9999FF" fill-opacity="0.5"/>
<path d="M1340.2 194.09C1496.08 194.09 1530.72 118.7 1686.6 118.7" fill="none" stroke="#FEBE44" stroke-opacity="0.4" stroke-width="0.55"/>
<path d="M1340.2 194.09C1496.08 194.09 1530.72 118.7 1686.6 118.7V143.83C1530.72 143.83 1496.08 219.22 1340.2 219.22Z" fill="#FEBE44" fill-opacity="0.5"/>
<path d="M1340.2 219.22C1496.08 219.22 1530.72 269.48 1686.6 269.48" fill="none" stroke="#FEBE44" stroke-opacity="0.4" stroke-width="0.55"/>
<path d="M1340.2 219.22C1496.08 219.22 1530.72 583.62 1686.6 583.62" fill="none" stroke="#FEBE44" stroke-opacity="0.4" stroke-width="0.55"/>
<path d="M1340.2 219.22C1496.08 219.22 1530.72 797.23 1686.6 797.23" fill="none" stroke="#FEBE44" stroke-opacity="0.4" stroke-width="0.55"/>
<path d="M1340.2 219.22C1496.08 219.22 1530.72 118.7 1686.6 118.7" fill="none" stroke="#00B05F" stroke-opacity="0.4" stroke-width="0.55"/>
<path d="M1340.2 219.22C1496.08 219.22 1530.72 143.83 1686.6 143.83V219.22C1530.72 219.22 1496.08 294.61 1340.2 294.61Z" fill="#00B05F" fill-opacity="0.5"/>
<path d="M1340.2 294.61C1496.08 294.61 1530.72 269.48 1686.6 269.48V282.05C1530.72 282.05 1496.08 307.18 1340.2 307.18Z" fill="#00B05F" fill-opacity="0.5"/>
<path d="M1340.2 307.18C1496.08 307.18 1530.72 583.62 1686.6 583.62V596.19C1530.72 596.19 1496.08 319.74 1340.2 319.74Z" fill="#00B05F" fill-opacity="0.5"/>
<path d="M1340.2 319.74C1496.08 319.74 1530.72 797.23 1686.6 797.23" fill="none" stroke="#00B05F" stroke-opacity="0.4" stroke-width="0.55"/>
<path d="M1340.2 319.74C1496.08 319.74 1530.72 118.7 1686.6 118.7" fill="none" stroke="#9B1F8F" stroke-opacity="0.4" stroke-width="0.55"/>
<path d="M1340.2 319.74C1496.08 319.74 1530.72 219.22 1686.6 219.22" fill="none" stroke="#9B1F8F" stroke-opacity="0.4" stroke-width="0.55"/>
<path d="M1340.2 319.74C1496.08 319.74 1530.72 282.05 1686.6 282.05V508.23C1530.72 508.23 1496.08 545.92 1340.2 545.92Z" fill="#9B1F8F" fill-opacity="0.5"/>
<path d="M1340.2 545.92C1496.08 545.92 1530.72 596.19 1686.6 596.19" fill="none" stroke="#9B1F8F" stroke-opacity="0.4" stroke-width="0.55"/>
<path d="M1340.2 545.92C1496.08 545.92 1530.72 797.23 1686.6 797.23" fill="none" stroke="#9B1F8F" stroke-opacity="0.4" stroke-width="0.55"/>
<path d="M1340.2 545.92C1496.08 545.92 1530.72 118.7 1686.6 118.7" fill="none" stroke="#EB3F6C" stroke-opacity="0.4" stroke-width="0.55"/>
<path d="M1340.2 545.92C1496.08 545.92 1530.72 219.22 1686.6 219.22" fill="none" stroke="#EB3F6C" stroke-opacity="0.4" stroke-width="0.55"/>
<path d="M1340.2 545.92C1496.08 545.92 1530.72 508.23 1686.6 508.23V558.49C1530.72 558.49 1496.08 596.19 1340.2 596.19Z" fill="#EB3F6C" fill-opacity="0.5"/>
<path d="M1340.2 596.19C1496.08 596.19 1530.72 596.19 1686.6 596.19V759.54C1530.72 759.54 1496.08 759.54 1340.2 759.54Z" fill="#EB3F6C" fill-opacity="0.5"/>
<path d="M1340.2 759.54C1496.08 759.54 1530.72 797.23 1686.6 797.23" fill="none" stroke="#EB3F6C" stroke-opacity="0.4" stroke-width="0.55"/>
<path d="M1340.2 759.54C1496.08 759.54 1530.72 118.7 1686.6 118.7" fill="none" stroke="#753400" stroke-opacity="0.4" stroke-width="0.55"/>
<path d="M1340.2 759.54C1496.08 759.54 1530.72 219.22 1686.6 219.22" fill="none" stroke="#753400" stroke-opacity="0.4" stroke-width="0.55"/>
<path d="M1340.2 759.54C1496.08 759.54 1530.72 558.49 1686.6 558.49V571.06C1530.72 571.06 1496.08 772.1 1340.2 772.1Z" fill="#753400" fill-opacity="0.5"/>
<path d="M1340.2 772.1C1496.08 772.1 1530.72 759.54 1686.6 759.54V784.67C1530.72 784.67 1496.08 797.23 1340.2 797.23Z" fill="#753400" fill-opacity="0.5"/>
<path d="M1340.2 797.23C1496.08 797.23 1530.72 797.23 1686.6 797.23V809.8C1530.72 809.8 1496.08 809.8 1340.2 809.8Z" fill="#753400" fill-opacity="0.5"/>
<rect x="1164" y="81" width="174.6" height="113.09" fill="#9999FF" stroke="#808080" stroke-width="3.2"/>
<text x="1251.3" y="148.84" font-size="31.7" fill="#000" text-anchor="middle" textLength="127" lengthAdjust="spacingAndGlyphs">New−PG</text>
<rect x="1164" y="194.09" width="174.6" height="25.13" fill="#FEBE44" stroke="#808080" stroke-width="3.2"/>
<text x="1251.3" y="217.96" font-size="31.7" fill="#000" text-anchor="middle" textLength="175.5" lengthAdjust="spacingAndGlyphs">Tris12M−PG</text>
<rect x="1164" y="219.22" width="174.6" height="100.52" fill="#00B05F" stroke="#808080" stroke-width="3.2"/>
<text x="1251.3" y="280.78" font-size="31.7" fill="#000" text-anchor="middle" textLength="173" lengthAdjust="spacingAndGlyphs">Tris12U−PG</text>
<rect x="1164" y="319.74" width="174.6" height="226.18" fill="#9B1F8F" stroke="#808080" stroke-width="3.2"/>
<text x="1251.3" y="444.13" font-size="31.7" fill="#000" text-anchor="middle" textLength="91.5" lengthAdjust="spacingAndGlyphs">M−PG</text>
<rect x="1164" y="545.92" width="174.6" height="213.61" fill="#EB3F6C" stroke="#808080" stroke-width="3.2"/>
<text x="1251.3" y="664.03" font-size="31.7" fill="#000" text-anchor="middle" textLength="88" lengthAdjust="spacingAndGlyphs">U−PG</text>
<rect x="1164" y="759.54" width="174.6" height="50.26" fill="#753400" stroke="#808080" stroke-width="3.2"/>
<text x="1251.3" y="795.97" font-size="31.7" fill="#000" text-anchor="middle" textLength="140.5" lengthAdjust="spacingAndGlyphs">TP53−PG</text>
<rect x="1688.2" y="81" width="174.6" height="37.7" fill="#E5E5E5" stroke="#808080" stroke-width="3.2"/>
<text x="1775.5" y="111.15" font-size="31.7" fill="#000" text-anchor="middle" textLength="85" lengthAdjust="spacingAndGlyphs">RNA5</text>
<rect x="1688.2" y="118.7" width="174.6" height="100.52" fill="#E5E5E5" stroke="#808080" stroke-width="3.2"/>
<text x="1775.5" y="180.26" font-size="31.7" fill="#000" text-anchor="middle" textLength="85" lengthAdjust="spacingAndGlyphs">RNA3</text>
<rect x="1688.2" y="219.22" width="174.6" height="351.83" fill="#E5E5E5" stroke="#808080" stroke-width="3.2"/>
<text x="1775.5" y="406.44" font-size="31.7" fill="#000" text-anchor="middle" textLength="85" lengthAdjust="spacingAndGlyphs">RNA1</text>
<rect x="1688.2" y="571.06" width="174.6" height="213.61" fill="#E5E5E5" stroke="#808080" stroke-width="3.2"/>
<text x="1775.5" y="689.16" font-size="31.7" fill="#000" text-anchor="middle" textLength="85" lengthAdjust="spacingAndGlyphs">RNA2</text>
<rect x="1688.2" y="784.67" width="174.6" height="25.13" fill="#E5E5E5" stroke="#808080" stroke-width="3.2"/>
<text x="1775.5" y="808.53" font-size="31.7" fill="#000" text-anchor="middle" textLength="85" lengthAdjust="spacingAndGlyphs">RNA4</text>
<text x="1250.6" y="890" font-size="35" fill="#4D4D4D" text-anchor="middle" textLength="119.2" lengthAdjust="spacingAndGlyphs">Protein</text>
<text x="1774.5" y="890" font-size="35" fill="#4D4D4D" text-anchor="middle">RNA</text>
<text x="1046.3" y="27.9" font-size="49.5" fill="#000" font-weight="bold">c</text>
</g>
<g id="panel-d">
<rect x="1168.3" y="1040.9" width="479.3" height="397.2" fill="#fff" stroke="#333" stroke-width="1.9"/>
<path d="M1188.55 1057.1 L1189.9 1057.1 L1189.9 1218.66 L1192.6 1218.66 L1192.6 1269.13 L1202.7 1269.13 L1202.7 1319.62 L1204.2 1319.62 L1204.2 1370.11 L1336.9 1370.11 L1336.9 1420.6 L1336.9 1420.6" fill="none" stroke="#9999FF" stroke-width="7.5" stroke-linejoin="round" stroke-linecap="butt"/>
<path d="M1188.55 1057.1 L1189.9 1057.1 L1189.9 1137.8 L1192.9 1137.8 L1192.9 1178.15 L1227.7 1178.15 L1227.7 1226.75 L1613.8 1226.75" fill="none" stroke="#FEBE44" stroke-width="7.5" stroke-linejoin="round" stroke-linecap="butt"/>
<path d="M1188.55 1057.1 L1193.5 1057.1 L1193.5 1147.97 L1213.2 1147.97 L1213.2 1193.41 L1225 1193.41 L1225 1238.85 L1256.25 1238.85 L1256.25 1284.29 L1603 1284.29" fill="none" stroke="#00B05F" stroke-width="7.5" stroke-linejoin="round" stroke-linecap="butt"/>
<path d="M1188.55 1057.1 L1193.3 1057.1 L1193.3 1079.09 L1568.2 1079.09" fill="none" stroke="#9B1F8F" stroke-width="7.5" stroke-linejoin="round" stroke-linecap="butt"/>
<path d="M1188.55 1057.1 L1189.9 1057.1 L1189.9 1079.82 L1191.9 1079.82 L1191.9 1147.97 L1194 1147.97 L1194 1193.41 L1196.3 1193.41 L1196.3 1216.13 L1200.3 1216.13 L1200.3 1238.85 L1211.6 1238.85 L1211.6 1261.57 L1228.3 1261.57 L1228.3 1284.29 L1229.8 1284.29 L1229.8 1307.01 L1230.8 1307.01 L1230.8 1329.72 L1244 1329.72 L1244 1352.44 L1254.4 1352.44 L1254.4 1375.16 L1261 1375.16 L1261 1397.88 L1442.9 1397.88 L1442.9 1420.6 L1442.9 1420.6" fill="none" stroke="#EB3F6C" stroke-width="7.5" stroke-linejoin="round" stroke-linecap="butt"/>
<path d="M1188.55 1057.1 L1194.3 1057.1 L1194.3 1238.85 L1285 1238.85" fill="none" stroke="#753400" stroke-width="7.5" stroke-linejoin="round" stroke-linecap="butt"/>
<path d="M1191.5 1205.96V1231.36M1179.2 1218.66H1203.8" stroke="#9999FF" stroke-width="3.8" fill="none"/>
<path d="M1212.7 1165.45V1190.85M1200.4 1178.15H1225" stroke="#FEBE44" stroke-width="3.8" fill="none"/>
<path d="M1246.3 1214.05V1239.45M1234 1226.75H1258.6" stroke="#FEBE44" stroke-width="3.8" fill="none"/>
<path d="M1479.3 1214.05V1239.45M1467 1226.75H1491.6" stroke="#FEBE44" stroke-width="3.8" fill="none"/>
<path d="M1555.4 1214.05V1239.45M1543.1 1226.75H1567.7" stroke="#FEBE44" stroke-width="3.8" fill="none"/>
<path d="M1601.6 1214.05V1239.45M1589.3 1226.75H1613.9" stroke="#FEBE44" stroke-width="3.8" fill="none"/>
<path d="M1288.1 1271.59V1296.99M1275.8 1284.29H1300.4" stroke="#00B05F" stroke-width="3.8" fill="none"/>
<path d="M1314.6 1271.59V1296.99M1302.3 1284.29H1326.9" stroke="#00B05F" stroke-width="3.8" fill="none"/>
<path d="M1590.2 1271.59V1296.99M1577.9 1284.29H1602.5" stroke="#00B05F" stroke-width="3.8" fill="none"/>
<path d="M1220.05 1066.39V1091.79M1207.75 1079.09H1232.35" stroke="#9B1F8F" stroke-width="3.8" fill="none"/>
<path d="M1233 1066.39V1091.79M1220.7 1079.09H1245.3" stroke="#9B1F8F" stroke-width="3.8" fill="none"/>
<path d="M1234 1066.39V1091.79M1221.7 1079.09H1246.3" stroke="#9B1F8F" stroke-width="3.8" fill="none"/>
<path d="M1239.1 1066.39V1091.79M1226.8 1079.09H1251.4" stroke="#9B1F8F" stroke-width="3.8" fill="none"/>
<path d="M1240.5 1066.39V1091.79M1228.2 1079.09H1252.8" stroke="#9B1F8F" stroke-width="3.8" fill="none"/>
<path d="M1247.9 1066.39V1091.79M1235.6 1079.09H1260.2" stroke="#9B1F8F" stroke-width="3.8" fill="none"/>
<path d="M1265.3 1066.39V1091.79M1253 1079.09H1277.6" stroke="#9B1F8F" stroke-width="3.8" fill="none"/>
<path d="M1270.1 1066.39V1091.79M1257.8 1079.09H1282.4" stroke="#9B1F8F" stroke-width="3.8" fill="none"/>
<path d="M1271.1 1066.39V1091.79M1258.8 1079.09H1283.4" stroke="#9B1F8F" stroke-width="3.8" fill="none"/>
<path d="M1284.1 1066.39V1091.79M1271.8 1079.09H1296.4" stroke="#9B1F8F" stroke-width="3.8" fill="none"/>
<path d="M1287.1 1066.39V1091.79M1274.8 1079.09H1299.4" stroke="#9B1F8F" stroke-width="3.8" fill="none"/>
<path d="M1290.1 1066.39V1091.79M1277.8 1079.09H1302.4" stroke="#9B1F8F" stroke-width="3.8" fill="none"/>
<path d="M1305 1066.39V1091.79M1292.7 1079.09H1317.3" stroke="#9B1F8F" stroke-width="3.8" fill="none"/>
<path d="M1308 1066.39V1091.79M1295.7 1079.09H1320.3" stroke="#9B1F8F" stroke-width="3.8" fill="none"/>
<path d="M1311.1 1066.39V1091.79M1298.8 1079.09H1323.4" stroke="#9B1F8F" stroke-width="3.8" fill="none"/>
<path d="M1555.8 1066.39V1091.79M1543.5 1079.09H1568.1" stroke="#9B1F8F" stroke-width="3.8" fill="none"/>
<path d="M1272.7 1226.15V1251.55M1260.4 1238.85H1285" stroke="#753400" stroke-width="3.8" fill="none"/>
<line x1="1157" x2="1167.4" y1="1057.1" y2="1057.1" stroke="#000" stroke-width="3.9"/>
<text x="1149.4" y="1067.4" font-size="28" fill="#4D4D4D" text-anchor="end" textLength="53.6" lengthAdjust="spacingAndGlyphs">1.00</text>
<line x1="1157" x2="1167.4" y1="1147.97" y2="1147.97" stroke="#000" stroke-width="3.9"/>
<text x="1149.4" y="1158.27" font-size="28" fill="#4D4D4D" text-anchor="end" textLength="53.6" lengthAdjust="spacingAndGlyphs">0.75</text>
<line x1="1157" x2="1167.4" y1="1238.85" y2="1238.85" stroke="#000" stroke-width="3.9"/>
<text x="1149.4" y="1249.15" font-size="28" fill="#4D4D4D" text-anchor="end" textLength="53.6" lengthAdjust="spacingAndGlyphs">0.50</text>
<line x1="1157" x2="1167.4" y1="1329.72" y2="1329.72" stroke="#000" stroke-width="3.9"/>
<text x="1149.4" y="1340.02" font-size="28" fill="#4D4D4D" text-anchor="end" textLength="53.6" lengthAdjust="spacingAndGlyphs">0.25</text>
<line x1="1157" x2="1167.4" y1="1420.6" y2="1420.6" stroke="#000" stroke-width="3.9"/>
<text x="1149.4" y="1430.9" font-size="28" fill="#4D4D4D" text-anchor="end" textLength="53.6" lengthAdjust="spacingAndGlyphs">0.00</text>
<line x1="1188.55" x2="1188.55" y1="1439" y2="1449.4" stroke="#000" stroke-width="3.9"/>
<text x="1188.55" y="1476.2" font-size="28" fill="#4D4D4D" text-anchor="middle">0</text>
<line x1="1313.71" x2="1313.71" y1="1439" y2="1449.4" stroke="#000" stroke-width="3.9"/>
<text x="1313.71" y="1476.2" font-size="28" fill="#4D4D4D" text-anchor="middle">2</text>
<line x1="1438.87" x2="1438.87" y1="1439" y2="1449.4" stroke="#000" stroke-width="3.9"/>
<text x="1438.87" y="1476.2" font-size="28" fill="#4D4D4D" text-anchor="middle">4</text>
<line x1="1564.03" x2="1564.03" y1="1439" y2="1449.4" stroke="#000" stroke-width="3.9"/>
<text x="1564.03" y="1476.2" font-size="28" fill="#4D4D4D" text-anchor="middle">6</text>
<text x="1119.1" y="1009.9" font-size="34.4" fill="#000" textLength="376.5" lengthAdjust="spacingAndGlyphs">Time to next treatment</text>
<text x="1406.9" y="1518" font-size="34.5" fill="#000" text-anchor="middle" textLength="211" lengthAdjust="spacingAndGlyphs">Time in years</text>
<text transform="translate(1077.7 1239.6) rotate(-90)" text-anchor="middle" font-size="36" textLength="356" lengthAdjust="spacingAndGlyphs">Treatment free survival</text>
<text x="1702.6" y="1052.6" font-size="37" fill="#000" textLength="54.6" lengthAdjust="spacingAndGlyphs">PG</text>
<path d="M1707.9 1106.1H1757.2" stroke="#9999FF" stroke-width="7.7" fill="none"/>
<path d="M1733.1 1093.4V1118.8" stroke="#9999FF" stroke-width="4" fill="none"/>
<text x="1782.1" y="1117.8" font-size="31.7" fill="#000" textLength="127" lengthAdjust="spacingAndGlyphs">New−PG</text>
<path d="M1707.9 1167.02H1757.2" stroke="#FEBE44" stroke-width="7.7" fill="none"/>
<path d="M1733.1 1154.32V1179.72" stroke="#FEBE44" stroke-width="4" fill="none"/>
<text x="1782.1" y="1178.72" font-size="31.7" fill="#000" textLength="175.5" lengthAdjust="spacingAndGlyphs">Tris12M−PG</text>
<path d="M1707.9 1227.94H1757.2" stroke="#00B05F" stroke-width="7.7" fill="none"/>
<path d="M1733.1 1215.24V1240.64" stroke="#00B05F" stroke-width="4" fill="none"/>
<text x="1782.1" y="1239.64" font-size="31.7" fill="#000" textLength="173" lengthAdjust="spacingAndGlyphs">Tris12U−PG</text>
<path d="M1707.9 1288.86H1757.2" stroke="#9B1F8F" stroke-width="7.7" fill="none"/>
<path d="M1733.1 1276.16V1301.56" stroke="#9B1F8F" stroke-width="4" fill="none"/>
<text x="1782.1" y="1300.56" font-size="31.7" fill="#000" textLength="91.5" lengthAdjust="spacingAndGlyphs">M−PG</text>
<path d="M1707.9 1349.78H1757.2" stroke="#EB3F6C" stroke-width="7.7" fill="none"/>
<path d="M1733.1 1337.08V1362.48" stroke="#EB3F6C" stroke-width="4" fill="none"/>
<text x="1782.1" y="1361.48" font-size="31.7" fill="#000" textLength="88" lengthAdjust="spacingAndGlyphs">U−PG</text>
<path d="M1707.9 1410.7H1757.2" stroke="#753400" stroke-width="7.7" fill="none"/>
<path d="M1733.1 1398V1423.4" stroke="#753400" stroke-width="4" fill="none"/>
<text x="1782.1" y="1422.4" font-size="31.7" fill="#000" textLength="140.5" lengthAdjust="spacingAndGlyphs">TP53−PG</text>
<text x="1046.9" y="969.7" font-size="49.5" fill="#000" font-weight="bold">d</text>
</g>
<g id="panel-e">
<rect x="1184.2" y="1669.5" width="780.2" height="336.9" fill="#fff" stroke="#333" stroke-width="1.9"/>
<line x1="1273" x2="1273" y1="1786.6" y2="1855" stroke="#333" stroke-width="3.4"/>
<line x1="1273" x2="1273" y1="1941.9" y2="1955.7" stroke="#333" stroke-width="3.4"/>
<rect x="1217.1" y="1856.7" width="111.8" height="83.5" fill="#9999FF" stroke="#333" stroke-width="3.4" stroke-linejoin="round"/>
<line x1="1216.4" x2="1329.6" y1="1925.6" y2="1925.6" stroke="#333" stroke-width="8"/>
<line x1="1423.6" x2="1423.6" y1="1938.9" y2="1959.4" stroke="#333" stroke-width="3.4"/>
<rect x="1367.4" y="1961.1" width="112.4" height="15.9" fill="#FEBE44" stroke="#333" stroke-width="3.4" stroke-linejoin="round"/>
<line x1="1366.7" x2="1480.5" y1="1973" y2="1973" stroke="#333" stroke-width="8"/>
<rect x="1517.7" y="1964.9" width="112.9" height="5.4" fill="#00B05F" stroke="#333" stroke-width="3.4" stroke-linejoin="round"/>
<line x1="1517" x2="1631.3" y1="1967.6" y2="1967.6" stroke="#333" stroke-width="8"/>
<rect x="1668.1" y="1966.9" width="113.1" height="7.1" fill="#9B1F8F" stroke="#333" stroke-width="3.4" stroke-linejoin="round"/>
<line x1="1667.4" x2="1781.9" y1="1970.5" y2="1970.5" stroke="#333" stroke-width="8"/>
<line x1="1875.4" x2="1875.4" y1="1930" y2="1943.9" stroke="#333" stroke-width="3.4"/>
<line x1="1875.4" x2="1875.4" y1="1965" y2="1981" stroke="#333" stroke-width="3.4"/>
<rect x="1819.1" y="1945.6" width="112.6" height="17.7" fill="#EB3F6C" stroke="#333" stroke-width="3.4" stroke-linejoin="round"/>
<line x1="1818.4" x2="1932.4" y1="1955.2" y2="1955.2" stroke="#333" stroke-width="8"/>
<g fill="#000"><circle cx="1273" cy="1786.6" r="8.1"/><circle cx="1273" cy="1925.6" r="8.1"/><circle cx="1273" cy="1955.7" r="8.1"/><circle cx="1423.3" cy="1938.9" r="8.1"/><circle cx="1423.3" cy="1967" r="8.1"/><circle cx="1420.5" cy="1978" r="8.1"/><circle cx="1430.5" cy="1977" r="8.1"/><circle cx="1568.2" cy="1965.7" r="8.1"/><circle cx="1579.4" cy="1965.2" r="8.1"/><circle cx="1573.9" cy="1977.7" r="8.1"/><circle cx="1724.8" cy="1957.7" r="8.1"/><circle cx="1732.3" cy="1957.7" r="8.1"/><circle cx="1717.3" cy="1966.5" r="8.1"/><circle cx="1724.8" cy="1965.8" r="8.1"/><circle cx="1731.5" cy="1965.8" r="8.1"/><circle cx="1703.5" cy="1972.8" r="8.1"/><circle cx="1709" cy="1972.8" r="8.1"/><circle cx="1715.5" cy="1972.8" r="8.1"/><circle cx="1721.5" cy="1972.8" r="8.1"/><circle cx="1728" cy="1972.8" r="8.1"/><circle cx="1734" cy="1972.8" r="8.1"/><circle cx="1740.5" cy="1972.8" r="8.1"/><circle cx="1746" cy="1972.8" r="8.1"/><circle cx="1880.9" cy="1926.4" r="8.1"/><circle cx="1874.4" cy="1928.2" r="8.1"/><circle cx="1875.1" cy="1944.5" r="8.1"/><circle cx="1875.1" cy="1950.7" r="8.1"/><circle cx="1875.1" cy="1963.3" r="8.1"/><circle cx="1875.1" cy="1967" r="8.1"/><circle cx="1880.9" cy="1957.8" r="8.1"/><circle cx="1875.1" cy="1981.6" r="8.1"/></g>
<text x="1272.7" y="1717.8" font-size="40" fill="#000" text-anchor="middle">*</text>
<text x="1272.4" y="1694.7" font-size="30.7" fill="#000" textLength="377" lengthAdjust="spacingAndGlyphs">Kruskal−Wallis, p = 0.0086</text>
<line x1="1173" x2="1183.3" y1="1684.1" y2="1684.1" stroke="#333" stroke-width="3.7"/>
<text x="1164.9" y="1694.5" font-size="28" fill="#4D4D4D" text-anchor="end" textLength="70.5" lengthAdjust="spacingAndGlyphs">0.015</text>
<line x1="1173" x2="1183.3" y1="1780.3" y2="1780.3" stroke="#333" stroke-width="3.7"/>
<text x="1164.9" y="1790.7" font-size="28" fill="#4D4D4D" text-anchor="end" textLength="70.5" lengthAdjust="spacingAndGlyphs">0.010</text>
<line x1="1173" x2="1183.3" y1="1876.5" y2="1876.5" stroke="#333" stroke-width="3.7"/>
<text x="1164.9" y="1886.9" font-size="28" fill="#4D4D4D" text-anchor="end" textLength="70.5" lengthAdjust="spacingAndGlyphs">0.005</text>
<line x1="1173" x2="1183.3" y1="1972.7" y2="1972.7" stroke="#333" stroke-width="3.7"/>
<text x="1164.9" y="1983.1" font-size="28" fill="#4D4D4D" text-anchor="end" textLength="70.5" lengthAdjust="spacingAndGlyphs">0.000</text>
<line x1="1273" x2="1273" y1="2007.2" y2="2017.4" stroke="#333" stroke-width="3.9"/>
<text transform="translate(1288.2 2039.8) rotate(-45)" text-anchor="end" font-size="28" fill="#4D4D4D">New−PG</text>
<line x1="1423.3" x2="1423.3" y1="2007.2" y2="2017.4" stroke="#333" stroke-width="3.9"/>
<text transform="translate(1438.5 2039.8) rotate(-45)" text-anchor="end" font-size="28" fill="#4D4D4D">Tris12M−PG</text>
<line x1="1573.6" x2="1573.6" y1="2007.2" y2="2017.4" stroke="#333" stroke-width="3.9"/>
<text transform="translate(1588.8 2039.8) rotate(-45)" text-anchor="end" font-size="28" fill="#4D4D4D">Tris12U−PG</text>
<line x1="1723.9" x2="1723.9" y1="2007.2" y2="2017.4" stroke="#333" stroke-width="3.9"/>
<text transform="translate(1739.1 2039.8) rotate(-45)" text-anchor="end" font-size="28" fill="#4D4D4D">M−PG</text>
<line x1="1874.2" x2="1874.2" y1="2007.2" y2="2017.4" stroke="#333" stroke-width="3.9"/>
<text transform="translate(1889.4 2039.8) rotate(-45)" text-anchor="end" font-size="28" fill="#4D4D4D">U−PG</text>
<text x="1134.8" y="1638.6" font-size="34.5" fill="#000" textLength="408" lengthAdjust="spacingAndGlyphs">Lymphocyte growth rate</text>
<text transform="translate(1077.7 1837.6) rotate(-90)" text-anchor="middle" font-size="36" textLength="374" lengthAdjust="spacingAndGlyphs">Lymphocyte growth rate</text>
<text x="1045.3" y="1598.8" font-size="51.5" fill="#000" textLength="30.6" lengthAdjust="spacingAndGlyphs" font-weight="bold">e</text>
</g>
</svg>
</body></html>
